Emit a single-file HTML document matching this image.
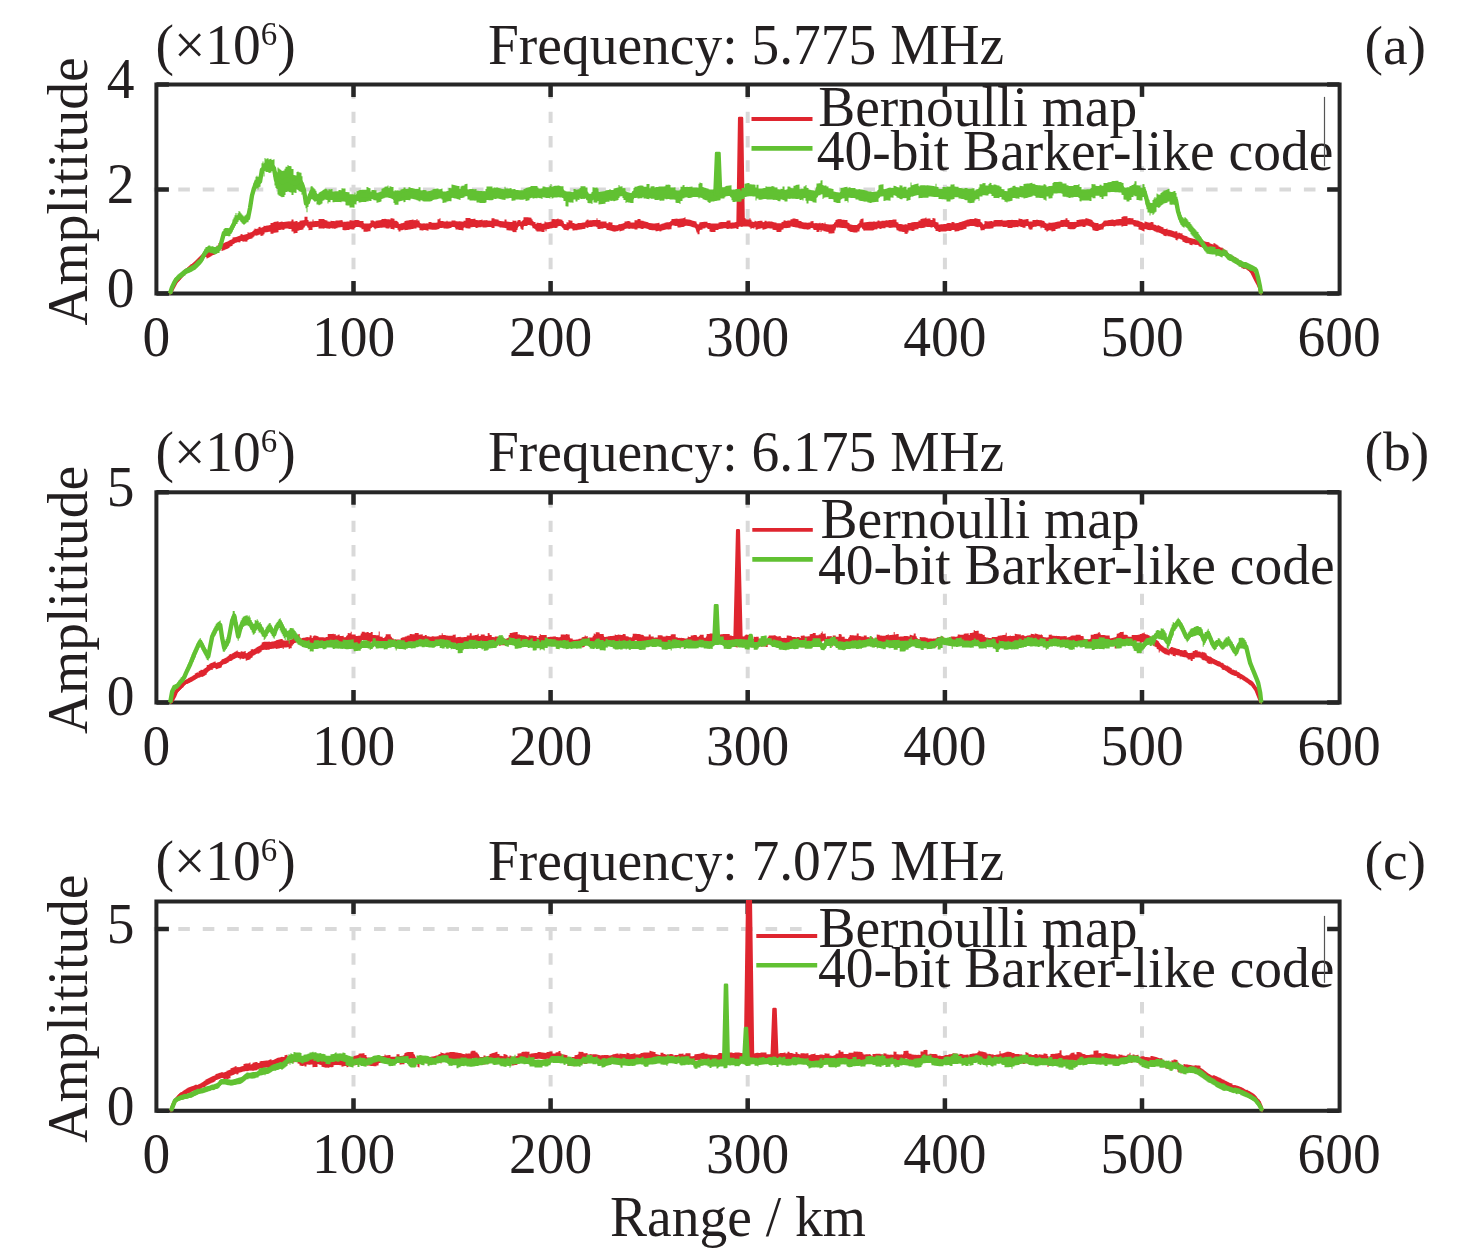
<!DOCTYPE html>
<html><head><meta charset="utf-8"><title>Figure</title>
<style>html,body{margin:0;padding:0;background:#fff;} svg{display:block;}</style>
</head><body>
<svg width="1476" height="1254" viewBox="0 0 1476 1254" font-family="'Liberation Serif', 'Times New Roman', serif" font-size="55.5" fill="#231f20">
<rect width="1476" height="1254" fill="#fff"/>
<defs>
<clipPath id="c0"><rect x="156.4" y="83.0" width="1182.7" height="212.0"/></clipPath>
<clipPath id="c1"><rect x="156.4" y="490.8" width="1182.7" height="213.2"/></clipPath>
<clipPath id="c2"><rect x="156.4" y="900.0" width="1182.7" height="212.3"/></clipPath>
</defs>
<path d="M353.5 293.5 V84.5 M550.6 293.5 V84.5 M747.7 293.5 V84.5 M944.9 293.5 V84.5 M1142.0 293.5 V84.5" stroke="#d9d9d9" stroke-width="4" stroke-dasharray="11.4 12.95" fill="none"/>
<path d="M153.8 189.5 H1339.1" stroke="#d9d9d9" stroke-width="4.2" stroke-dasharray="11.6 12.87" fill="none"/>
<path d="M353.5 702.5 V492.3 M550.6 702.5 V492.3 M747.7 702.5 V492.3 M944.9 702.5 V492.3 M1142.0 702.5 V492.3" stroke="#d9d9d9" stroke-width="4" stroke-dasharray="11.4 12.95" fill="none"/>
<path d="M353.5 1110.8 V901.5 M550.6 1110.8 V901.5 M747.7 1110.8 V901.5 M944.9 1110.8 V901.5 M1142.0 1110.8 V901.5" stroke="#d9d9d9" stroke-width="4" stroke-dasharray="11.4 12.95" fill="none"/>
<path d="M153.8 929.0 H1339.1" stroke="#d9d9d9" stroke-width="4.2" stroke-dasharray="11.6 12.87" fill="none"/>
<path d="M353.5 293.5 V281.0 M353.5 84.5 V97.0 M550.6 293.5 V281.0 M550.6 84.5 V97.0 M747.7 293.5 V281.0 M747.7 84.5 V97.0 M944.9 293.5 V281.0 M944.9 84.5 V97.0 M1142.0 293.5 V281.0 M1142.0 84.5 V97.0 M156.4 293.5 H168.9 M1339.6 293.5 H1327.1 M156.4 189.5 H168.9 M1339.6 189.5 H1327.1 M156.4 84.5 H168.9 M1339.6 84.5 H1327.1" stroke="#262626" stroke-width="4.5" fill="none"/>
<rect x="156.4" y="84.5" width="1183.2" height="209.0" stroke="#262626" stroke-width="4" fill="none"/>
<g clip-path="url(#c0)" fill="#df252f" stroke="#df252f">
<path d="M169.5 291.4h1v-2.2h1v-1.9h1v-2.2h1v-1.6h1v-1.9h1v-1.9h1v-1.5h1v-1.1h1v-1.1h1v-1.2h1v-0.8h1v-1.3h1v-1.1h1v-1.2h1v-1h1v-0.8h1v-0.7h1v-0.8h1v-1.1h1v-0.8h1v-0.9h1v-0.4h1v-0.9h1v-0.8h1v-0.9h1v-0.9h1v-1h1v-1h1v-1h1v-1h1v-0.9h1v-1.2h1v-1.5h1v-0.8h1v-0.8h1v-0.6h1v1.3h1v-0.6h1v-0.6h1v-0.6h1v-0.6h1v-0.6h1v-0.7h1h1v-0.8h1v-0.4h1v-1.3h1v-0.3h1v-2.3h1v-0.4h1v-0.4h1v1.6h1v-0.4h1v-0.4h1v-0.5h1v-0.5h1v-0.4h1v-0.5h1v-0.4h1v-0.7h1v-0.4h1v-0.4h1v-1.7h1v-0.4h1v0.1h1v-0.3h1v-0.3h1v-0.4h1v-0.4h1v-0.3h1v-1.3h1v-0.2h1v0.8h1v-0.2h1v-0.2h1v-0.3h1v-0.2h1v-1.8h1v0.6h1v-0.3h1v-0.3h1v-0.2h1v-1h1v-1.3h1v-1.1h1v0.5h1v-0.3h1v-0.3h1v-1.5h1v-0.3h1v1h1v-0.3h1v-0.3h1v-1.3h1v0.1h1v-0.2h1v-0.1h1v-0.2h1v-0.2h1v-0.1h1v-2.1h1v-0.1h1v-0.1h1v-0.9h1v-0.1h1v-0.1h1v-0.2h1v-0.3h1v1h1v-0.2h1v-0.3h1v-0.2h1v0.5h1v-0.1h1v-0.1h1v-0.1h1v-0.1h1v-0.1h1v-0.2h1v0.1h1v-0.1h1v-1.7h1v-0.1h1v2h1v-0.1h1v-0.3h1v-0.2h1v1.3h1v-0.3h1v-1.1h1v-0.2h1v-0.2h1v-0.1h1v-0.1h1v-3.4h1v-0.1h1h1v3.4h1v1.6h1v-0.1h1v-0.1h1v-0.1h1v-1.9h1v1.8h1v-0.2h1v-0.1h1v-0.1h1h1v-2h1h1h1v0.1h1v0.1h1h1v1h1v0.1h1v0.2h1v1.1h1v0.1h1v0.1h1v-0.9h1v0.1h1v0.1h1v0.1h1v0.2h1v-0.7h1h1v-0.2h1h1v-0.1h1h1v-0.2h1v2.8h1v-1.2h1h1h1v-0.1h1h1h1v-1.3h1h1v0.1h1h1v0.2h1v-0.6h1h1h1v0.1h1v0.1h1v0.8h1v0.1h1h1h1v2.5h1h1h1h1h1v-0.1h1v-0.2h1v-2.8h1v-0.1h1v-0.2h1v0.8h1v0.5h1v-0.8h1v-0.1h1v-0.1h1v-0.2h1v-0.1h1v-0.2h1v-1h1v-0.1h1h1v-0.1h1v0.3h1v0.1h1v0.1h1h1v0.1h1v-1.2h1v0.1h1v0.2h1v0.2h1v2h1v0.1h1v0.1h1v1.2h1v1.8h1h1v-0.7h1h1v-0.1h1v-0.7h1v-1.5h1v-0.1h1v-0.2h1v-0.1h1v-0.2h1v-0.3h1v-0.1h1v-0.2h1v-0.1h1v0.6h1v-0.1h1v0.1h1v-1.1h1v1.5h1v-0.1h1v2.8h1v0.1h1v0.1h1h1v-0.2h1v0.2h1v0.1h1v-0.4h1v0.2h1v-1.5h1v0.1h1v0.1h1v0.7h1h1h1v-0.1h1h1v-0.2h1v-3.2h1v-0.1h1v-1h1v2.9h1v-0.1h1v-0.1h1v0.6h1v0.1h1h1v-0.8h1v0.7h1h1h1v0.1h1v-1.1h1h1h1v0.1h1v0.6h1h1v0.2h1v-0.2h1v0.1h1v0.1h1v0.2h1v0.1h1v-1h1v0.1h1v-2.9h1v0.1h1h1h1h1v1.1h1v-0.1h1v-0.1h1v-0.1h1h1v1.3h1v-0.1h1v0.3h1v-0.1h1v-0.1h1v-0.1h1v-0.4h1v0.8h1v-0.1h1v-0.1h1h1v-0.1h1v0.6h1v-0.1h1v0.1h1h1v-2.5h1v0.1h1h1v0.9h1v0.1h1v0.1h1v0.1h1v0.9h1v0.6h1v0.1h1v0.1h1v0.1h1v0.1h1v-1.9h1v0.1h1v2h1v0.1h1v0.1h1v0.1h1v0.1h1v0.1h1v-1.5h1v0.1h1h1h1v3h1v-3.5h1v-0.2h1v-0.1h1v2.6h1v-1.4h1v-0.1h1v-3.8h1h1h1h1h1v0.2h1v0.1h1v0.2h1v1.5h1v2.8h1v0.1h1h1v2h1v-1.3h1h1v0.1h1h1v-0.1h1v0.9h1h1v-0.1h1v-2.2h1v0.9h1h1v-0.1h1v-0.2h1v-0.3h1v-0.3h1v-2.1h1v-0.2h1v-0.2h1v0.4h1h1v-0.2h1v-0.6h1v0.8h1h1v0.2h1v0.2h1v1.3h1v2.9h1v0.2h1v0.2h1v-2h1v0.3h1v-2.5h1v0.3h1v0.2h1v0.1h1v2.3h1h1v0.8h1h1h1v-0.7h1h1h1v-0.2h1v-0.1h1v-0.2h1v-0.1h1v-0.3h1v-1.5h1v-0.9h1v-0.2h1v0.8h1v-0.1h1v-0.1h1h1v-0.2h1v-0.1h1v0.1h1h1v-1.7h1v1.6h1h1h1v1.7h1h1h1v-0.2h1h1v0.1h1v1.7h1v0.1h1v-1.3h1v0.2h1v0.2h1v0.2h1v2.3h1v0.2h1v0.2h1v-0.1h1h1v-0.1h1v-1h1v0.1h1v-0.3h1v-0.2h1v-0.3h1v-0.3h1v-1.6h1v-0.1h1v-0.2h1v-0.1h1h1v0.3h1v1h1v0.1h1v0.1h1h1v-2.4h1h1v0.1h1v-1.4h1h1v0.1h1v1.6h1v0.1h1v0.1h1v0.5h1v0.1h1v0.3h1v0.2h1v0.3h1v0.7h1v0.2h1v0.2h1h1v0.3h1h1h1v-0.3h1v-0.1h1v-0.2h1v-0.2h1v1.8h1v-0.3h1v-0.6h1v-0.2h1v-0.3h1v-0.5h1v-0.2h1v-0.2h1h1v-0.1h1v-0.1h1h1v-3.2h1v0.1h1v0.1h1v-0.4h1h1v-0.1h1v0.3h1v-0.1h1v-0.1h1v-0.2h1v-0.1h1v-0.1h1v-0.2h1v-0.8h1v1.9h1v0.1h1v0.1h1v0.2h1v0.2h1v0.3h1v0.3h1v0.4h1v0.1h1v0.3h1v0.2h1v4.6h1v0.6h1h1v-4.3h1v-0.1h1v-0.1h1v-0.2h1v-0.1h1v-0.1h1h1h1v1.3h1h1h1v0.5h1h1h1v0.1h1h1v-0.2h1h1h1v-1h1v-0.1h1v-0.2h1h1v-0.1h1v0.1h1v-0.1h1h1v-1.3h1v-0.1h1v-0.1h1v-0.1h1v2.3h1v-0.1h1v-0.1h1v-0.1h1v-0.2h1v-0.1h1v-0.4h1h1v-2.5h1h1v0.5h1v0.1h1v-1.8h1h1h1v1.3h1v0.1h1v0.1h1v0.1h1v-1.3h1v1.5h1v1.7h1v0.2h1v0.2h1v-1.2h1v0.5h1v0.2h1v-0.4h1v-0.1h1v-0.1h1h1v-0.1h1v1.6h1v-0.2h1v-1.3h1v-0.1h1v0.7h1h1v-0.1h1v0.1h1h1v0.1h1v0.6h1v0.2h1v0.1h1v0.1h1v0.8h1h1h1h1v-0.1h1v-1.2h1v-0.2h1v-1.3h1v-0.3h1v0.8h1v-0.2h1v-0.2h1v-0.1h1v-0.1h1v-1.2h1v0.1h1v-0.9h1v0.1h1v0.1h1v0.3h1v0.1h1v0.3h1v1.5h1v0.2h1v0.1h1v0.9h1v0.2h1v0.2h1v0.1h1v-0.1h1v0.3h1v0.1h1v-0.3h1h1v-1.3h1h1v-0.1h1v2.1h1h1v-0.1h1v0.2h1h1v-0.1h1v-0.4h1v0.7h1v-0.6h1v0.2h1v0.7h1v-1.2h1v1.4h1v0.2h1h1v0.3h1h1h1v-0.1h1v-0.1h1v-0.2h1v-0.3h1v-3.8h1v-0.6h1v-0.1h1v-0.2h1v0.2h1v-0.2h1v0.7h1h1h1v0.1h1v0.1h1v0.1h1v2.5h1v0.3h1v1.3h1v0.3h1v0.2h1v0.2h1v0.1h1v0.1h1h1h1v-1h1v-0.1h1v-3.4h1v-1.7h1v-0.1h1v-0.2h1v3.8h1v-0.2h1h1v-0.2h1v-0.1h1v-0.1h1v-0.1h1h1h1h1v-0.4h1v0.4h1h1v-0.1h1v-1.1h1h1v0.7h1h1v-0.4h1h1h1h1v-0.5h1h1v0.1h1v-0.4h1h1h1h1v-0.5h1v-0.1h1h1h1v2.9h1v0.2h1v1.4h1v0.1h1v0.1h1v0.2h1v0.2h1v0.2h1v-0.5h1v0.1h1v0.1h1v-1.5h1h1h1v-0.1h1v-0.6h1h1v-0.2h1v0.1h1v-0.1h1v-0.1h1v-0.1h1v-1.2h1v-0.1h1v-1.5h1v-0.2h1v-0.2h1v-0.2h1v-0.1h1v-0.8h1v1.2h1v-0.1h1h1h1v1.3h1v0.2h1v-2h1v0.1h1v0.2h1v3.7h1v0.2h1v0.1h1v2.1h1h1v-0.3h1h1h1v-0.1h1h1h1v-0.8h1v-0.3h1h1v0.1h1v0.1h1v-1.2h1v0.1h1v0.1h1v1h1h1v-0.2h1v-0.1h1v-0.3h1v-0.7h1h1v-0.3h1v-0.3h1v-0.4h1v-0.3h1v-0.3h1v-0.6h1v-0.1h1v-0.2h1v-0.4h1h1v-0.1h1h1v0.1h1v-0.9h1v0.3h1v0.2h1v0.3h1v0.1h1v0.3h1v3.1h1v0.3h1v1.5h1v0.3h1v-3.4h1v0.1h1v0.1h1v0.1h1v-0.1h1h1v-0.2h1h1v0.6h1v-1.5h1v-0.1h1v-0.1h1v0.1h1h1h1h1h1v-0.3h1v0.8h1v-0.1h1v-0.1h1h1v-0.1h1v-0.2h1h1v-0.1h1v-0.1h1v-0.1h1v0.2h1h1h1v-0.1h1v0.1h1v0.2h1v-1.7h1v0.2h1v0.4h1h1v0.6h1v-0.1h1v-0.1h1v-0.2h1v-0.2h1v-0.1h1v2.8h1v-0.2h1v-0.1h1v-0.1h1v-1.4h1h1h1h1v-0.5h1v0.4h1v0.1h1v0.2h1v-0.3h1v0.7h1v0.2h1v0.2h1v2.2h1v0.2h1h1v0.2h1v-1h1v0.2h1h1h1v-0.2h1v-0.1h1v-0.3h1v-0.1h1v-0.3h1v-0.2h1v-0.2h1v-0.2h1v-1.2h1h1h1v-0.2h1h1v-1.6h1v0.1h1v1.8h1v0.1h1v1.9h1v-0.1h1h1h1v-0.1h1v-0.2h1v0.2h1v-1.8h1v-0.2h1v-0.2h1v-0.1h1v-0.2h1v-0.2h1v0.1h1h1h1v-1.3h1v0.4h1v0.2h1v0.3h1v0.4h1v0.3h1v0.3h1v2.4h1v0.2h1v0.2h1v0.2h1h1h1v1.3h1v-0.3h1v-0.2h1v-0.1h1v-0.2h1v-2.6h1v-0.2h1v-0.1h1v-0.1h1v-0.2h1v-0.1h1v-0.1h1v-0.3h1v-0.1h1v-0.1h1v0.6h1v-0.2h1v-0.4h1v-0.2h1v-0.1h1v-0.2h1v-0.1h1h1v-1.8h1v-0.7h1v-0.1h1h1h1h1v1.9h1v-0.1h1h1v0.2h1h1h1v1.6h1v0.1h1v0.2h1v0.2h1v0.2h1v0.5h1v0.3h1v0.3h1v0.4h1v0.6h1v0.6h1v-1.9h1v0.4h1v0.3h1v0.3h1v0.2h1v0.2h1v-0.9h1v0.1h1v0.2h1v2.2h1v0.3h1v0.4h1v0.8h1v-0.8h1v0.5h1v0.4h1v0.5h1v0.4h1v0.3h1v1.5h1v0.2h1v0.2h1v-0.7h1v1.3h1v0.1h1v0.2h1v0.2h1v0.3h1v0.4h1v0.4h1v0.4h1v-0.7h1v0.5h1v1.8h1v-0.7h1v0.5h1v0.5h1v-0.4h1v2.1h1v0.2h1v0.2h1v0.3h1v0.2h1v1.1h1v0.3h1v0.3h1v0.2h1v0.3h1v0.2h1v0.3h1v0.2h1v0.3h1v-0.2h1v0.2h1v-0.3h1v0.5h1v0.2h1v0.3h1v0.5h1v0.4h1v0.4h1v0.3h1v0.4h1v-0.2h1v0.4h1v1h1v0.4h1v0.4h1v0.5h1v-1.6h1v0.6h1v0.6h1v0.6h1v0.7h1v0.9h1v0.6h1v0.7h1v-0.1h1v0.6h1v1h1v0.6h1v0.5h1v2.2h1v0.5h1v1.1h1v0.5h1v0.4h1v0.5h1v0.5h1v0.7h1v0.3h1v0.7h1v0.7h1v1.1h1v0.7h1v0.7h1v0.7h1v0.4h1v1.5h1v0.7h1v-0.8h1v0.8h1v0.8h1v0.8h1v-0.3h1v0.8h1v0.8h1v1.6h1v2.8h1v2h1v2h1v2.1h1v1.8h1v1.9h1v1.8h1v2.6h1v5.4h1V295.8h-1v-5.4h-1v-2.6h-1v-2.1h-1v-2h-1v-1.8h-1v-2h-1v-1.9h-1v-1.9h-1v-2h-1v-1.5h-1v-0.7h-1v-0.8h-1v-0.7h-1v-0.7h-1v-0.8h-1v-0.8h-1v1h-1v-0.8h-1h-1v-1.7h-1v-0.7h-1v-0.6h-1v-0.7h-1v-0.5h-1v-0.6h-1v-0.7h-1v-0.9h-1v-0.6h-1v-0.4h-1v-0.5h-1v-0.4h-1v-0.5h-1v-0.8h-1v-0.5h-1v-2.5h-1v-0.5h-1v-0.6h-1v0.1h-1v-0.6h-1v0.1h-1v-0.6h-1v-0.6h-1v-1.3h-1v-0.6h-1v-0.6h-1v-0.5h-1v-0.6h-1v1.1h-1v-0.4h-1v-0.4h-1v-0.4h-1v-0.1h-1v-0.3h-1v0.3h-1v-0.3h-1v-0.3h-1v-0.4h-1v-0.6h-1v-0.4h-1v-0.2h-1v-0.2h-1v-0.5h-1v-1.3h-1v-0.2h-1v0.2h-1v-0.3h-1v-0.2h-1v-0.3h-1v1.1h-1v-0.2h-1v-0.3h-1v-1.4h-1v-0.3h-1v0.1h-1v-0.2h-1v-0.3h-1v-0.8h-1v-0.2h-1v-2.1h-1v-0.2h-1v-0.4h-1v-0.5h-1v0.7h-1v1.2h-1v-0.5h-1v-1.7h-1v-0.4h-1v-0.4h-1v-0.3h-1v-0.4h-1v-0.2h-1v-0.2h-1v-0.1h-1v-0.8h-1v0.8h-1v-0.2h-1v-0.2h-1v-1.5h-1v-0.4h-1v-0.3h-1v-0.5h-1v-0.4h-1v-0.4h-1v0.2h-1v-0.8h-1v-0.3h-1v-0.3h-1v-0.9h-1v-0.1h-1v-0.1h-1v0.3h-1v-0.2h-1v-0.2h-1v-0.3h-1v-0.3h-1v-0.4h-1v2.6h-1v-0.5h-1v-0.6h-1v-0.4h-1v-0.3h-1v-0.3h-1v-2.4h-1v-0.2h-1v-0.2h-1v-0.2h-1v-0.1h-1v-1.8h-1v-0.1h-1h-1h-1h-1v0.1h-1v1.5h-1v0.1h-1h-1h-1v0.1h-1v0.6h-1v-1.4h-1h-1v0.1h-1v0.2h-1v-0.1h-1v0.2h-1v0.5h-1v0.2h-1v-0.6h-1v0.1h-1v0.1h-1v-0.1h-1v0.1h-1v0.1h-1v-0.1h-1v0.2h-1v0.1h-1v0.1h-1v2.9h-1v0.2h-1v0.1h-1v0.2h-1v0.3h-1v0.7h-1h-1h-1v-0.2h-1v-0.2h-1v-0.2h-1v-3.1h-1v-0.4h-1v-0.3h-1v-0.4h-1v-0.3h-1v-0.2h-1v0.2h-1v1.3h-1h-1h-1v-0.9h-1v0.2h-1v0.2h-1v0.1h-1v0.2h-1v0.2h-1v0.8h-1v1.1h-1v0.2h-1h-1h-1v0.1h-1h-1v-0.4h-1v-0.1h-1v-1.8h-1v-0.1h-1v-0.2h-1h-1v0.3h-1h-1h-1v1.2h-1v0.2h-1v0.2h-1v0.3h-1v0.2h-1v1.8h-1v0.2h-1v0.2h-1v0.1h-1v-1h-1v-0.1h-1v-0.1h-1v0.9h-1v0.7h-1v-1.4h-1v-0.3h-1v-2.1h-1v-0.2h-1v-0.3h-1v0.7h-1v-1.8h-1v-0.2h-1v-0.1h-1v0.2h-1v0.5h-1v-0.1h-1h-1h-1v2.8h-1v0.1h-1v0.1h-1v-0.9h-1v-2.8h-1v0.1h-1v0.2h-1v1.4h-1v0.1h-1h-1v-0.8h-1h-1v-0.5h-1v-0.2h-1v0.9h-1v-0.2h-1v-0.1h-1v0.3h-1h-1h-1v0.7h-1h-1v0.1h-1v0.1h-1h-1v-1.3h-1v0.2h-1h-1v0.1h-1h-1v-0.8h-1v0.1h-1h-1h-1h-1h-1v0.2h-1v0.1h-1v0.1h-1v1.5h-1v0.2h-1v0.1h-1v0.1h-1h-1v0.1h-1h-1v-0.1h-1v-0.2h-1v1.8h-1v-0.3h-1v0.5h-1v-0.3h-1v-3.1h-1v-0.3h-1v0.4h-1v-0.2h-1v-0.2h-1v-0.3h-1v-0.5h-1h-1v-0.1h-1v0.1h-1v0.1h-1v0.3h-1v0.2h-1v0.1h-1v2h-1v0.4h-1v0.2h-1v0.4h-1v0.3h-1v0.3h-1v-0.1h-1v0.7h-1v0.3h-1v0.1h-1v0.2h-1h-1v-1.4h-1v-0.1h-1v-0.1h-1v1.2h-1v-0.1h-1v-0.1h-1v-0.1h-1v0.3h-1v0.3h-1v0.1h-1h-1h-1v0.1h-1h-1v0.5h-1v-0.1h-1v-0.7h-1v-0.2h-1v-0.1h-1v-3.7h-1v-0.2h-1v-0.2h-1v0.7h-1v-0.1h-1v-0.6h-1h-1h-1v0.1h-1v-0.2h-1v0.8h-1v0.1h-1v0.2h-1v0.2h-1v0.1h-1v-0.3h-1v0.1h-1v1.2h-1v0.1h-1v0.1h-1v0.2h-1v1.2h-1v0.2h-1v0.1h-1v-0.6h-1v0.1h-1h-1v1.8h-1v1.5h-1v-0.1h-1v-0.1h-1v-1.6h-1v-0.2h-1v-0.2h-1v-0.2h-1v-0.1h-1v-0.1h-1v-0.9h-1v-0.1h-1v-2.9h-1h-1h-1h-1v0.4h-1h-1v0.1h-1v-0.1h-1v-0.5h-1v-0.1h-1h-1v1h-1h-1h-1h-1v0.7h-1h-1v-0.6h-1h-1v1h-1v0.1h-1v-0.1h-1v0.7h-1v0.4h-1h-1h-1v0.1h-1h-1v-0.1h-1v0.1h-1v0.1h-1h-1v0.2h-1v-3.7h-1v0.1h-1v0.1h-1v0.9h-1v3.4h-1h-1v1h-1v-0.1h-1h-1h-1v-0.2h-1v-0.2h-1v-0.2h-1v-0.2h-1v-0.8h-1v-0.3h-1v-2.1h-1v-0.2h-1v-0.1h-1v-0.1h-1h-1h-1v-0.4h-1v0.1h-1v-0.4h-1v0.2h-1v0.1h-1v-0.9h-1v3.8h-1v2.6h-1v0.1h-1v0.2h-1v0.1h-1h-1v-0.1h-1v-1.6h-1v-0.1h-1v-0.1h-1v-0.5h-1v0.1h-1v-0.7h-1v-0.2h-1v1.7h-1v-2h-1v1.7h-1v0.1h-1h-1v-2h-1v0.1h-1h-1v-2.1h-1v0.1h-1h-1v1.3h-1h-1v0.4h-1v-0.2h-1v-0.2h-1h-1v-0.1h-1v-0.2h-1v-0.2h-1v-0.2h-1v-0.1h-1v-0.3h-1v-0.4h-1v-0.2h-1v-0.2h-1v-0.2h-1v-0.1h-1v-0.1h-1v-0.4h-1v-0.1h-1v1.2h-1v0.1h-1v0.1h-1v0.1h-1v0.3h-1v-0.4h-1v0.3h-1v1.3h-1v0.2h-1v2.1h-1v0.1h-1h-1h-1h-1v-1.7h-1v-0.1h-1v-0.1h-1v-0.2h-1v-1.4h-1h-1h-1v-0.1h-1h-1v0.1h-1v0.7h-1v0.2h-1v0.3h-1v0.2h-1v-1.6h-1v0.1h-1v0.4h-1v0.1h-1v0.1h-1v0.8h-1v-0.2h-1v-2.3h-1v1.2h-1v-0.2h-1v-0.2h-1v1h-1v-1.5h-1v-0.8h-1v-0.1h-1v-0.1h-1v-0.1h-1v0.1h-1h-1h-1v0.4h-1v-0.1h-1v-0.3h-1h-1v2.4h-1v0.1h-1v-0.7h-1h-1v0.2h-1v0.1h-1v0.1h-1v0.1h-1v-0.2h-1v0.1h-1v0.2h-1h-1v-0.7h-1h-1v0.1h-1v0.3h-1v0.1h-1h-1v0.2h-1v0.1h-1v1h-1h-1h-1v2.1h-1h-1v-0.1h-1h-1v-0.1h-1v-0.4h-1v-2.6h-1h-1v-1.4h-1v0.1h-1v0.7h-1v0.2h-1v0.1h-1v1.1h-1v0.1h-1v0.1h-1v4.3h-1h-1v-1.6h-1v-4.6h-1v-0.2h-1v-0.3h-1v-0.3h-1v-0.3h-1v-0.3h-1v-0.3h-1v-0.2h-1v-0.2h-1v-0.1h-1v-0.1h-1v0.3h-1v0.8h-1v0.2h-1v0.1h-1v0.1h-1v0.2h-1v0.1h-1v0.1h-1v-1.8h-1v0.1h-1h-1v-0.4h-1h-1v-0.2h-1v4h-1h-1v0.1h-1v0.1h-1v-0.2h-1v0.2h-1v0.2h-1v0.3h-1v0.3h-1v0.2h-1v0.7h-1v0.2h-1v-0.6h-1v0.2h-1v0.2h-1v0.1h-1v-1h-1v-0.1h-1h-1h-1v-0.1h-1v-0.2h-1v-0.2h-1v-0.7h-1v-0.3h-1v-0.2h-1v-0.2h-1h-1v0.7h-1v-0.1h-1v-0.1h-1v-0.5h-1v-0.1h-1v0.1h-1v1.3h-1v-0.1h-1h-1v-0.7h-1h-1v-0.1h-1v-0.1h-1v0.2h-1v0.3h-1v-0.6h-1v0.1h-1v0.1h-1v0.2h-1v1.4h-1v0.2h-1v0.3h-1v0.3h-1v0.3h-1v-1.2h-1v0.9h-1v0.2h-1h-1v0.5h-1v-0.2h-1v-0.2h-1v-0.5h-1v-0.2h-1v-0.2h-1v-0.2h-1v-0.3h-1v-0.1h-1v-1.7h-1v-0.1h-1h-1v0.5h-1v0.1h-1v-0.1h-1v0.4h-1h-1h-1v-1.7h-1v-0.9h-1h-1h-1h-1v0.5h-1h-1h-1v0.2h-1v0.7h-1v0.2h-1v-0.9h-1v1.6h-1v0.2h-1v0.2h-1v0.2h-1v0.2h-1v0.1h-1v0.1h-1h-1v0.6h-1h-1h-1v0.3h-1v-0.1h-1v-1.8h-1v-0.1h-1v-0.2h-1v-0.3h-1v2.5h-1v-0.3h-1v-0.2h-1v-0.2h-1v-0.2h-1v-2.9h-1v-0.3h-1v-0.3h-1v-0.1h-1h-1v0.3h-1v1.4h-1v0.2h-1h-1v-0.2h-1v0.2h-1v0.2h-1v0.2h-1v0.2h-1v0.3h-1v0.2h-1v0.1h-1v2h-1v-1.6h-1v2.3h-1h-1h-1v-0.4h-1h-1h-1h-1v-0.1h-1v-1h-1v-2h-1v-0.1h-1h-1v-2.8h-1v-0.1h-1v-0.2h-1v-0.2h-1v-0.1h-1v1.1h-1v-0.1h-1h-1v0.1h-1v3.8h-1h-1v-1.1h-1v-2.6h-1v0.1h-1v0.2h-1v3.5h-1v2.3h-1v-0.1h-1v0.1h-1v-0.1h-1v-1.4h-1v-0.1h-1v-0.1h-1v-0.1h-1v-0.1h-1v-0.1h-1v-2h-1v-0.1h-1v-0.3h-1v-0.1h-1v-0.1h-1v-0.1h-1v-0.1h-1v-0.6h-1v-0.4h-1v-0.1h-1h-1v-0.1h-1v1.9h-1h-1v-0.1h-1v-1h-1h-1h-1h-1v0.3h-1v0.1h-1h-1v0.1h-1v0.1h-1v-0.8h-1v0.4h-1v0.1h-1h-1v0.2h-1v0.6h-1h-1v-1.2h-1v0.1h-1v0.1h-1v0.1h-1v0.1h-1v1.1h-1h-1h-1v-0.1h-1h-1v-0.7h-1v-0.1h-1v2.9h-1v-0.1h-1v-0.2h-1h-1v-0.1h-1v-0.4h-1v-0.2h-1h-1v-2.5h-1h-1h-1h-1v1h-1h-1v0.6h-1h-1v0.2h-1v-0.3h-1h-1h-1v-0.6h-1v0.1h-1h-1v0.2h-1v1h-1v0.1h-1v0.3h-1v0.2h-1h-1h-1v0.1h-1h-1v-0.3h-1v-0.1h-1v-0.1h-1v1.4h-1v-0.2h-1v-0.2h-1v-0.2h-1v-0.1h-1v0.5h-1v-0.1h-1v-0.1h-1h-1v-2.8h-1h-1v-0.1h-1v1.1h-1h-1v0.1h-1v0.4h-1v0.1h-1v0.2h-1v0.1h-1v0.2h-1v0.2h-1v0.1h-1v0.2h-1v0.1h-1v-0.7h-1v0.6h-1v0.1h-1h-1v1.3h-1h-1v-1.8h-1v-1.7h-1v-0.1h-1v-0.1h-1v1.6h-1v-0.2h-1v-0.1h-1v-0.2h-1v-1.3h-1v1h-1v-0.1h-1v-0.1h-1v-0.1h-1v-0.8h-1v0.1h-1h-1v0.1h-1h-1v0.1h-1v0.2h-1v0.1h-1v0.1h-1v0.2h-1v0.9h-1v-1.4h-1v-0.8h-1v0.2h-1v0.1h-1v3.8h-1v0.1h-1v0.1h-1v0.4h-1h-1h-1v-0.1h-1v-2.4h-1h-1v-1.5h-1v-0.2h-1v-0.5h-1v-0.1h-1v-0.1h-1h-1v0.4h-1v2.3h-1v-0.1h-1v-0.1h-1v-0.1h-1h-1v0.8h-1h-1h-1v0.1h-1h-1h-1v-0.3h-1v-2.8h-1v0.1h-1v0.1h-1v0.1h-1h-1v0.9h-1h-1v0.7h-1v-0.4h-1v-0.1h-1h-1v-0.5h-1v0.8h-1v-0.1h-1v-0.1h-1v-0.2h-1v-0.2h-1v-0.1h-1v0.6h-1v-0.1h-1h-1v-0.1h-1v-0.1h-1v0.1h-1v-1.7h-1v0.1h-1h-1v0.2h-1v0.1h-1v0.1h-1v2.7h-1h-1v0.1h-1v0.1h-1v-2.5h-1v-3.5h-1h-1v0.1h-1v3.4h-1v1.9h-1v0.1h-1v0.2h-1v0.2h-1v0.5h-1v0.2h-1v2.1h-1v0.2h-1v0.2h-1v0.2h-1v-2.1h-1v0.1h-1v-2.5h-1v0.1h-1v-0.1h-1v-0.6h-1v0.1h-1v0.1h-1v0.1h-1v1.1h-1v0.2h-1v-0.6h-1v0.3h-1v0.2h-1v0.2h-1v2.1h-1v0.2h-1v0.2h-1v0.2h-1h-1v0.9h-1v0.1h-1h-1v-2.1h-1v0.1h-1v0.2h-1v0.2h-1v0.1h-1v0.2h-1v1.8h-1v1.2h-1v0.3h-1v0.3h-1v-1.7h-1v0.3h-1v0.5h-1v0.3h-1v0.2h-1v-0.4h-1v1.1h-1v1h-1v1h-1v0.3h-1v0.2h-1v0.3h-1v0.7h-1v1.7h-1v0.2h-1v-0.4h-1v0.2h-1v0.2h-1v-0.9h-1v0.2h-1v1.2h-1v0.3h-1v-0.5h-1v0.3h-1v0.3h-1v0.3h-1v0.9h-1v0.3h-1v1.7h-1v0.4h-1v0.4h-1v1.4h-1v0.3h-1v0.5h-1v0.4h-1v0.5h-1v0.4h-1v0.4h-1v0.4h-1v-2.1h-1v0.4h-1v0.3h-1v2.2h-1v0.4h-1v1.7h-1v0.4h-1v0.6h-1v0.2h-1v0.6h-1v0.6h-1v0.6h-1v0.5h-1v0.5h-1v0.6h-1v-1.4h-1v-0.2h-1v0.8h-1v0.7h-1v1.3h-1v1.2h-1v0.9h-1v1h-1v0.9h-1v0.9h-1v1h-1v0.9h-1v0.8h-1v0.8h-1v0.9h-1v0.5h-1v0.8h-1v0.8h-1v1.1h-1v0.7h-1v0.7h-1v0.8h-1v1.1h-1v1h-1v1.1h-1v1.2h-1v1h-1v1h-1v1.1h-1v1.1h-1v0.9h-1v1.9h-1v1.9h-1v2.2h-1v1.6h-1v2h-1v2.1h-1Z" stroke="none"/>
<path d="M170 293.5l2-4.1 2-3.8 2-3.8 2-2.2 2-2.2 2-2.4 2-2.1 2-1.9 2-1.4 2-1.6 2-1.7 2-1.7 2-1.8 2-1.9 2-1.9 2-2.1 2-1.7 2-1.3 2 0.7 2-1.1 2-1.2 2-1.3 2-1.1 2-0.7 2-2.6 2 0.2 2-0.9 2-0.9 2-0.9 2-0.8 2-0.8 2-2 2-0.7 2-0.6 2-0.6 2-0.6 2 0.7 2-0.5 2-2 2-0.5 2-0.5 2-2.1 2-0.7 2-0.5 2-0.6 2-0.5 2-1.6 2-0.4 2-0.4 2-0.2 2-0.1 2-1 2-0.2 2-0.4 2-0.5 2-0.5 2 0.4 2-0.3 2-0.2 2 0.1 2-0.1 2 1.9 2-0.4 2-1 2-0.5 2-0.4 2-0.2 2-3.4 2 3.4 2-0.2 2-0.1 2-0.2 2-0.3 2-0.1 2 0.2 2 0.1 2 0.1 2 0.2 2 0.2 2 0.2 2-0.8 2 0.1 2-0.6 2-0.1 2-0.1 2-0.2 2 2.7 2 0 2-0.1 2 0.1 2 0.1 2 0.2 2-2.4 2 0.1 2 0.2 2 0.3 2 2.4 2 0.1 2 0 2-0.2 2-2.3 2 0.6 2-0.3 2-0.3 2-0.3 2-0.3 2-0.1 2 0 2 0.1 2 0.3 2 0.3 2 0.3 2 0.2 2 0.2 2 1.8 2-0.1 2-0.2 2-0.2 2-0.3 2-1 2-0.3 2-0.2 2 0 2-1.1 2 2.7 2 0.2 2 0.1 2 0.4 2 0.2 2-1.6 2 0.2 2 0 2-0.1 2-0.2 2-1.2 2-0.2 2 0.6 2 0 2 0.2 2 0 2-1 2 0 2 2.2 2 0.2 2 0.1 2 0.2 2-2.7 2 0.2 2 0.1 2 0 2-0.2 2-0.2 2 0.1 2-0.2 2-0.2 2-0.2 2 0.7 2-0.1 2-0.1 2 0 2-1 2 0.2 2 0.1 2 0.2 2 0.7 2 0.2 2 0.2 2 0.2 2 2.1 2 0.2 2 0.2 2 0.1 2 0 2-3.6 2-0.3 2 2.4 2-3.9 2 0 2 0.1 2 0.3 2 0.4 2 2.9 2 2.1 2 0 2 0.1 2 0 2-0.1 2-2.3 2-0.2 2-0.5 2-0.5 2-0.4 2-0.2 2-0.2 2 0.1 2 0.4 2 3 2 0.5 2 0.6 2-2.2 2 0.3 2 1.3 2 0.2 2-0.7 2-0.1 2-0.2 2-0.3 2-1.8 2-0.3 2-0.3 2-0.1 2-0.1 2 0.1 2 1.7 2 0 2 0.1 2-0.2 2 0.1 2 1.8 2 0.4 2 0.4 2 0.4 2 0.1 2-0.1 2-1.1 2-0.6 2-0.5 2-0.4 2-0.2 2 0 2 0.1 2 0.1 2 0 2-1.3 2 0.1 2 0.2 2 0.4 2 0.5 2 0.5 2 0.9 2 0.2 2 0.1 2 0.8 2-0.3 2-0.3 2-0.9 2-0.5 2-0.5 2-0.2 2-0.2 2-2.9 2 0.2 2 0 2 1.8 2-0.2 2-0.3 2-0.3 2-0.8 2 0.2 2 0.4 2 0.6 2 0.6 2 0.5 2 4.7 2-4.3 2-0.3 2-0.2 2-0.2 2 1.3 2 0.1 2 0.5 2 0.1 2 0 2-0.1 2-1 2-0.2 2-0.2 2-0.1 2-0.2 2-0.2 2 1 2-0.2 2-0.2 2-0.2 2-2.4 2 0 2 0 2 0 2 0.2 2 0.2 2 1.7 2 0.4 2-1.1 2 0.2 2-0.1 2-0.2 2 1.4 2-0.3 2-0.2 2 0 2 0.1 2 1.3 2 0.2 2 0.1 2 0 2-0.3 2-1.5 2-0.6 2-0.4 2-0.2 2-1.1 2 0.3 2 0.3 2 0.4 2 0.4 2 1 2 0.4 2 0.3 2 0.4 2 0.1 2-1.3 2 2 2-0.1 2-0.3 2 0 2 0.1 2 0.9 2 0.4 2 0.2 2 0.1 2-0.1 2-0.3 2-4.1 2-0.3 2-0.4 2 1.1 2 0 2 0.2 2 2.6 2 0.4 2 0.5 2 0.3 2 0.1 2-0.1 2-3.4 2-0.3 2 3.6 2-0.2 2-0.2 2-2 2-0.1 2-0.3 2 0 2-0.2 2 0 2 0.1 2-0.1 2-0.9 2 0.1 2 0.1 2 0 2-0.1 2 0 2 3.1 2 0.1 2 0.4 2 0.4 2 0.3 2-1.4 2-0.1 2-0.2 2-0.3 2-0.2 2-0.2 2-1.3 2-0.3 2-0.5 2-0.8 2-0.3 2 0 2 0.2 2 0.2 2 4 2 0.2 2 0.2 2-0.1 2 0 2-0.1 2-0.3 2 0.1 2-1 2 0.2 2 0 2-0.3 2-1 2-0.6 2-0.7 2-0.6 2-0.4 2-0.5 2-0.1 2 0 2 0.4 2 0.5 2 0.5 2 3.4 2 0.5 2-2.3 2 0.1 2-0.1 2-0.2 2-1.5 2-0.2 2-0.1 2 0 2 0.1 2 0.7 2-0.1 2-0.2 2-0.1 2-0.2 2-0.2 2-0.4 2 0.3 2 0.3 2 0.4 2-0.1 2-0.2 2-0.3 2 2.7 2-0.2 2-2.3 2 0.1 2-0.5 2 0.3 2 0.2 2 0.5 2 2.4 2 0.4 2-0.8 2 0 2-0.4 2-0.4 2-0.5 2-0.4 2-1.2 2-0.1 2 0.2 2 2 2 0 2 0 2-0.1 2-0.3 2-1.4 2-0.3 2-0.4 2-0.1 2-1.2 2 0.4 2 0.6 2 0.7 2 4 2 0.3 2 0 2-0.4 2-0.3 2-3 2-0.3 2-0.2 2-0.2 2-0.2 2 0.4 2-0.3 2-0.2 2-0.2 2-0.1 2-0.8 2 0 2 0 2-0.1 2 0 2 1.6 2 0.3 2 0.4 2 0.5 2 0.6 2 1.2 2-0.4 2 0.6 2 0.4 2 0.2 2 0.4 2 0.6 2 1.2 2 0.9 2 0.8 2 2.1 2 0.4 2-0.5 2 0.3 2 0.5 2 0.8 2 0.8 2 0.9 2-0.2 2 0.9 2 2.3 2 0.5 2 0.5 2 0.6 2 0.5 2 0.5 2 0.6 2 0 2 0.8 2 0.5 2 0.7 2 0.7 2 0.7 2 0.7 2 0.8 2-0.4 2 1.2 2 1.2 2 1.2 2 0.6 2 1.1 2 1.1 2 2.8 2 1 2 0.9 2 1.2 2 1.3 2 1.5 2 1.3 2 2.1 2 1.5 2-0.2 2 1.5 2 1.5 2 2.3 2 3.9 2 4 2 3.8 2 4.5 1 5.4" stroke-width="3.8" fill="none" stroke-linejoin="round"/>
<path d="M737.6 222.6L739.2 118.0L742.0 118.0L743.6 222.6Z" stroke-width="2.5" stroke-linejoin="round"/>
</g>
<g clip-path="url(#c0)" fill="#61c132" stroke="#61c132">
<path d="M169.5 290.6h1v-3.1h1v-2.9h1v-2.4h1v-1.8h1v-1.8h1v-1.7h1v-1.2h1v-1.2h1v-0.8h1v-0.6h1v-0.8h1v-0.9h1v-0.8h1v-0.9h1v-0.8h1v-0.5h1v-0.5h1v-0.5h1v-0.5h1v-0.5h1v-0.6h1v-0.6h1v-0.5h1v-0.6h1v-1.2h1v-1.1h1v-1.1h1v-1.1h1v0.2h1v-1h1v-1.8h1v-1.2h1v-2.8h1v-2.1h1v-2.2h1v-1.6h1v-0.1h1v-0.9h1v-0.9h1v0.6h1v0.6h1v-0.1h1h1v0.6h1v0.2h1v-0.4h1v-0.6h1v-0.4h1v-0.1h1v-2.4h1v-3.2h1v-3.6h1v-3.8h1v-3.7h1v-0.8h1h1h1h1v0.1h1v-0.4h1v-2h1v-2h1v-4.3h1v-2.1h1v-2.1h1v-2.2h1v2.1h1v-2h1v-2.1h1v0.6h1v1.5h1v1.4h1v0.9h1v1h1v-0.9h1v-0.9h1v-1h1v0.2h1v-3.7h1v-6.6h1v-6.5h1v-6.5h1v-3.7h1v-3.6h1v-3.6h1v-3h1v-1h1v1.3h1v-0.5h1v-0.9h1v-5.6h1v-6.8h1v-1.7h1v2.1h1v-5.5h1v1.2h1v-0.7h1v-0.3h1v1.1h1v-0.3h1v-0.4h1v1.2h1v-0.1h1v-0.5h1v9h1v2.8h1v1.2h1v-4.9h1v1h1v0.8h1v0.9h1v0.8h1v-0.1h1v-0.2h1v-1.8h1v-2.1h1h1v-1.7h1v0.9h1v0.1h1v0.2h1v2.7h1v0.2h1v5.9h1v0.3h1v0.3h1v-3.6h1v-0.6h1v0.8h1v0.3h1v0.3h1v3.4h1v6.2h1v3.2h1v9.2h1v4h1v4.2h1v-5.2h1v-3.5h1v-3.6h1v-4.2h1v-0.4h1v1.1h1v1.1h1v1h1v1.4h1v3.7h1v-0.3h1v-1.4h1v-0.6h1v-0.5h1v-0.7h1v-0.9h1v-0.6h1v-0.6h1h1v0.4h1v1.2h1v-1.4h1v0.4h1v-0.1h1v-0.2h1v2.4h1v-0.1h1v-0.1h1h1v-0.1h1v0.1h1v-1.2h1h1v0.1h1v-1.9h1v0.1h1h1h1v3.6h1v0.1h1v0.1h1h1v2.1h1h1h1h1v0.1h1v-1.9h1v2.3h1v-3.6h1v-0.1h1v-0.8h1v-0.2h1v-0.1h1v-0.2h1h1v-0.1h1v0.1h1h1v-2.8h1v0.2h1v0.9h1v0.2h1v3.3h1v-1.7h1v0.2h1h1v0.2h1h1v2.4h1v-0.2h1v-0.3h1v-0.4h1v-0.4h1v-2.7h1v-0.5h1v-0.5h1v-0.9h1v-0.2h1v-0.1h1v-0.9h1v2.1h1v-1.4h1v0.3h1v0.3h1v0.2h1v4.2h1v-1h1v0.1h1h1v-0.2h1v0.5h1v-0.3h1v-0.8h1v-0.3h1v-0.4h1v-1.3h1v-0.2h1v1.6h1v-0.1h1v-0.1h1v-1.6h1h1v0.8h1v0.1h1v0.2h1v0.2h1v0.2h1v0.3h1v-0.3h1v0.3h1v-1.8h1v0.1h1v3h1v0.1h1v-0.5h1v0.2h1h1v0.1h1v1h1h1v-0.1h1v-0.1h1v-0.5h1v-0.2h1v-1.1h1v-0.2h1v-0.2h1v-0.1h1v-0.1h1v-0.2h1v0.9h1v-0.1h1v-0.1h1v-0.7h1v3.3h1v-0.1h1v-0.2h1h1v-0.3h1h1v-3.1h1h1v0.2h1v-3.7h1v0.2h1v0.3h1v0.2h1v0.2h1v0.4h1v0.1h1v0.2h1v2.6h1v-2.1h1v-0.8h1v-0.1h1v-0.3h1v-1.2h1v-0.1h1v-0.3h1v5.7h1v-0.2h1v-0.2h1v-0.1h1h1v0.1h1v0.1h1v0.1h1v-0.3h1v1.8h1h1v0.1h1v0.2h1v-0.1h1v0.1h1v0.1h1v-0.1h1v0.1h1v-2.2h1v-2.6h1v0.1h1h1h1v0.1h1h1v1.7h1v-0.8h1v0.1h1v0.1h1v-0.5h1v0.6h1v0.1h1v0.3h1v0.2h1v0.5h1v0.2h1v0.1h1v-2.4h1v1.7h1v0.1h1v-0.1h1v-0.1h1v-0.1h1v-0.2h1v1.2h1v-0.1h1v-0.2h1h1v1h1v0.1h1h1v0.1h1h1h1h1h1v-1.2h1v-0.2h1v-0.8h1v-0.2h1v-0.2h1v-0.3h1v-0.4h1v-0.8h1v-0.2h1v0.1h1h1h1h1v0.1h1v1.3h1v1h1v0.1h1v0.1h1v-0.3h1v-1.7h1h1v0.2h1v0.5h1h1h1h1v-1.4h1v-2h1v2.9h1v-0.2h1v-0.7h1v-0.2h1h1h1v-0.1h1v-0.1h1v0.6h1v0.1h1v0.1h1h1v4.3h1v0.1h1v0.5h1v0.2h1v0.1h1v-0.1h1v0.1h1v0.2h1v0.4h1v0.2h1v-3.3h1h1v0.6h1v0.1h1v-0.5h1v0.1h1v-1.4h1v-1.7h1h1h1h1h1v1.3h1h1v5.1h1v1.1h1h1v0.1h1v-1.8h1v-4.8h1v0.4h1v0.1h1h1v-0.1h1v0.8h1v3.5h1v-0.1h1v-0.2h1v-0.1h1v-0.2h1v-0.1h1v-0.1h1v-0.9h1h1v-0.1h1h1v-1.2h1v1.2h1v-0.1h1h1v-1.4h1v-0.3h1v-0.3h1v-0.3h1v-0.2h1v-2.6h1v1.7h1v-0.2h1v-0.1h1v1.9h1v-0.1h1v0.1h1v3h1v0.8h1v0.3h1v0.3h1v0.2h1v0.2h1v0.1h1h1v-5.1h1v-1.2h1v-0.1h1v-0.1h1v-0.7h1v-0.1h1v-0.2h1v-0.1h1h1v0.2h1v1.1h1h1h1v-2.9h1v0.1h1h1v4.2h1v-1.8h1v-0.1h1v-0.1h1h1v1.2h1v-0.5h1h1h1v-0.3h1h1h1v-0.1h1h1v-0.1h1v-0.1h1v-1.5h1h1v-0.1h1v-0.2h1v0.5h1v2.4h1h1h1v0.1h1v-0.2h1v3h1v0.1h1h1v0.1h1v-0.9h1v-2.9h1h1v-1.5h1v-0.1h1v1.9h1v-0.1h1v-0.1h1v0.3h1v-0.1h1v-0.2h1v-0.1h1v-0.2h1v1.1h1v-0.1h1h1h1v0.1h1v0.1h1v-3.9h1v-1.2h1v0.3h1v0.3h1v3.8h1v0.4h1v0.4h1v0.3h1v0.3h1v0.2h1v0.7h1v0.2h1h1h1v-0.1h1v-0.1h1v0.8h1v-0.1h1v-0.1h1v-0.2h1v-0.5h1v-0.2h1v-1.7h1h1h1v-0.1h1v-0.4h1v-0.9h1v-0.1h1v-0.1h1v-0.1h1v-0.1h1v-0.2h1v4.5h1v-0.3h1h1v-0.1h1v-0.5h1v0.2h1h1h1v-0.1h1v1.5h1v-2.4h1v-0.1h1v-0.2h1v-4h1v-0.3h1v-0.2h1v-0.2h1v-0.2h1v1.4h1h1v0.1h1v0.1h1v0.1h1v0.1h1v2.8h1v-2.8h1v0.1h1v3.7h1h1v0.1h1v-0.2h1v-0.1h1v-0.2h1v-0.2h1v-1.7h1v0.5h1h1h1h1h1v-0.6h1v0.2h1v0.2h1v0.9h1v0.1h1v0.1h1v1.6h1v0.1h1v0.1h1v-0.6h1v0.1h1v-2.4h1h1v3.2h1v0.1h1v-0.6h1v-2.8h1v0.1h1v0.2h1v1.4h1v0.2h1h1v-2.6h1h1v-0.8h1v-0.1h1v-0.1h1v-0.2h1v4.7h1v-0.3h1v-0.3h1v0.1h1v-2.3h1v-0.2h1v-1.2h1v2.8h1v0.1h1v1.7h1v0.1h1v0.2h1v0.3h1v0.1h1v0.3h1v0.1h1h1v-7.2h1h1v-0.2h1v-0.1h1v-2.8h1v-0.2h1v4.9h1v0.7h1v-0.2h1v-0.2h1v1h1h1v1.8h1v0.1h1v0.3h1v0.1h1v0.2h1v2.7h1v0.2h1v0.2h1v0.3h1h1v0.1h1h1v-4.5h1h1v-0.2h1v-0.2h1v-0.4h1v-0.2h1v-0.1h1v1.5h1v-0.9h1v-0.1h1v0.6h1h1h1h1v0.1h1v1.2h1v0.1h1v0.1h1v-0.4h1v0.3h1v0.2h1v0.1h1v0.2h1v0.2h1v0.2h1v0.3h1v0.2h1v0.6h1v0.2h1v-0.1h1v0.1h1v0.4h1h1v-0.1h1v-0.1h1v-0.2h1v-0.1h1v-1.5h1v-4.7h1v-0.4h1v-0.2h1v-0.2h1v-0.2h1v5h1v-0.2h1v-0.3h1v-0.1h1v-0.5h1v-0.1h1v-0.6h1v0.5h1v0.1h1v0.1h1v-2.4h1v0.3h1v0.3h1v0.7h1v0.3h1v0.3h1v-2.4h1v0.2h1v0.1h1v1.9h1v-0.6h1h1v-0.1h1v2.9h1v-1.8h1v-0.2h1v-0.3h1v-4.8h1v2.7h1v-0.3h1v-0.3h1v-0.3h1v-0.3h1v-0.3h1v-0.2h1v3.3h1v-1.4h1v-0.1h1h1h1h1h1v0.1h1v-0.1h1h1v0.2h1v0.1h1v0.2h1h1v0.1h1v0.1h1v0.5h1v-2.7h1v3h1v0.2h1v1.8h1v0.1h1v0.1h1v0.1h1v-2.1h1v0.1h1h1v0.1h1v-0.7h1v0.1h1v0.1h1v-0.1h1v-2h1h1v-0.2h1v-0.2h1v2.4h1v0.1h1h1v0.1h1v1h1v0.1h1v0.2h1v0.2h1v0.2h1v0.2h1v-0.8h1v0.2h1h1v0.6h1h1v0.1h1v-0.1h1v-0.2h1v-0.2h1v-0.1h1v2.3h1v-1.1h1v-0.2h1v-0.1h1v-1.7h1v-3.2h1v0.1h1h1v-1.3h1v0.2h1v-0.1h1v2.4h1v0.1h1h1v-1.7h1v-1.2h1v0.2h1v2.2h1v0.1h1v-0.7h1v0.1h1v0.1h1v0.5h1v0.2h1v0.2h1v0.9h1v0.3h1v2.3h1v0.2h1h1v1.7h1v0.1h1v0.1h1v-2.8h1v-0.2h1v-0.2h1v-0.3h1v-0.3h1v-1.5h1v-0.1h1h1v1.3h1v0.1h1v0.1h1v0.1h1v-1.6h1v0.2h1v0.1h1v0.1h1v-2.2h1v-0.2h1v-0.1h1v-0.2h1v0.1h1v-0.2h1v-0.2h1v-0.3h1v-0.2h1v1.3h1v-0.2h1v0.4h1v0.9h1h1v0.1h1h1v0.1h1v0.1h1v0.1h1h1v-1.2h1h1v1h1v1.4h1v-0.1h1v-0.5h1h1v-0.2h1v-0.1h1v-2.7h1v-1h1h1v-0.1h1v-0.1h1h1v-0.1h1h1h1v0.5h1v1.1h1h1v0.1h1v0.1h1v1.6h1h1v0.8h1h1v-0.1h1h1h1v-0.8h1v-0.1h1v-0.1h1h1h1v-1h1v3.2h1h1v2.3h1v-0.1h1v0.1h1h1h1v-0.1h1h1h1h1h1v-5.2h1v0.1h1h1v0.1h1v1.5h1v0.1h1h1h1v-1.1h1v-0.1h1v1h1h1v-2.6h1h1v-0.1h1v-0.1h1v-0.6h1v-0.1h1v-0.1h1v-0.1h1v-0.8h1v-0.1h1h1v-0.2h1v-0.1h1h1h1v1.1h1v0.1h1v0.1h1v0.6h1v0.2h1v4.6h1v0.1h1v0.1h1v-0.4h1h1h1v-1.3h1h1v-0.9h1v-0.1h1v-1.3h1v-2.4h1h1v3.9h1h1v0.2h1v0.1h1v2h1v0.2h1v-3.7h1v0.2h1v2.8h1v4.1h1v5h1v3.6h1v0.1h1v2.8h1v0.5h1h1v-3.1h1v-1.5h1v-1.5h1v1.5h1v-4.9h1v0.6h1v0.6h1v-0.4h1v-1.3h1v-0.9h1v-0.8h1v-0.8h1v-0.2h1v-0.3h1v-0.3h1v-0.9h1v-0.2h1v2.9h1v0.5h1h1v-0.4h1v-0.8h1h1v2h1v3.9h1v8.4h1v3.9h1v2.9h1v2.9h1v1.9h1v0.8h1v0.8h1v-1.3h1v0.9h1v0.9h1v1.5h1v1.5h1v0.3h1v1.8h1v1.4h1v1.3h1v1.2h1v1.2h1v1.2h1v1.1h1v0.7h1v2.4h1v1.5h1v1.5h1v1.6h1v1.5h1v1.7h1v1.6h1v1.6h1v1.1h1v0.1h1v0.1h1v-0.6h1v0.2h1h1v0.1h1v0.5h1v0.1h1v1.8h1h1v0.1h1v0.1h1v0.5h1v0.4h1v0.6h1v-2.1h1v0.7h1v0.6h1v0.7h1v0.1h1v2.2h1v0.6h1v0.7h1v0.1h1v0.6h1v0.9h1v0.7h1v0.6h1v0.4h1v0.8h1v0.4h1v1.2h1v0.4h1v-0.2h1v1h1v0.4h1v0.5h1v0.1h1h1v0.4h1v0.5h1v0.6h1v0.4h1v0.5h1v0.7h1v0.4h1v0.5h1v0.7h1v0.4h1v2.8h1v4.7h1v4.5h1v4.7h1v6.8h1V296.3h-1v-6.9h-1v-4.6h-1v-4.8h-1v-4.6h-1v-2.5h-1v-0.4h-1v-0.6h-1v-0.5h-1v-0.4h-1v-0.1h-1v-0.4h-1v-0.4h-1v-0.7h-1v-0.4h-1v-0.5h-1v-0.2h-1h-1v-0.5h-1v-0.4h-1v-0.7h-1v0.3h-1v-0.4h-1v-1.2h-1v-0.3h-1v-1.1h-1v-0.3h-1v-0.6h-1v-0.6h-1v-0.8h-1v-0.6h-1h-1v-0.6h-1v-0.6h-1v-2.1h-1v-0.5h-1v-0.7h-1v-0.6h-1v-0.6h-1v2.2h-1v-0.6h-1v-0.6h-1v-0.5h-1v-0.1h-1v-0.1h-1v0.9h-1v-2h-1v-0.1h-1h-1v-0.1h-1v-0.1h-1v-0.1h-1v-0.3h-1v-0.1h-1v-0.1h-1v-1.1h-1v-1.4h-1v-1.6h-1v-1.5h-1v-1.5h-1v-1.5h-1v-1.4h-1v-1.4h-1v-1.1h-1v-0.6h-1v-0.7h-1v-1.1h-1v-1.1h-1v-1.1h-1v-1.1h-1v-1.3h-1v-2.3h-1v-0.9h-1v-1.4h-1v-1.5h-1v-0.8h-1v-0.8h-1v1.3h-1v-0.8h-1v-0.7h-1v-1.2h-1v-2.7h-1v-2.7h-1v-3.6h-1v-6h-1v-3.6h-1v-1.8h-1h-1v-0.3h-1v0.4h-1h-1v-0.3h-1v-2.9h-1v0.2h-1v0.9h-1v0.3h-1v0.3h-1v0.2h-1v0.7h-1v0.8h-1v0.8h-1v1.3h-1v0.8h-1v-0.5h-1v-0.5h-1v4.8h-1v0.7h-1v1.4h-1v1.3h-1v-1.8h-1v-0.1h-1v2.2h-1v-2.8h-1v-0.2h-1v-3.2h-1v-4.6h-1v-5.7h-1v-1.9h-1v-0.1h-1v3.7h-1v-0.2h-1h-1v-0.1h-1v-0.2h-1h-1v-3.9h-1h-1v-0.6h-1v1.3h-1v0.2h-1v3h-1h-1v1.3h-1h-1h-1v-1.7h-1h-1v-0.1h-1v-4.6h-1v-0.3h-1v-2.1h-1v-0.1h-1v-0.1h-1v-0.2h-1h-1h-1v0.1h-1v-0.4h-1v0.1h-1h-1v0.1h-1v0.1h-1h-1v0.1h-1v3.9h-1h-1v0.1h-1v0.1h-1v2.5h-1v0.1h-1v-1.9h-1v0.1h-1v-1.4h-1h-1v-0.1h-1h-1v2.6h-1v-0.1h-1h-1v-0.9h-1v3.7h-1h-1v-0.5h-1h-1h-1h-1h-1h-1h-1h-1v0.9h-1v-0.1h-1v-3.2h-1v-1.2h-1h-1h-1v0.1h-1v0.1h-1v0.5h-1h-1h-1v0.4h-1v0.1h-1v-0.9h-1h-1v-0.4h-1h-1v-0.1h-1v-0.1h-1v-2.9h-1v-0.4h-1h-1h-1h-1v0.1h-1v0.1h-1h-1v0.1h-1v1.9h-1v2.7h-1v0.1h-1v0.1h-1v0.1h-1v-1.9h-1h-1v4.2h-1v-1h-1h-1v-1.6h-1v-0.1h-1h-1v-0.1h-1v-0.2h-1h-1v-0.1h-1h-1v-1.7h-1v-0.4h-1v0.2h-1v0.7h-1v0.3h-1v0.2h-1v0.2h-1v0.2h-1v0.5h-1v0.2h-1v0.1h-1v0.2h-1v-0.9h-1v-0.1h-1v-0.1h-1v-0.2h-1v1.6h-1v-0.1h-1v-0.1h-1v-0.1h-1v-0.5h-1h-1v0.2h-1v2.6h-1v0.2h-1v0.3h-1v0.2h-1v0.2h-1v0.8h-1v-0.7h-1h-1v-1.7h-1v-0.4h-1v-0.2h-1v-2.3h-1v-0.2h-1v1.4h-1v-0.2h-1v-0.2h-1v0.2h-1v-0.2h-1h-1v-1.8h-1h-1v-2.2h-1v-0.5h-1v0.5h-1v1.7h-1h-1v-0.1h-1v-0.2h-1h-1v-0.1h-1v1.3h-1h-1v-0.1h-1v4.4h-1v-1.7h-1v0.1h-1v0.1h-1v1.1h-1v2.3h-1v0.1h-1v0.1h-1v0.2h-1v0.1h-1v-0.5h-1h-1v-2.4h-1h-1v-0.2h-1v-0.8h-1v-0.2h-1v-0.2h-1v-0.2h-1v-0.2h-1v-0.1h-1v-1.1h-1v-0.1h-1v0.1h-1v-0.1h-1v1.9h-1v0.2h-1v0.1h-1v0.1h-1v2h-1h-1h-1v-0.1h-1v-1.9h-1v-0.1h-1v-0.1h-1v-0.1h-1h-1v-0.1h-1v-0.1h-1v-0.1h-1v-1.9h-1v-0.1h-1v0.1h-1v-0.1h-1h-1v-0.1h-1v-0.1h-1v-0.1h-1v-0.1h-1v-0.1h-1v1.3h-1h-1v0.1h-1v-0.1h-1h-1h-1v0.3h-1h-1v0.1h-1v0.2h-1v-3.3h-1v0.2h-1v0.3h-1v0.3h-1v0.3h-1v0.3h-1v0.3h-1v-1.5h-1v4.7h-1v0.3h-1v0.3h-1v0.4h-1v-2.8h-1v0.1h-1v-0.1h-1v0.2h-1v1h-1v-0.1h-1v-0.2h-1v-1h-1v-0.3h-1v-0.2h-1v-1.6h-1v-0.3h-1v-0.3h-1v2.4h-1v-0.1h-1v-0.1h-1v3.2h-1v-0.3h-1h-1v-0.1h-1v0.1h-1v0.3h-1v0.2h-1v-4.7h-1v0.2h-1v0.2h-1v0.2h-1v0.3h-1v4.8h-1v-0.1h-1v0.1h-1v0.2h-1v0.1h-1v0.1h-1v0.1h-1v0.5h-1h-1v-0.4h-1v-0.1h-1v-0.6h-1v-0.2h-1v0.1h-1v-0.2h-1v-0.2h-1v-0.2h-1v-0.1h-1v-0.2h-1v-0.3h-1v-0.9h-1v-0.2h-1h-1v-1.2h-1v-0.1h-1h-1v-0.1h-1h-1v-0.3h-1v0.1h-1v4.7h-1v-1.5h-1v0.1h-1v0.2h-1v-3.1h-1v0.2h-1v0.2h-1h-1v4.5h-1h-1v-0.1h-1h-1v-0.6h-1v-0.2h-1v-0.2h-1v-2.7h-1v-0.2h-1v-0.2h-1v0.2h-1h-1v-1.9h-1h-1v0.1h-1v0.3h-1v0.1h-1v1.4h-1v-4.9h-1v0.2h-1v0.8h-1h-1v0.2h-1v0.1h-1v7.2h-1v-0.1h-1v-0.1h-1v-0.2h-1v-1h-1v-0.2h-1v-0.3h-1v-0.1h-1v2.9h-1v-0.1h-1v-2.8h-1v-2.7h-1v0.2h-1v2.3h-1v-0.9h-1v0.3h-1v0.2h-1v-1.3h-1v0.1h-1v0.1h-1v0.1h-1v-0.3h-1h-1v-0.1h-1h-1v-0.2h-1v0.4h-1v-0.1h-1v-0.1h-1v2.8h-1v0.1h-1v-0.1h-1v-1.3h-1v-0.1h-1v-0.5h-1v-0.1h-1v1.8h-1v-0.1h-1v-0.1h-1v-1.1h-1v-0.1h-1v-0.2h-1v0.3h-1v-0.2h-1v-0.2h-1v-0.2h-1h-1h-1h-1h-1v-0.5h-1v0.1h-1v0.1h-1v0.2h-1v0.2h-1v0.2h-1h-1h-1v-1.3h-1h-1v2h-1v-3.8h-1v-0.1h-1v-0.1h-1v-0.1h-1v-0.1h-1h-1h-1v0.2h-1v0.2h-1v0.3h-1v0.2h-1v1.8h-1v0.2h-1v0.1h-1v2.4h-1v0.1h-1v0.1h-1h-1h-1v-0.2h-1v0.3h-1h-1v0.1h-1v-1.7h-1v-4.6h-1v0.2h-1v0.1h-1v0.1h-1v0.1h-1v0.1h-1v0.9h-1v1.3h-1v0.1h-1h-1h-1v1.7h-1v0.1h-1v0.2h-1v0.1h-1v0.2h-1v0.1h-1v0.5h-1v0.1h-1h-1v0.1h-1v1.2h-1v-0.2h-1v-0.8h-1v-1.3h-1v-0.3h-1v-0.3h-1v-0.4h-1v-0.4h-1v-1.2h-1v-0.3h-1v-0.3h-1v1.2h-1v-1.4h-1v-0.1h-1v-0.1h-1h-1h-1v0.1h-1v0.5h-1v0.1h-1v0.2h-1v0.1h-1v0.1h-1v-0.8h-1v0.1h-1v0.1h-1v0.8h-1v0.2h-1v2.4h-1v0.1h-1v2.9h-1v-0.9h-1v-0.1h-1h-1v-0.1h-1v-3h-1v-0.2h-1h-1v-0.1h-1v0.1h-1v-0.1h-1v-0.5h-1v0.1h-1v0.2h-1h-1v-0.6h-1v1.9h-1v0.1h-1v-0.1h-1v0.2h-1h-1v-1.1h-1v0.4h-1h-1h-1h-1v-1.4h-1h-1h-1v0.1h-1v-0.8h-1v1.2h-1v-0.1h-1v-0.1h-1v-0.6h-1h-1h-1v-1.2h-1v1h-1h-1v0.1h-1v0.1h-1v0.2h-1v-0.9h-1v0.2h-1v0.1h-1h-1v5.1h-1h-1v-0.1h-1v-0.2h-1v-0.2h-1v-0.2h-1v-0.4h-1v1.1h-1v-3.1h-1v-0.1h-1v-1.8h-1v-1.9h-1v0.1h-1v0.2h-1v1.6h-1v2h-1v0.3h-1v0.2h-1v0.3h-1v0.3h-1v-0.4h-1h-1v0.1h-1v-0.4h-1v1.3h-1h-1h-1v0.1h-1v1.8h-1v0.1h-1v0.1h-1v0.1h-1v0.2h-1v0.1h-1v0.1h-1v-3.4h-1v1.5h-1v0.2h-1v-0.1h-1h-1v-3.3h-1v4.8h-1v-0.8h-1v-0.1h-1h-1v-0.1h-1v-5.1h-1v-0.1h-1v0.9h-1v0.1h-1v-0.1h-1v0.1h-1h-1v-0.4h-1v1.4h-1v-0.1h-1v1.7h-1v-0.1h-1v-1.9h-1h-1v3.3h-1v-0.2h-1h-1v-0.2h-1v-0.1h-1v4.3h-1v-0.1h-1v-0.2h-1v-5.2h-1v-0.1h-1v-3.3h-1v-0.1h-1h-1v-0.1h-1v-0.3h-1h-1v0.2h-1h-1h-1v0.1h-1v0.8h-1v0.1h-1v-1.4h-1v1.4h-1v-0.4h-1v0.1h-1v-0.1h-1v0.1h-1v-0.6h-1v-0.1h-1v-0.1h-1v1.8h-1v-0.8h-1v-0.1h-1v-0.1h-1v-0.3h-1v0.4h-1h-1v-0.1h-1v0.4h-1h-1v-0.7h-1v0.1h-1v0.5h-1v1.9h-1v0.2h-1v0.3h-1v0.2h-1v-1.7h-1v0.2h-1v0.2h-1h-1h-1h-1v-0.1h-1h-1h-1v-0.1h-1v1h-1h-1v0.2h-1v0.1h-1v-2.8h-1v0.1h-1v0.2h-1v0.1h-1h-1h-1v1.6h-1v-0.2h-1v-0.1h-1v-0.2h-1v-0.3h-1v-0.2h-1v-0.2h-1v-0.2h-1v-0.2h-1v0.5h-1h-1v-0.1h-1v1.3h-1v0.2h-1v-0.1h-1h-1h-1v-0.2h-1v-0.1h-1v2.6h-1v0.5h-1h-1h-1v-0.1h-1h-1h-1v-0.4h-1v-0.1h-1h-1v-1.9h-1v0.2h-1v-0.1h-1v-0.2h-1h-1h-1h-1v-1h-1v0.2h-1v-3.5h-1v0.2h-1v0.2h-1v1h-1v0.3h-1v0.1h-1v0.1h-1v2.1h-1v-0.7h-1v-0.2h-1v-0.2h-1v-0.4h-1v-0.2h-1v-0.2h-1v-0.3h-1v-0.2h-1v3.6h-1v-0.1h-1v-0.1h-1v0.4h-1h-1v1.1h-1h-1v0.2h-1v0.1h-1v-3.3h-1v-1.2h-1h-1v0.1h-1v0.6h-1v0.2h-1v0.1h-1v0.1h-1v0.2h-1v0.2h-1v1.1h-1v0.2h-1v0.2h-1v0.1h-1v0.1h-1h-1v-0.1h-1v-0.1h-1h-1v-0.2h-1v-0.8h-1v-0.1h-1v1.2h-1v-0.2h-1v-0.8h-1v-0.3h-1v-0.5h-1v-0.3h-1v-0.2h-1v-0.2h-1v-0.2h-1v-0.1h-1v1.6h-1h-1v-0.4h-1h-1v0.1h-1v2.1h-1v0.2h-1v-1.9h-1v0.4h-1v0.3h-1v0.1h-1v0.3h-1v3.2h-1v0.1h-1h-1v-0.1h-1v-1.6h-1v-4.1h-1v-0.3h-1v-0.3h-1v-0.3h-1v-0.2h-1v-0.3h-1v-0.2h-1v0.2h-1v0.2h-1v0.4h-1v0.4h-1v0.5h-1v2.4h-1v0.4h-1v0.4h-1v0.3h-1v0.2h-1v-2.4h-1v-0.1h-1v-0.1h-1v-0.8h-1v-0.3h-1v1.8h-1v0.1h-1v-0.3h-1v0.7h-1v-0.2h-1v0.9h-1v-0.1h-1h-1v0.1h-1h-1v0.2h-1v0.1h-1v0.2h-1v-1.7h-1v0.1h-1v3.5h-1v-0.2h-1v3.4h-1v-0.1h-1h-1h-1h-1v-2.1h-1v-0.1h-1h-1v-0.1h-1v-3.6h-1v-0.1h-1h-1h-1v0.6h-1v-0.1h-1v-0.1h-1v0.1h-1h-1h-1h-1v0.1h-1v0.1h-1v-2.4h-1v0.2h-1v2.2h-1v-0.3h-1v1.4h-1v-3.4h-1v-0.3h-1v-0.1h-1v0.6h-1v0.6h-1v2.8h-1v0.6h-1v0.5h-1v0.6h-1v-0.9h-1v0.2h-1v-3.6h-1v1.1h-1v-1h-1v-1h-1v-1h-1v0.4h-1v0.9h-1v3.3h-1v3.4h-1v5.1h-1v-3.9h-1v-3.9h-1v-7.7h-1v-3h-1v1.1h-1v-2.9h-1v-0.4h-1v-0.2h-1v-1.3h-1v-0.6h-1v3.6h-1v-0.2h-1v-0.3h-1v2.6h-1v-0.2h-1v-2.5h-1v-0.1h-1v-0.2h-1v-0.8h-1v0.7h-1h-1v3.1h-1v1.8h-1v0.2h-1v0.2h-1v-0.6h-1v-0.6h-1v-0.7h-1v-0.8h-1v-5.6h-1v-1h-1v-2.6h-1v-8.6h-1v-5.9h-1h-1v1.5h-1v0.3h-1v0.3h-1v-1.1h-1v0.2h-1v-0.2h-1v-1.1h-1v5.6h-1v-3h-1v1.7h-1v6.4h-1v5.3h-1v0.7h-1v1.9h-1v-1.3h-1v0.8h-1v1h-1v3.4h-1v3.4h-1v3.5h-1v6.1h-1v6.2h-1v6.3h-1v3.5h-1h-1v0.9h-1v0.8h-1v0.9h-1v-0.9h-1v-0.7h-1v-1.3h-1v-1.4h-1v-0.6h-1v2h-1v1.9h-1v0.2h-1v1.9h-1v2h-1v1.9h-1v2.3h-1v1.9h-1v1.9h-1v0.4h-1v-0.4h-1h-1h-1h-1v1.6h-1v3.5h-1v3.4h-1v3.5h-1v2.9h-1v2.2h-1h-1v0.5h-1v0.5h-1v0.4h-1v-0.3h-1v-0.5h-1v-0.6h-1v0.1h-1v-0.5h-1v-0.5h-1v0.8h-1v0.9h-1v0.8h-1v1.5h-1v1.9h-1v2.1h-1v2.1h-1v1.1h-1v1.7h-1v0.9h-1v1.1h-1v1h-1v1h-1v1h-1v0.2h-1v0.5h-1v0.6h-1v0.5h-1v0.5h-1v0.5h-1v0.4h-1v0.4h-1v0.5h-1v1.2h-1v0.7h-1v0.8h-1v0.8h-1v0.3h-1v0.8h-1v0.9h-1v0.8h-1v1.4h-1v1.1h-1v1.7h-1v1.8h-1v1.8h-1v2.4h-1v2.8h-1v3h-1Z" stroke="none"/>
<path d="M170 293.5l2-6.1 2-4.2 2-3.5 2-1.9 2-1.7 2-1.8 2-1.6 2-1.6 2-0.9 2-0.6 2-1.1 2-1.1 2-1.6 2-2 2-2 2-2.9 2-4.1 2-3.6 2-1.8 2-0.3 2 0.5 2 1.2 2-0.2 2-1 2-2.3 2-7.2 2-7.2 2-1 2 0 2-0.3 2-4 2-3.9 2-4 2-2 2-1.4 2 2.7 2 1.9 2-1.8 2-0.9 2-10.1 2-12.6 2-7.1 2-5.7 2 0.5 2-1.6 2-12 2-0.7 2-4.4 2 0.9 2 0.8 2-0.6 2 2.7 2 11.5 2-0.9 2 1.6 2 1.5 2-0.3 2-1.8 2 0.1 2 1 2 1.5 2 0.4 2 0.6 2-3.4 2 0.5 2 3.6 2 6.3 2 12.8 2-1.1 2-7 2-3.9 2 2.1 2 2.1 2 3.4 2-1.1 2-1.2 2-1.1 2-0.6 2 0.7 2-1 2-0.4 2 2.3 2-0.1 2 0 2 0.1 2-1 2 0.1 2 3.6 2 0.1 2 0.1 2 0 2 0.1 2-0.1 2-3.7 2-0.3 2-0.3 2-0.1 2 0.1 2 0.2 2 0.5 2-1.4 2 0.5 2 0.1 2 2.2 2-0.6 2-2.6 2-1 2-0.4 2-0.2 2 0.3 2 0.6 2 4.4 2 0.3 2-0.2 2-1.9 2-0.6 2-0.6 2-0.5 2-0.2 2 0 2-0.4 2 0.4 2 0.4 2 0.6 2 0.4 2 0.3 2 0.5 2 0.1 2 0 2-0.2 2-0.2 2-1.3 2-0.3 2-0.3 2-0.2 2-0.3 2 3.2 2-0.2 2-0.2 2 0.1 2-3.5 2 0.5 2 0.4 2 0.4 2 0.1 2-2.2 2-0.4 2-0.5 2 3 2-0.3 2-0.1 2 0.2 2 0.2 2 1.9 2 0.1 2 0.1 2 0 2 0 2-2.5 2 0 2 0.1 2 0.1 2 0.2 2-0.4 2 0.4 2 0.3 2 0.3 2-1.4 2 0 2-0.3 2 2 2-0.3 2-0.1 2 0.1 2 0.1 2 0 2-0.2 2-0.4 2-0.5 2-0.3 2-0.5 2 0 2 0 2 0.2 2 0.2 2 0.3 2-1.7 2 0.2 2 0 2-0.1 2-0.2 2-0.9 2-0.1 2-0.2 2 0 2 0.2 2 5.3 2 0.2 2 0.3 2 0.3 2 0.3 2-3.1 2 0.2 2 0.3 2-1.3 2-0.1 2 0 2 0 2 5.1 2 0 2 0 2-4.7 2 0.1 2-0.2 2 3.3 2-0.2 2-0.3 2-0.1 2-0.2 2-1.2 2-0.1 2-0.1 2-0.6 2-0.5 2-2.1 2-0.3 2 2 2 3.2 2 0.6 2 0.4 2 0.3 2-5.1 2-0.2 2-0.3 2-0.3 2-0.1 2 1.2 2 0.1 2 0.1 2 0.1 2 0 2 0 2-0.2 2 0 2-0.3 2-0.1 2-0.1 2-0.2 2-0.2 2 0.4 2-0.1 2 0.1 2 3 2 0.2 2 0.1 2-3 2-0.2 2-0.3 2 0.8 2-0.3 2-0.3 2-0.1 2 0 2 0.2 2-1.1 2 0.6 2 0.9 2 0.6 2 0.6 2 0.9 2 0 2-0.2 2-0.2 2-0.3 2-0.1 2-1.8 2-0.1 2-0.8 2-0.3 2-0.1 2 4.3 2-0.1 2 0.1 2 0.1 2-0.1 2-2.4 2-0.3 2-1.7 2-0.4 2-0.3 2 0.1 2 0.2 2 2.5 2 0.1 2 0.1 2-0.3 2-0.3 2-0.3 2 0.5 2 0 2 0.1 2 0.4 2 0.4 2 0.6 2 0.2 2 0.2 2 0.1 2 0.1 2-2.7 2 0.2 2 0.3 2 0 2-1.8 2-0.1 2 3.7 2-0.5 2-2.6 2-0.1 2 2.8 2 0.4 2 0.4 2 0.5 2 0.1 2-7.2 2-0.3 2-0.5 2 4.7 2-0.4 2-0.1 2 1.9 2 0.3 2 2.9 2 0.4 2 0.2 2 0 2-4.5 2-0.3 2-1 2 1.4 2-0.2 2 0 2 0.1 2 1.2 2 0.3 2 0.3 2 0.4 2 0.3 2 0.5 2 0.8 2 0.2 2 0 2-0.1 2-0.3 2-0.4 2-5.1 2-0.4 2 3.3 2-0.5 2-0.2 2-0.8 2 0.1 2-2.2 2 0.6 2 0.9 2 0.6 2 0.2 2 0.2 2-0.1 2 2.7 2-0.6 2-5 2-0.6 2-0.6 2-0.5 2 3.1 2-0.1 2 0 2 0.1 2-0.1 2 0.2 2 0.2 2 0.2 2 0.2 2 0.2 2 2 2 0.2 2 0.1 2 0.2 2 0 2 0 2-2 2-0.3 2 0 2 0.1 2 0.2 2 0.4 2 0.4 2 0.4 2 2.4 2-0.2 2-0.2 2-0.3 2-1.4 2-0.2 2-3 2 0.1 2-1.1 2 0 2 0.1 2-1.6 2 2.2 2 0 2 0.2 2 0.3 2 0.4 2 2.6 2 0.2 2 1.7 2-2.4 2-0.4 2-0.5 2-0.4 2 0.1 2 0.2 2-1.5 2 0.3 2 0.2 2-0.3 2-0.4 2-0.5 2-0.4 2-0.3 2 0.3 2 0.1 2 0.2 2 0.1 2 0.2 2 0.9 2-0.1 2-0.1 2-0.2 2-2.8 2-0.1 2-0.2 2 0 2 0 2 2.1 2 0.2 2 0.1 2 0.8 2 0 2-0.1 2-0.2 2 0 2 3.3 2 0 2 0 2 0 2 0 2 0 2-4.1 2 0.1 2 0.2 2 0.1 2-0.1 2-0.2 2-2.5 2-0.2 2-0.1 2-0.1 2-0.2 2-0.1 2 0 2 0 2 0.1 2 0.2 2 4.8 2 0.1 2 0.1 2-1.4 2 0 2-1.5 2-0.1 2 3.9 2 0.3 2 0.3 2-3.5 2 6.3 2 8.3 2 2.9 2 0.1 2-1.4 2-2.9 2-4.4 2 1.2 2-2.2 2-1.5 2-0.5 2-0.5 2 2.7 2 0 2 0 2 1.8 2 10.8 2 6.5 2 4.4 2 1.6 2-0.5 2 2.3 2 2 2 2.7 2 2.4 2 2.3 2 1.8 2 2.9 2 3 2 3.1 2 3.1 2 1.2 2 0.3 2 0.1 2 0.2 2 1.7 2 0.1 2 0.6 2 1.2 2-1.5 2 1.3 2 2.8 2 1.2 2 0.6 2 1.3 2 0.9 2 0.8 2 1.6 2 0.9 2 0.8 2 0.5 2 1 2 0.8 2 0.9 2 0.9 2 1.1 2 7.2 2 9.4 1 6.8" stroke-width="4.4" fill="none" stroke-linejoin="round"/>
<path d="M714.4 194.4L716.1 153.0L719.5 153.0L721.2 194.4Z" stroke-width="2.5" stroke-linejoin="round"/>
</g>
<text transform="translate(134.5 307.2) scale(1 1.035)" text-anchor="end">0</text>
<text transform="translate(134.5 202.7) scale(1 1.035)" text-anchor="end">2</text>
<text transform="translate(134.5 98.2) scale(1 1.035)" text-anchor="end">4</text>
<text transform="translate(156.4 356.0) scale(1 1.035)" text-anchor="middle">0</text>
<text transform="translate(353.5 356.0) scale(1 1.035)" text-anchor="middle">100</text>
<text transform="translate(550.6 356.0) scale(1 1.035)" text-anchor="middle">200</text>
<text transform="translate(747.7 356.0) scale(1 1.035)" text-anchor="middle">300</text>
<text transform="translate(944.9 356.0) scale(1 1.035)" text-anchor="middle">400</text>
<text transform="translate(1142.0 356.0) scale(1 1.035)" text-anchor="middle">500</text>
<text transform="translate(1339.1 356.0) scale(1 1.035)" text-anchor="middle">600</text>
<text transform="translate(488.0 64.0) scale(1 1.015)">Frequency: 5.775 MHz</text>
<text transform="translate(155.4 64.0) scale(1 1.03)">(×10<tspan font-size="33" dy="-18">6</tspan><tspan dy="18">)</tspan></text>
<text transform="translate(1364.4 63.5) scale(1 1.0)">(a)</text>
<text transform="translate(86.6 191.5) rotate(-90) scale(1 1.015)" text-anchor="middle">Amplititude</text>
<rect x="805" y="96.9" width="519.5" height="69.3" fill="#fff"/>
<path d="M751.5 119.0 H812.5" stroke="#df252f" stroke-width="3.8"/>
<path d="M751.5 148.4 H812.5" stroke="#61c132" stroke-width="4.6"/>
<text transform="translate(818.2 126.0) scale(1 1.015)">Bernoulli map</text>
<text transform="translate(816.7 170.0) scale(1 1.015)">40-bit Barker-like code</text>
<path d="M1324.5 96.9 V166.2" stroke="#555" stroke-width="1.2"/>
<path d="M353.5 702.5 V690.0 M353.5 492.3 V504.8 M550.6 702.5 V690.0 M550.6 492.3 V504.8 M747.7 702.5 V690.0 M747.7 492.3 V504.8 M944.9 702.5 V690.0 M944.9 492.3 V504.8 M1142.0 702.5 V690.0 M1142.0 492.3 V504.8 M156.4 702.5 H168.9 M1339.6 702.5 H1327.1 M156.4 492.3 H168.9 M1339.6 492.3 H1327.1" stroke="#262626" stroke-width="4.5" fill="none"/>
<rect x="156.4" y="492.3" width="1183.2" height="210.2" stroke="#262626" stroke-width="4" fill="none"/>
<g clip-path="url(#c1)" fill="#df252f" stroke="#df252f">
<path d="M169.7 700.1h1v-1.4h1v-1.1h1v-1.2h1v-2.5h1v-2.5h1v-2.4h1v-1.3h1v-1h1v-0.9h1v-1h1v-1h1v-1.1h1v-1h1v-0.6h1v-1h1v-0.6h1v-0.2h1v-1h1v-0.6h1v-0.4h1v-0.6h1v-0.5h1v-0.7h1v-0.6h1v-1.4h1v-0.6h1v-0.7h1v0.5h1v-1.7h1v-0.6h1v-0.6h1v0.3h1v-0.6h1v-0.7h1v-0.7h1v-0.7h1v-2.4h1h1v-0.7h1v-0.7h1v-0.6h1v-0.2h1v-0.6h1v-0.4h1v-0.3h1v1.4h1v-0.3h1v-0.3h1v-0.4h1v-0.4h1v0.4h1v-2.7h1v-0.3h1v-0.3h1v-0.7h1v-0.4h1v-0.7h1v-0.7h1v-1.3h1v-0.8h1v0.2h1v-0.7h1v-0.6h1v-0.6h1v-0.5h1v-0.6h1v-0.6h1v1.1h1v0.3h1v0.2h1v-1h1v0.3h1v0.2h1v-0.3h1v-0.4h1v2.3h1v-0.4h1v-1h1v-0.5h1v-0.5h1v-1.3h1v-0.5h1v0.3h1v-0.5h1v-0.4h1v-0.8h1v-0.6h1v-0.5h1v-0.5h1v-0.6h1v-1h1v-2.1h1v-0.5h1v-0.2h1h1v0.1h1h1v-0.1h1v-0.1h1v0.4h1v-0.2h1v-0.2h1h1v-0.3h1v-0.3h1v-0.7h1v-0.3h1v-0.3h1v-0.2h1v-0.3h1v-0.1h1v-0.2h1v1.4h1v0.3h1v-0.1h1v-0.1h1v-0.2h1h1v0.1h1v-0.7h1v-0.1h1v-0.6h1v-2.8h1v-0.1h1h1v-1h1v-0.1h1v-0.4h1v-0.4h1v3.5h1v0.8h1v-0.3h1v-0.3h1v-0.1h1v-0.3h1v-0.2h1v-0.1h1v0.1h1v0.1h1v-2h1v0.1h1v2.7h1v-1.8h1v-0.8h1v0.1h1v0.2h1v0.1h1v0.5h1v0.8h1v0.1h1h1h1h1v0.1h1h1v-0.4h1h1v-2.9h1h1v-0.1h1h1v-0.1h1v-0.1h1v0.5h1v-0.2h1v1.5h1v-0.2h1v-0.7h1v-0.2h1v1.5h1v-0.1h1h1v-0.1h1v1.4h1v0.1h1h1v0.1h1v-4.3h1v0.1h1v0.1h1v-1.6h1v2.8h1v0.1h1h1v-0.2h1v1.6h1v-0.1h1v-0.1h1v-0.1h1v-0.1h1v-2.1h1v-1.8h1v0.1h1h1v0.7h1v0.1h1v-0.7h1h1v1.1h1h1v-0.9h1v-0.1h1v3.1h1h1h1v0.1h1v0.1h1h1v-3.7h1v5h1v0.1h1v0.1h1v1.1h1h1v0.1h1v-3.8h1h1h1h1h1v4.2h1h1h1v1h1h1v0.1h1h1v0.1h1h1v0.1h1v-1.8h1v-0.5h1v-0.1h1h1v-0.8h1h1v-0.8h1v-0.1h1v-0.1h1v-1.4h1h1v0.1h1h1v0.1h1v-1.4h1h1h1h1v1.8h1v-0.1h1v-0.2h1v-0.1h1v1.4h1v0.3h1v-0.9h1v-0.1h1v1.3h1h1v0.1h1v0.3h1v0.1h1v-0.6h1v0.1h1v0.1h1v0.1h1v0.1h1v-0.4h1h1v-0.9h1v-0.1h1h1v-2h1v1.7h1h1v0.2h1v0.4h1v0.1h1v0.1h1v0.1h1h1h1h1v-1h1v-0.1h1v-0.1h1v2.9h1v-0.2h1v-0.2h1v-0.2h1v-0.1h1v0.5h1h1h1v-0.4h1h1h1v-1.4h1h1v0.1h1v-2.3h1v-0.1h1v2.5h1v-0.2h1v-0.1h1v-0.3h1v-0.1h1v-0.2h1v-1.1h1v2.5h1v-0.1h1v-1.6h1h1h1v0.1h1v1.1h1v0.2h1v0.2h1v-3h1v0.2h1v1.6h1v0.1h1v2h1v0.1h1v0.2h1v-0.7h1h1h1v0.1h1v1.6h1h1v0.6h1h1h1v-0.1h1h1v-0.1h1v-0.5h1v-0.1h1v-3h1v-2.1h1v-0.1h1v-0.2h1v-0.2h1v-0.2h1v-0.1h1v-0.1h1v-0.2h1v2.5h1v-0.1h1v0.7h1v0.1h1v0.1h1h1v0.1h1v0.2h1v0.5h1v0.7h1v0.2h1v-1.6h1v0.1h1v0.1h1v0.1h1v0.1h1v0.2h1v0.1h1v0.1h1v1.5h1v0.1h1v-1.6h1v-2.2h1v1.2h1h1h1h1v-0.1h1v-0.1h1v2.5h1v-0.3h1v-0.1h1v-0.2h1h1v-0.1h1v-0.1h1v-0.1h1v-0.2h1v0.7h1v0.1h1v0.1h1h1v0.1h1v-2.8h1h1v0.1h1h1v0.1h1v-0.8h1v0.3h1v0.3h1v0.1h1v3.9h1h1h1v1.2h1h1v0.1h1v-0.4h1h1v-0.1h1v-0.5h1v-0.1h1v-0.1h1v-1.3h1v-0.3h1v-0.2h1v-1.3h1v0.9h1v-0.3h1v1.6h1v-0.2h1h1v-0.1h1h1v-1.7h1v-2.1h1v0.7h1v-2.1h1v0.1h1h1v0.1h1v1.7h1h1h1h1v2.9h1v-0.1h1v-0.1h1h1v-0.5h1v-0.1h1v-0.1h1h1v-0.1h1v-0.2h1v-0.1h1v-1.2h1v0.5h1h1v-0.4h1v0.1h1v0.1h1v0.1h1v0.2h1v-1.2h1v0.1h1v0.2h1v2h1v0.1h1v0.2h1v0.7h1v0.1h1h1v0.8h1v-4.3h1h1h1h1v0.1h1h1v0.2h1v0.1h1v0.5h1v0.1h1v0.1h1v1.4h1v0.1h1v0.1h1h1h1v-2h1v-0.1h1v2.2h1v-0.1h1h1v1.2h1v-0.1h1h1v-0.1h1v-2.3h1h1h1h1v0.2h1v1h1v0.1h1v0.1h1v-0.9h1v0.1h1v0.1h1v0.1h1v0.1h1v-1.7h1v-0.1h1h1h1v-0.1h1v3h1h1v0.7h1v-0.1h1v0.1h1v-0.1h1v0.1h1h1v0.4h1v0.1h1h1v-0.1h1v-1.8h1v0.6h1v-0.1h1v-1.4h1v-0.2h1v-0.2h1v-0.2h1v-0.1h1h1v2h1h1v-1h1v-1.1h1h1h1h1v2.9h1h1h1v-3.6h1v-0.1h1h1v-0.6h1v0.1h1v0.1h1v0.1h1h1v1.8h1v-1h1h1h1v-0.1h1h1v-0.1h1v-0.1h1v-0.2h1h1h1h1h1v-0.1h1v0.2h1v1.3h1v0.2h1v0.3h1v0.2h1v0.2h1v0.1h1v2h1h1v-0.7h1v-0.1h1v-0.2h1v-1.7h1v0.6h1v0.1h1v-0.1h1v-1h1v-0.7h1v0.1h1v0.1h1v0.2h1v0.1h1v4.2h1v0.1h1v0.1h1v-2.7h1v0.1h1v-0.1h1h1v-0.1h1v2h1v0.5h1v-0.1h1v0.1h1h1h1h1v0.2h1h1v-2.7h1v-1.2h1h1h1h1v-0.1h1v-0.1h1v-0.1h1v0.9h1v0.5h1v-0.2h1v-0.1h1v-0.2h1v1.3h1v0.7h1v-0.1h1v-0.2h1v0.1h1v0.1h1v-2.5h1v0.1h1v0.1h1v0.1h1v0.1h1v1.1h1h1v0.1h1h1v0.3h1v-0.4h1h1v-0.1h1v1h1v-2.2h1h1v-0.1h1h1v0.9h1h1v-0.1h1v-0.1h1v-0.1h1v-2h1v-0.1h1v-0.1h1v-1.1h1h1h1v2.3h1h1h1v-0.8h1h1v-1.4h1v-1.5h1v2.3h1v-0.1h1v-0.1h1v4.4h1v-1.7h1v-0.1h1h1h1v-0.1h1v1.5h1v-2.1h1h1h1v1.2h1h1h1v-2.8h1h1v0.7h1v2.1h1h1v0.1h1v1.9h1v0.1h1v0.1h1v0.1h1v0.2h1v-4.1h1v0.1h1v0.1h1h1v0.1h1v0.1h1v0.1h1v-2.1h1v0.1h1v2.3h1v0.1h1v0.6h1h1v0.1h1v-1.2h1v-0.1h1h1v1.8h1v-0.1h1v0.3h1v-0.1h1v-0.1h1v-0.1h1v1.7h1v-0.1h1h1h1v-4.1h1v0.1h1v0.1h1v0.7h1v0.1h1v0.1h1v0.1h1h1h1v-0.8h1h1v-0.8h1v1h1v-0.1h1v-0.1h1v-0.2h1v-0.1h1v-2.7h1v2.4h1v-0.2h1v-0.1h1v-0.2h1v2.8h1v-0.1h1h1h1h1v-0.7h1h1v0.1h1v0.1h1v0.1h1v0.2h1v-1.6h1v0.1h1v0.5h1v0.2h1v-2.2h1v0.1h1v2.7h1v2.7h1v0.1h1v0.2h1v-2.1h1v0.1h1h1h1v0.1h1h1v0.4h1v0.1h1v0.8h1h1h1v-0.1h1v0.2h1v-0.1h1v-0.1h1v-0.1h1v-0.1h1v-1h1v-0.2h1v-0.1h1v-0.2h1v-0.1h1v-0.1h1v0.2h1v1.5h1v-0.1h1v-0.1h1v-0.1h1v-0.1h1v-0.5h1h1v-0.9h1h1h1v0.1h1v0.1h1v0.1h1h1v-2.4h1v0.1h1v0.2h1v0.1h1h1h1v-1.1h1v-0.1h1v-0.1h1v-0.1h1v-0.2h1v1.9h1v-2h1v-0.2h1v-0.2h1v-0.1h1v-2.5h1v0.9h1v-0.1h1v-0.1h1h1v2.8h1v0.1h1h1v0.2h1v1.2h1v-0.3h1v2.5h1v0.1h1v0.2h1v0.2h1v0.1h1v0.1h1v0.2h1v-1.2h1h1h1h1v-0.1h1v-0.1h1v-1.1h1h1v-0.2h1v-0.1h1v-0.2h1v-0.2h1h1v-0.2h1v-2h1v3.4h1v-0.1h1h1v-0.6h1v0.5h1v0.1h1v-0.4h1v0.3h1v-2.2h1v0.2h1v0.2h1v0.1h1v0.1h1v-0.1h1v1.2h1v-0.2h1v-0.2h1v0.6h1v0.6h1v-0.3h1v-0.4h1v-0.2h1v-0.2h1h1v-1.4h1v0.2h1v0.1h1v0.3h1v-1h1v0.3h1v0.3h1v0.4h1v0.2h1v0.3h1v-0.7h1v0.8h1v2.3h1h1v-0.1h1v0.3h1v-0.1h1v-0.1h1v-2.5h1v-0.1h1v-0.1h1v1h1v0.1h1v0.1h1v0.1h1v-0.2h1v0.2h1v0.1h1v0.1h1v0.2h1h1v-0.1h1h1v-0.1h1v0.2h1v-0.2h1v1.3h1v-0.2h1v-0.1h1v-0.5h1v-0.9h1v-0.1h1h1h1h1v-0.9h1h1h1h1h1v1.4h1h1v0.1h1v2.6h1v0.1h1v0.1h1v0.1h1v0.1h1h1v0.1h1v-4.5h1h1h1v-0.8h1v-0.1h1v-0.1h1h1v-1h1v-0.7h1v1.4h1v1.4h1v0.1h1v0.1h1h1v0.2h1v0.3h1h1h1h1v2.9h1v-0.2h1v-0.2h1v-0.4h1v-0.2h1v-0.3h1v-0.2h1v-3.3h1v-0.3h1v-0.3h1v-1h1v-0.2h1h1v-0.1h1v2.9h1h1v0.1h1v0.1h1v1.7h1v0.1h1v0.1h1h1v-1.7h1h1h1h1v-0.1h1v-0.1h1v-0.1h1h1v-0.7h1h1v-0.9h1v0.1h1v-0.8h1v1.6h1v0.3h1v0.2h1v0.4h1v0.4h1v0.8h1v0.3h1v0.4h1v1.5h1v0.5h1v0.4h1v0.6h1v0.4h1v0.7h1v3h1v0.2h1v0.8h1v0.8h1v0.8h1v0.8h1v0.4h1v0.4h1v0.3h1v0.9h1v0.3h1v-1.8h1v-1h1v0.2h1v0.5h1v0.2h1v0.3h1v0.4h1v0.3h1v0.1h1v0.2h1v0.8h1v0.1h1v0.2h1v0.2h1v-0.4h1v0.1h1v0.1h1v1.5h1v1.2h1v0.1h1h1v-0.3h1v0.1h1v-1.9h1h1v-0.8h1v0.1h1v0.1h1v1.2h1v0.1h1v0.1h1v0.7h1v-0.7h1v0.5h1v0.1h1v0.5h1v0.6h1v2.1h1v0.5h1v0.6h1v-0.2h1v0.6h1v1h1v0.5h1v0.5h1v0.5h1v0.5h1v0.5h1v0.5h1v0.3h1v0.5h1v1h1v-0.1h1v0.6h1v1.2h1v0.6h1v0.7h1v-0.3h1v0.7h1v0.6h1v0.6h1v0.6h1v1.5h1v0.1h1v0.5h1v0.5h1v-0.3h1v1.2h1v0.4h1v0.5h1v1.2h1v0.4h1v0.6h1v0.7h1v0.5h1v0.7h1v0.7h1v0.6h1v0.8h1v0.6h1v0.7h1v0.5h1v0.9h1v1.5h1v1.5h1v1.8h1v1.5h1v2h1v2.9h1v2.8h1v1.7h1v2.7h1V704.6h-1v-2.7h-1v-1.9h-1v-2.8h-1v-2.9h-1v-2.4h-1v-1.4h-1v-1.2h-1v-1.4h-1v-1.4h-1v-0.8h-1v-0.5h-1v-0.7h-1v-1h-1v-0.7h-1v-0.5h-1v-0.7h-1v-0.7h-1v-0.6h-1v-0.7h-1v-0.5h-1v0.3h-1v-1.1h-1v-0.4h-1v-0.5h-1v-1.4h-1v0.1h-1v-0.4h-1v-0.5h-1v-0.1h-1v-0.7h-1v-0.5h-1v-0.6h-1v-0.6h-1v-0.6h-1v-1h-1v-0.7h-1v-0.6h-1v0.3h-1v-0.6h-1v-1.5h-1v-0.9h-1v-0.5h-1v-0.1h-1v-0.5h-1v-0.4h-1v-0.6h-1v-0.4h-1v-0.5h-1v-0.5h-1v0.6h-1v-0.5h-1v0.2h-1v-0.5h-1v-0.6h-1v-1.6h-1v-0.5h-1v-0.5h-1h-1v-0.5h-1v-1.2h-1v-0.8h-1v-0.1h-1v-0.1h-1h-1v-0.1h-1h-1v1.7h-1v-0.1h-1v2h-1v-0.1h-1v-1.4h-1h-1v-0.1h-1v-1.2h-1v-0.8h-1v-0.1h-1v-0.1h-1v-0.3h-1v-0.2h-1v-0.2h-1v-0.1h-1v-0.8h-1v-0.2h-1v-0.1h-1v-0.3h-1v1.4h-1v-0.3h-1v-0.2h-1v-1.3h-1v-0.2h-1v-0.6h-1v1.8h-1v-0.3h-1v-0.5h-1v-0.3h-1v-0.3h-1v-0.5h-1v-0.8h-1v-0.7h-1v-0.8h-1v-0.7h-1v1.8h-1v-2.9h-1v-0.7h-1v-1.7h-1v-0.5h-1v-0.4h-1v-0.5h-1v-1.7h-1v-0.4h-1v-0.3h-1v-0.8h-1v-0.4h-1v-0.3h-1v-0.3h-1v-0.3h-1v0.8h-1v0.3h-1v-0.2h-1v0.9h-1v0.1h-1v-1.7h-1h-1v0.1h-1v0.1h-1v0.5h-1v0.1h-1v-0.1h-1h-1v1.8h-1h-1v-0.1h-1v-0.2h-1v1.2h-1v-0.1h-1v-0.1h-1h-1v-2.8h-1h-1h-1v0.2h-1v-1.6h-1v4.3h-1v0.2h-1v3.3h-1v0.2h-1v-2.8h-1v0.2h-1v-0.7h-1v0.2h-1v0.2h-1v-3h-1v0.1h-1h-1v-0.1h-1v-0.3h-1v-0.2h-1v-0.1h-1h-1v-0.1h-1v2.6h-1v-1.5h-1v-2.4h-1v1.4h-1h-1v-0.5h-1v0.1h-1v2.4h-1h-1h-1v1.4h-1h-1v-0.1h-1v1.4h-1v-0.1h-1v-0.1h-1v-0.1h-1v-1.2h-1v-0.1h-1h-1v-2h-1h-1h-1h-1h-1v-0.1h-1h-1h-1h-1v0.1h-1v-0.2h-1v0.4h-1v0.1h-1v0.2h-1v0.2h-1v0.2h-1v-0.2h-1v-0.1h-1h-1v0.1h-1h-1v-0.1h-1v-0.1h-1v-0.2h-1v-0.2h-1v-0.2h-1v-0.1h-1v-0.1h-1v-0.1h-1v1.8h-1v0.1h-1v0.2h-1v-1h-1v0.2h-1v0.1h-1v0.4h-1h-1h-1v-2.2h-1v-0.5h-1v-0.6h-1v-0.3h-1v-0.3h-1v-0.3h-1v-0.4h-1v-0.2h-1v3.3h-1v-0.3h-1v-0.1h-1v-0.2h-1v-0.6h-1h-1v0.2h-1v0.2h-1v2.3h-1v0.3h-1v-1.5h-1v-0.6h-1v0.2h-1v0.2h-1v1h-1v0.1h-1v-0.1h-1v-0.1h-1v-0.2h-1v-0.2h-1v-1.6h-1v-0.2h-1v0.3h-1v-0.1h-1v1.3h-1v0.6h-1v0.1h-1h-1v-0.2h-1v-0.4h-1v0.2h-1h-1v0.2h-1v0.1h-1v0.2h-1v0.2h-1h-1v0.7h-1h-1v0.1h-1v0.1h-1v-0.1h-1v0.1h-1v0.4h-1v-0.1h-1v-0.1h-1v-0.1h-1v-0.2h-1v-0.2h-1v-0.1h-1v-2.5h-1v1.4h-1v0.3h-1v-0.1h-1v-0.1h-1h-1v-2.4h-1v0.1h-1h-1v0.1h-1v-0.8h-1v0.3h-1v0.1h-1v0.2h-1v0.3h-1v-0.3h-1h-1v0.3h-1v0.1h-1v0.1h-1h-1v0.7h-1h-1h-1v-0.4h-1v-0.2h-1v-0.1h-1v2.4h-1v0.7h-1v-0.2h-1v-0.1h-1v-0.1h-1h-1h-1v0.9h-1h-1v-1.5h-1v0.1h-1h-1v0.1h-1v0.1h-1v-1.4h-1v-0.1h-1v0.1h-1v0.1h-1v0.2h-1v0.1h-1v0.2h-1v3.7h-1v0.1h-1v0.1h-1v0.1h-1v0.1h-1v-0.3h-1h-1v0.1h-1h-1v-0.8h-1v-0.1h-1v-1.2h-1h-1v-0.1h-1h-1h-1v-0.1h-1v3h-1v-0.2h-1v-0.1h-1v-2.7h-1v-2.8h-1v-0.1h-1v1.3h-1v-0.2h-1v-1.4h-1v-0.1h-1v1.6h-1v-0.1h-1v-0.2h-1v-0.1h-1h-1v-0.1h-1v1.2h-1h-1v0.1h-1h-1v0.1h-1v-1.5h-1v0.2h-1v0.1h-1v0.2h-1v-2.4h-1v0.4h-1v0.1h-1v0.2h-1v0.1h-1v0.1h-1v2.1h-1v0.8h-1h-1v-1.7h-1h-1v-0.1h-1v-0.1h-1h-1v-0.1h-1v0.6h-1v-0.1h-1v-0.1h-1v3.9h-1h-1h-1v0.1h-1v-1.6h-1v0.1h-1h-1v0.1h-1v-1.7h-1v0.1h-1v-1h-1h-1v0.1h-1h-1v-0.1h-1h-1v-0.6h-1v-0.1h-1v0.8h-1v-0.1h-1v-0.6h-1v-0.1h-1h-1v-0.1h-1v1.2h-1v-0.1h-1v-0.1h-1v4.1h-1v-0.2h-1v-0.1h-1v-0.1h-1v-0.1h-1v-1.5h-1v-0.1h-1h-1v-2.1h-1v-0.1h-1v-0.1h-1v1.5h-1h-1h-1v0.1h-1h-1h-1v2.2h-1v-1.9h-1v0.1h-1h-1h-1v0.1h-1v-0.4h-1v-4.2h-1v0.1h-1v0.1h-1v0.7h-1v1h-1v1.4h-1h-1v-1h-1h-1v-0.1h-1v0.2h-1v0.1h-1v-0.1h-1v1.8h-1h-1v0.1h-1v-0.1h-1v0.1h-1v0.1h-1v0.1h-1v2h-1v0.2h-1h-1v0.1h-1h-1v-2.6h-1v-1h-1h-1v0.1h-1v0.9h-1v-1h-1h-1v-0.1h-1h-1v0.2h-1v-0.1h-1v-0.1h-1v-0.1h-1v-0.1h-1v2.5h-1v-0.1h-1v-0.1h-1v-1.1h-1v0.1h-1v-0.1h-1v-1.3h-1v0.2h-1v0.2h-1v0.1h-1v1.6h-1v-0.9h-1v0.1h-1v0.1h-1v-0.3h-1h-1h-1h-1h-1v2.7h-1h-1v-0.7h-1h-1h-1h-1v-0.1h-1v0.1h-1v0.2h-1v-2h-1h-1v0.1h-1h-1v-0.1h-1v2.7h-1v-0.1h-1v-0.5h-1v-4.1h-1v-0.2h-1v-0.1h-1v-0.1h-1v-0.2h-1v1.2h-1v1h-1v0.2h-1v-1.2h-1v0.8h-1v1.7h-1v0.1h-1v0.1h-1v1.5h-1v-0.1h-1v-0.2h-1v-0.1h-1v-0.2h-1v-0.2h-1v-0.3h-1v-0.2h-1v-1.3h-1v-0.2h-1v-2.1h-1v-0.1h-1h-1h-1v0.1h-1v0.1h-1v0.3h-1v0.1h-1h-1v0.1h-1h-1h-1v0.7h-1v-1.8h-1h-1v-0.1h-1v-0.1h-1h-1v0.3h-1v0.1h-1v-1.3h-1v3.6h-1h-1h-1v-1.5h-1h-1h-1h-1v1.1h-1v0.2h-1h-1v-1.9h-1v0.1h-1v0.1h-1v0.2h-1v-0.5h-1v0.2h-1v1.4h-1v0.1h-1v-0.3h-1v1.8h-1v0.1h-1h-1v-0.1h-1v1.8h-1v-0.1h-1h-1v0.6h-1h-1h-1v-4.6h-1v0.1h-1v2.4h-1v0.2h-1h-1h-1h-1v-1.9h-1h-1v-0.1h-1v-0.1h-1v-0.1h-1v0.9h-1v-0.1h-1v-0.1h-1v-0.7h-1v-0.1h-1h-1h-1h-1v1.4h-1v0.1h-1h-1v0.1h-1v0.1h-1v0.1h-1v0.1h-1v-2.2h-1h-1h-1h-1h-1v-0.1h-1h-1v-1.5h-1v-0.1h-1v-0.1h-1v-0.3h-1v-0.2h-1v-0.1h-1h-1v-0.6h-1h-1v-0.1h-1v0.1h-1v4.3h-1h-1v-0.1h-1h-1v-0.7h-1v-0.1h-1v-0.2h-1v-0.4h-1v-0.2h-1v-0.1h-1h-1v-0.2h-1v-0.1h-1v-0.1h-1v-0.1h-1v0.8h-1h-1v0.3h-1v1.2h-1v0.1h-1v-2.3h-1v0.1h-1h-1v0.1h-1v0.1h-1v0.8h-1h-1v0.1h-1v0.1h-1v-0.8h-1h-1v-0.1h-1h-1v-1.8h-1v-0.1h-1h-1v-0.2h-1v2.2h-1v-0.7h-1v1.1h-1v1.7h-1h-1v0.1h-1v0.8h-1v0.2h-1v-1.5h-1v0.3h-1v0.8h-1v1.3h-1v0.2h-1v0.2h-1v-2.5h-1v0.1h-1v0.1h-1v0.4h-1h-1h-1v0.5h-1v-0.2h-1h-1v0.3h-1h-1h-1v-3.9h-1v-0.1h-1h-1v0.3h-1v-0.7h-1v-0.1h-1h-1v-0.1h-1v0.2h-1v2.8h-1v-0.1h-1v1.2h-1v-0.1h-1v-0.1h-1v-0.7h-1v0.2h-1v0.1h-1v0.1h-1v0.1h-1v-1.1h-1v0.4h-1v0.2h-1v0.2h-1v-0.1h-1v0.2h-1v0.1h-1h-1v-0.1h-1v0.1h-1v-2.2h-1v-0.3h-1v1.7h-1v-0.2h-1v0.3h-1v-0.1h-1v-0.1h-1v-0.2h-1v-0.1h-1v-0.1h-1v-0.1h-1v-0.1h-1v0.3h-1v-0.2h-1v-0.7h-1v0.4h-1v-0.2h-1h-1v-0.1h-1v-0.1h-1h-1v-2.1h-1v0.1h-1v2.6h-1v0.2h-1v0.1h-1v0.1h-1v0.2h-1v0.2h-1v0.2h-1v0.1h-1v-2.1h-1v3h-1v0.1h-1v-0.6h-1v0.1h-1h-1v0.1h-1h-1h-1v0.4h-1h-1v-1.7h-1h-1h-1h-1v-0.5h-1v-0.1h-1v-0.2h-1v-1.9h-1v-0.2h-1v0.9h-1v-0.2h-1v2.5h-1v-0.2h-1v-0.2h-1v-0.5h-1v-0.2h-1h-1h-1v0.2h-1v0.1h-1v-2.5h-1v1.7h-1v0.2h-1v0.1h-1v0.3h-1v0.1h-1v0.2h-1v-0.1h-1v0.1h-1v2.3h-1v-0.1h-1h-1v0.4h-1h-1h-1v-1.3h-1h-1v0.1h-1v0.5h-1v0.1h-1v0.1h-1v0.2h-1v-0.4h-1v-2.2h-1v0.1h-1h-1v-0.2h-1h-1v-1.1h-1h-1v-0.1h-1v-0.1h-1v-0.1h-1v-0.4h-1v-0.2h-1h-1v2.3h-1v2h-1h-1v0.1h-1h-1h-1v0.4h-1v-0.1h-1v-2.4h-1v-0.2h-1v-0.1h-1v0.6h-1v-0.1h-1v-0.7h-1v-0.1h-1h-1v0.7h-1v0.1h-1v0.3h-1v-0.3h-1v1.4h-1v0.1h-1v0.2h-1h-1v-1.8h-1h-1h-1h-1v-1.6h-1v-0.1h-1v-0.1h-1h-1h-1v1.4h-1h-1v0.1h-1v1.2h-1v0.1h-1v0.8h-1h-1v0.1h-1v-0.9h-1v1.7h-1h-1h-1v-0.1h-1v-0.1h-1v-0.1h-1h-1v-0.3h-1v-0.1h-1h-1v-4.2h-1h-1v0.1h-1v-0.1h-1h-1v2.9h-1h-1v-0.1h-1v0.1h-1v-0.1h-1v-0.1h-1v-2.1h-1v0.1h-1v-0.1h-1h-1v-0.1h-1h-1h-1v-0.2h-1h-1v1.6h-1v-0.1h-1v-1h-1h-1v-1.9h-1v-0.1h-1v-0.1h-1h-1h-1v2.3h-1v2.1h-1v0.1h-1v0.1h-1v0.1h-1v0.1h-1v-1.4h-1v0.1h-1h-1h-1v-2.8h-1v1.6h-1v-0.1h-1v-0.1h-1v1.3h-1v-0.1h-1h-1h-1v1.3h-1v0.1h-1v1.1h-1v0.1h-1v-1.5h-1v0.3h-1v-1.2h-1v0.3h-1v-1h-1v0.2h-1v-0.4h-1v0.1h-1h-1v0.1h-1h-1h-1v0.5h-1v0.1h-1v1.6h-1h-1v-0.1h-1h-1h-1h-1v-0.1h-1v-0.8h-1v-0.6h-1v-0.1h-1v-0.1h-1v-0.2h-1v1.8h-1v1.8h-1v-0.8h-1v-0.2h-1v-0.9h-1v-0.2h-1v-0.1h-1v-0.6h-1v0.2h-1v0.2h-1v0.2h-1v0.3h-1v0.3h-1v0.1h-1v-3.4h-1v0.3h-1v0.4h-1v0.1h-1v0.3h-1h-1v0.1h-1v2.8h-1v2.4h-1v0.1h-1v0.6h-1v-1.7h-1h-1v0.2h-1h-1v0.2h-1v1.5h-1v-1.3h-1v0.1h-1v0.2h-1v0.3h-1v0.2h-1v0.2h-1v0.3h-1v-0.9h-1v0.3h-1v0.3h-1h-1v0.2h-1v0.1h-1v0.6h-1v0.1h-1h-1v0.1h-1v-0.1h-1h-1v0.1h-1v0.4h-1v1.4h-1v0.9h-1v0.6h-1v0.5h-1v-0.3h-1v0.6h-1v0.7h-1v0.5h-1v0.5h-1v1.7h-1v0.5h-1v1.3h-1v0.5h-1v0.4h-1v0.2h-1v0.4h-1v-2.4h-1v0.4h-1v0.3h-1v-0.2h-1v-0.3h-1v1.1h-1v-1.3h-1v-0.3h-1v-0.5h-1v0.5h-1v0.6h-1v0.5h-1v0.5h-1v0.6h-1v0.9h-1v-0.2h-1v0.7h-1v0.8h-1v0.7h-1v0.7h-1v0.3h-1v0.1h-1v0.3h-1v0.4h-1v2.6h-1v0.4h-1v0.3h-1v0.4h-1v0.3h-1v0.3h-1v-1.4h-1v0.3h-1v0.3h-1v1.5h-1v-0.2h-1v0.5h-1v0.7h-1v0.7h-1v0.6h-1v2.5h-1v0.6h-1v0.6h-1v0.6h-1v0.6h-1v-0.4h-1v0.6h-1v0.5h-1v-0.1h-1v0.8h-1v0.6h-1v0.6h-1v0.6h-1v0.5h-1v0.6h-1v0.6h-1v0.5h-1v0.4h-1v0.6h-1v0.4h-1v0.2h-1v0.6h-1v0.9h-1v1.6h-1v0.9h-1v1h-1v0.9h-1v1h-1v0.8h-1v1h-1v1.3h-1v2.4h-1v2.5h-1v2.1h-1v1.1h-1v1.2h-1v1.4h-1Z" stroke="none"/>
<path d="M170.2 702.5l2-2.5 2-3.6 2-4.8 2-2.4 2-2 2-2 2-1.9 2-1.6 2-0.7 2-1.1 2-1.1 2-1.2 2-1.3 2-1.2 2-1.2 2-0.2 2-1.3 2-1.2 2-3 2-1.4 2-0.9 2-0.7 2 1.1 2-0.6 2-0.7 2-3 2-0.7 2-0.7 2-1.4 2-1.4 2-0.4 2-1.1 2-1.1 2-0.3 2 0.6 2-0.8 2 0 2 1.9 2-0.9 2-0.9 2-1.8 2-1 2-1.2 2-1.3 2-1.1 2-1.4 2-0.6 2 0.1 2-0.1 2-0.6 2-0.3 2-0.6 2-0.9 2-0.5 2-0.5 2-0.3 2 1.2 2-0.2 2-0.1 2-0.8 2 0 2-2.9 2-0.2 2-0.4 2 3 2-0.5 2-0.5 2-0.4 2 0.2 2 0.3 2 0.3 2-1.6 2 0.3 2 0.2 2 0.9 2 0 2 0.1 2-1.6 2 0 2 0 2-0.1 2 0.3 2-0.4 2-0.4 2 1.2 2-0.3 2-0.2 2 0.1 2-3.4 2 0.2 2 2.9 2 0.1 2-0.3 2-0.2 2-0.2 2-2.2 2 0 2 0.2 2 0.2 2 1.1 2 0 2 0 2 0.1 2 0 2 2.2 2 0.2 2 0.2 2-3.1 2 0 2 0 2 4.2 2 0.1 2 0.1 2 0.1 2 0.1 2-1.8 2-0.2 2-0.8 2-0.1 2-1.5 2 0.1 2 0.1 2 0 2-0.1 2 1.8 2-0.3 2 0.2 2-0.3 2 0.1 2 0.1 2 0.1 2 0.3 2 0.1 2-0.4 2 0 2-2.1 2 0.1 2 0.5 2 0.2 2 0.2 2 0.1 2 0.5 2 1.4 2-0.4 2-0.2 2-0.1 2 1.3 2 0 2-0.2 2-2.2 2-0.3 2-0.3 2-0.4 2-0.3 2 1 2 0 2 0.1 2 0.4 2-1.7 2 0.4 2 2.1 2 0.3 2 0 2 0.1 2 1.7 2 0 2-0.1 2-0.1 2-0.2 2-3.2 2-0.3 2-0.4 2-0.2 2-0.3 2 1.1 2 0.1 2 0.1 2 0.3 2 0.9 2 0.3 2 0.2 2 0.3 2 0.2 2 0.2 2-1.6 2 0 2 0 2-0.2 2 1.1 2-0.3 2-0.2 2-0.2 2 0.5 2 0.1 2 0.2 2-2.7 2 0.2 2 0.2 2 0.2 2 4 2 0.1 2 0 2-0.4 2-0.1 2-0.1 2-0.3 2-0.5 2-1.6 2 1.3 2-0.4 2-0.1 2-1.7 2-2.1 2 0.2 2 0.1 2 0.1 2 2.8 2-0.2 2-0.1 2-0.1 2-0.1 2-0.1 2-1.3 2 0 2 0.2 2 0.3 2 0.4 2 0.4 2 0.2 2 2.1 2 0 2-4.3 2 0 2 0.1 2 0.2 2 0.2 2 1.5 2 0.2 2 0 2-0.1 2 2.1 2-0.9 2-0.1 2 0 2 0 2 0.1 2 0.2 2-0.7 2 0.2 2 0.1 2 0 2-0.1 2-0.1 2 1.7 2 0 2 0.1 2 0.1 2 0.1 2-1.9 2-0.2 2-1.6 2-0.3 2-0.2 2 2 2-1.2 2 0 2 1.9 2-0.1 2-3.5 2 0.6 2 0.1 2 0.1 2 1.8 2 0 2-0.1 2-0.3 2-0.2 2 0 2 0.2 2 1.4 2 0.5 2 0.4 2 0.2 2 0 2-0.3 2-1.8 2-0.3 2-0.9 2 0.2 2 0.3 2 4.3 2-2.6 2 0.1 2-0.2 2 2 2 0 2 0.1 2 0.1 2-2.7 2 0 2 0 2-0.3 2 0.8 2-0.3 2-0.4 2 1.3 2-0.1 2 0.1 2-2.3 2 0.2 2 1.6 2 0.1 2-0.1 2 0 2 1 2 0 2-0.1 2-0.2 2-0.1 2-1.9 2-0.2 2 0 2-0.1 2 0 2 0 2-1.4 2-0.2 2 3.7 2-0.1 2 0 2-0.1 2 0 2-1.3 2 0 2 0.1 2 2.1 2 0.1 2 0.2 2 0.2 2-3.9 2 0.2 2 0.2 2 0.2 2 0.2 2 0.1 2 0.6 2 0.1 2-0.1 2 0.6 2-0.3 2-0.1 2 1.5 2 0 2-2.8 2 0.1 2 0.2 2 0.1 2 0.1 2-0.8 2-0.2 2-0.3 2-0.2 2 2.2 2-0.3 2-0.3 2 0 2 0.1 2 0 2 0.3 2-1.5 2 0.3 2 0.4 2 0.4 2 2.8 2-1.2 2 0 2 0.1 2 0.1 2 0.9 2-0.1 2 0 2-0.1 2-0.2 2-1.4 2-0.3 2-0.2 2 1.4 2-0.2 2-0.1 2 0 2-1 2 0.1 2 0.3 2-2.3 2 0.3 2 0.1 2 0.4 2-0.1 2-0.4 2-0.4 2-0.4 2-0.2 2 0.7 2-0.1 2 0.1 2 0.2 2 0.3 2 2.6 2 0.4 2 0.2 2-1.1 2 0 2-0.1 2-0.2 2-0.2 2-0.4 2-0.1 2-0.4 2-0.2 2 0 2 0.1 2-0.1 2 0.4 2 0.3 2 0 2-0.3 2 0.4 2-0.5 2-0.4 2-0.2 2 0.1 2 0.4 2-2.5 2 0.6 2 0.6 2 0.4 2 2.3 2-0.2 2-0.3 2-0.3 2-0.1 2 0.1 2 0.3 2 0.4 2 0.2 2-0.1 2-0.1 2 0 2-0.3 2-0.5 2-0.1 2 0 2 0 2 0 2 0 2 1.9 2 0.2 2 0.2 2 0.1 2 0.1 2-2.5 2-2.5 2-0.1 2 0 2 1.5 2 0.1 2 0.2 2 0.2 2 0.1 2 2.9 2-0.3 2-0.4 2-0.5 2-3.5 2-0.3 2-0.2 2 2.8 2 0.2 2 0.1 2 0.1 2-1.3 2 0 2-0.1 2-0.2 2 0 2-1 2 0.4 2 0.6 2 0.6 2 1.2 2 0.6 2 1 2 1 2 1.2 2 3.7 2 1.5 2 1.6 2 0.7 2 0.6 2-1.5 2 0.4 2 0.5 2 0.4 2 0.4 2 1 2 0.3 2 0.4 2 0.2 2 1.3 2 0.1 2 0.2 2-1.9 2 0.2 2 0.2 2 0.2 2 1.2 2 0.5 2 1 2 2.1 2 0.3 2 1.1 2 0.9 2 0.9 2 1 2 0.9 2 1.6 2 1.2 2 1.2 2 1.3 2 1.2 2 1.1 2 0.6 2 0.9 2 0.9 2 1.6 2 1 2 1.4 2 1.3 2 1.4 2 1.4 2 1.3 2 2.9 2 3 2 4.9 2 5.1 1 2.7" stroke-width="3.8" fill="none" stroke-linejoin="round"/>
<path d="M734.5 641.8L737.2 530.3L738.8 530.3L741.5 641.8Z" stroke-width="2.5" stroke-linejoin="round"/>
</g>
<g clip-path="url(#c1)" fill="#61c132" stroke="#61c132">
<path d="M169.7 699.9h1v-5.4h1v-5.6h1v-3.7h1v-0.4h1v-0.4h1v-0.4h1v-0.5h1v-1.3h1v-2h1v-1.5h1v-1.4h1v0.2h1v-1.4h1v-1.9h1v-1.9h1v-3.2h1v-2.1h1v-2.8h1v-2.2h1v-2.4h1v-2.7h1v-2.6h1v-2h1v-2.6h1v-2.3h1v-0.9h1v-2.9h1v-2.1h1v-2h1v-1.5h1v2.1h1v2.1h1v1.2h1v2.1h1v2h1v1.2h1v1.8h1v1.9h1v-4.8h1v-6h1v-5h1v-4.4h1v-1.9h1v-2.1h1v-2.4h1v-2h1v-1h1v-0.8h1v-0.7h1v-0.7h1v5.2h1v8.4h1v8.4h1v-0.2h1v-1.7h1v-1.7h1v-1.7h1v-1.7h1v-5.6h1v-5.3h1v-5.5h1v-3.2h1v-5h1h1v5.1h1v0.3h1v5.8h1v5.7h1v-3.1h1v0.4h1v-5h1v-1.9h1v-1.5h1v-0.6h1v-0.5h1v-0.1h1v-0.3h1v1.1h1v-0.8h1v1.8h1v2.5h1v2.4h1v1.5h1v-0.4h1v-3.3h1v0.6h1v-1.4h1v1.5h1v2h1v-0.7h1v1.9h1v3.5h1h1v3.3h1v-1.2h1v-2.4h1v-1.4h1v-1.3h1v-1.3h1v-0.1h1v1.7h1v2h1v1.7h1v1.5h1v-5h1v-1.5h1v-1.6h1v-1.5h1v-1.5h1v-0.6h1v2h1v2.1h1v2.2h1v2.2h1v1.8h1h1v3.4h1h1v0.3h1v-4.3h1h1v0.2h1v0.1h1v1.4h1v1.4h1v1.3h1v1.3h1v1.2h1v1.6h1v1.6h1v0.3h1v1.4h1v0.2h1v0.2h1v0.3h1v0.1h1v0.3h1v-0.6h1v-0.1h1v2.3h1v-0.1h1v0.5h1v-0.1h1v-2.4h1v-0.1h1v-0.1h1h1v-0.1h1v0.6h1v-0.1h1h1v-0.5h1v1h1v-0.1h1h1v-0.6h1v-0.1h1h1h1v-0.7h1v0.1h1h1v0.3h1h1v-0.5h1v0.1h1v0.1h1v0.2h1v1.1h1v0.2h1v0.2h1v0.1h1v-1.9h1v0.1h1v0.1h1v0.1h1h1v-0.1h1h1v-0.1h1v-0.1h1v-0.2h1v-0.1h1v3.2h1v-0.1h1v-0.1h1h1v1.2h1h1h1v-2.9h1v0.1h1v-0.4h1h1h1v-0.1h1h1v0.7h1v-0.1h1v1.7h1v-0.1h1v-0.9h1v-3.2h1h1v-0.1h1v2.6h1h1h1v0.2h1h1h1h1v-0.1h1v0.2h1v-0.1h1h1v-0.1h1v-1.3h1v-0.1h1v-0.1h1v-0.2h1v0.6h1h1h1v-0.9h1v2h1v-1h1v0.1h1h1v0.1h1v0.1h1h1v0.1h1h1v1.4h1v0.5h1v-0.1h1v-0.8h1h1v-0.1h1v0.3h1v-0.1h1v-0.1h1h1v-0.1h1v-0.9h1v-0.1h1v-0.1h1v-1.2h1h1h1v0.7h1h1v-0.1h1v-0.9h1v0.1h1v0.1h1v0.4h1v1h1v0.6h1v0.1h1v0.1h1h1v0.1h1v-1.7h1v0.1h1h1h1v-0.1h1v-0.5h1h1v0.3h1h1v0.1h1v0.8h1v-0.5h1v0.1h1v0.2h1v0.5h1v0.2h1v1.4h1v0.2h1v0.2h1h1v0.1h1v1h1v0.1h1v-0.6h1h1h1h1v-0.1h1v-0.5h1v-1h1v-0.1h1v-0.1h1h1v0.1h1v-1.5h1h1h1h1v0.2h1h1v-0.4h1v0.8h1h1v0.7h1v-0.1h1h1v-0.9h1v1h1v-0.3h1v0.3h1v-0.1h1h1v-0.1h1v-0.5h1v-0.3h1v-0.1h1v-0.1h1v-0.1h1v-0.1h1v-0.1h1v1.6h1v-0.1h1v-3.1h1v-1.8h1v-0.9h1v-0.1h1h1v-0.1h1v1.3h1v1.5h1v1.3h1v0.3h1v-0.1h1v0.3h1v-2.4h1v0.2h1v0.3h1v0.2h1v0.1h1h1v0.8h1h1v-0.1h1v-0.2h1v-0.2h1v-0.1h1v2.6h1v-1.7h1h1v-0.1h1h1v-0.1h1h1v1.3h1v-0.1h1v-0.6h1v-1.2h1v-0.1h1v2.9h1h1v-0.1h1v-0.1h1v-2h1v-0.1h1v1.2h1v1.9h1v-1.8h1v0.1h1h1h1v-2.7h1v0.1h1v0.1h1v1.2h1h1h1v0.1h1v0.1h1h1v0.1h1h1v0.9h1v0.2h1v0.1h1v0.2h1v-0.4h1v0.1h1v0.1h1v-0.5h1h1h1v0.6h1v-0.1h1v-0.2h1v1.5h1v0.2h1v-0.3h1v-0.3h1v-0.2h1v-0.1h1v-0.2h1v0.1h1v-0.1h1v-0.1h1h1v-0.3h1v-0.1h1v-1.8h1v0.1h1h1v-0.1h1h1v0.1h1v-0.7h1h1v2.9h1v0.1h1v0.1h1v0.1h1h1v-1.1h1v-1.4h1h1v-0.1h1h1v1.5h1h1h1h1v1.5h1h1v-2.8h1v0.1h1v1h1h1v0.2h1v0.1h1h1v-0.2h1v0.1h1v0.7h1v0.1h1v0.1h1v-0.1h1v-1.4h1v1.2h1h1v0.1h1v-0.5h1h1h1v0.6h1v-0.2h1h1v-1h1h1v1.2h1h1h1h1v-0.1h1v0.1h1h1h1v0.2h1h1v-0.1h1v-0.3h1h1v-0.1h1v-0.1h1v-0.2h1v-0.2h1v-0.1h1v-0.2h1v-0.1h1v-0.1h1v-0.8h1v0.1h1v-0.1h1h1v0.2h1h1v0.2h1v0.2h1v0.2h1v0.2h1v1.7h1v0.1h1v0.1h1h1v0.1h1h1v-1.7h1v-0.1h1v-0.1h1v1.6h1v-2h1v-0.1h1v-0.1h1h1v-0.1h1v0.8h1v-0.1h1h1v0.7h1v0.1h1h1h1v-0.7h1v-0.1h1v-0.7h1h1v0.3h1h1h1v0.1h1v1h1h1v0.1h1h1h1v-0.2h1h1v-0.9h1h1v0.1h1h1v0.1h1v0.9h1h1v0.1h1v0.3h1h1v0.1h1v-0.1h1h1v0.3h1v-3.5h1v-0.1h1v-1.1h1v-0.1h1v-0.1h1h1h1v-0.1h1v0.1h1h1h1v3.4h1v0.1h1h1v0.2h1v-0.1h1h1h1v-0.4h1v-0.1h1v-0.1h1h1v-0.4h1h1v-0.1h1v0.3h1v-0.3h1v0.1h1h1v0.1h1v0.1h1h1v0.3h1h1v0.1h1v0.1h1h1v-0.3h1v0.1h1h1v0.1h1v2.2h1h1h1h1v-1.5h1v-1.9h1v-0.2h1v-2h1v-0.2h1v-0.2h1v-0.2h1v-0.1h1v-0.1h1v3.1h1v-0.5h1h1v0.1h1h1v2.5h1v-1.2h1v0.1h1v0.1h1v0.5h1v0.1h1v0.2h1v0.2h1v0.1h1v0.2h1v1.1h1v0.2h1v0.2h1v0.1h1v0.1h1v-0.5h1h1v-0.1h1v-1.5h1v-0.1h1v-0.2h1v-1.2h1h1v-0.1h1v-0.2h1v-0.1h1v-0.2h1v1.5h1h1v-0.1h1v0.1h1h1v0.1h1v-2.4h1v0.1h1v3.1h1v-0.2h1v0.1h1v0.1h1h1v-0.6h1v-2h1h1h1h1h1h1h1v0.1h1v3.1h1v1.7h1v0.1h1v0.1h1v-4.5h1v0.1h1v0.1h1h1h1v-1.4h1v-0.1h1v-0.7h1v-0.1h1v-0.1h1v-0.2h1v2.7h1h1v2.1h1h1h1v0.1h1v0.2h1v0.2h1v0.2h1v-0.3h1v-0.4h1h1v0.1h1h1v-0.1h1v-0.4h1v-0.6h1v0.1h1h1v-0.4h1v0.4h1h1v-0.1h1v-0.5h1v-0.1h1v0.5h1h1v-0.1h1v-0.2h1v-0.2h1v-0.1h1v-0.7h1v-0.2h1v-0.1h1v-2.5h1h1v2.4h1v0.1h1h1v-1.2h1v0.1h1v1.5h1v1.5h1v0.3h1v0.2h1v0.3h1v0.2h1v0.3h1v-0.4h1v0.1h1v-1.9h1v0.1h1h1v0.6h1v-0.1h1h1h1v-0.1h1h1v-0.1h1h1v0.1h1v-0.4h1h1v1h1v0.1h1h1h1h1v-0.3h1v0.3h1v-0.2h1v-0.1h1v-1.6h1v-0.2h1v-1.7h1v2.6h1v0.1h1h1v-0.7h1v0.1h1v0.2h1h1v0.1h1v0.2h1v1.4h1v0.1h1v0.1h1v0.1h1h1h1v1h1v-0.1h1v-0.1h1v-0.8h1v-0.1h1v-0.1h1v-0.2h1v-0.2h1v-0.1h1v-2.1h1v-0.1h1v-0.9h1v-0.2h1h1v-1.5h1v0.1h1v1.6h1v0.1h1v0.2h1v0.2h1v-0.6h1v0.4h1v-0.9h1v0.3h1v0.2h1v1.7h1v0.4h1v0.1h1h1v-1.4h1v-0.1h1v0.1h1v-0.2h1v-0.2h1v-0.2h1v1.8h1v-0.1h1v1.2h1h1h1h1v0.1h1v0.1h1h1v0.1h1v-0.7h1h1v-1.6h1h1v1.3h1h1v-0.1h1v2.4h1h1v-0.2h1v-0.1h1v-0.1h1v-0.1h1v-0.1h1v-1.2h1v-1.7h1v1.1h1v-0.1h1h1v0.1h1v-0.8h1v-0.3h1v0.1h1v0.8h1v3.8h1v0.1h1v0.1h1v-3.3h1v0.7h1v0.1h1v0.1h1h1v0.4h1h1h1v-0.1h1v-0.7h1v0.8h1v-0.1h1v0.5h1v-0.1h1v-0.2h1v-1.2h1v-0.1h1v-0.1h1h1h1v-1.5h1h1v0.1h1v1.1h1v0.1h1v-1.8h1h1h1v-1.2h1h1h1v0.4h1h1h1v0.9h1h1v-0.5h1v-0.1h1v1.4h1v0.6h1v-0.1h1v-1.3h1h1v-0.1h1v0.5h1h1h1v2.6h1v-0.4h1h1v-1.9h1v0.1h1h1h1v-0.8h1h1v0.1h1v-0.1h1v0.6h1h1v-0.1h1v1.1h1v-0.2h1v-0.1h1v-0.2h1v-0.1h1v0.5h1v-0.1h1v-0.1h1v-0.1h1v0.7h1h1v0.1h1v0.2h1v-0.7h1v0.2h1v0.9h1v0.1h1v0.2h1v-0.8h1h1v-0.2h1h1v0.1h1v-0.7h1v0.1h1v-0.7h1h1h1v2.5h1v-0.1h1h1h1v-2.2h1v-0.1h1v-0.1h1v0.2h1v-0.1h1v-0.1h1h1v-1.7h1v0.1h1v-0.1h1v0.1h1h1h1v1.3h1v0.1h1h1v0.1h1v0.1h1v1h1v-0.1h1h1v-0.1h1v-1h1v0.7h1v-1.2h1v-0.1h1v-0.1h1v-0.1h1h1v-0.1h1v1.2h1v-0.1h1h1v0.1h1v-0.9h1v0.1h1v0.2h1v0.1h1v-0.4h1v0.3h1v0.2h1v2.5h1v-1.2h1v0.2h1v0.2h1v2.1h1h1h1v-0.1h1v-0.1h1v1.1h1v-1.1h1v-1.2h1v-1.6h1v-0.9h1v-0.5h1v-0.2h1v-0.3h1v-1h1v-0.2h1v-0.8h1v-0.7h1v0.5h1v-1.3h1v-3.4h1v-0.8h1v0.2h1v0.5h1v0.1h1v-2.4h1v0.4h1v-0.1h1v1.4h1v1.6h1v1.7h1v3.4h1v1.1h1v-3.1h1v-3.2h1v-3.8h1v-3.1h1v-2.5h1v0.8h1v-0.5h1v-1.5h1v-1.6h1v-1.6h1v1.2h1v1.7h1v1.6h1v1.2h1v2.4h1v2.3h1v2.3h1v2h1v1.7h1v-1.5h1v-1.4h1v-1.6h1v-1.2h1v-0.1h1v-0.3h1v-1h1v-0.3h1v-0.4h1v-0.3h1v-0.1h1v1.1h1h1v0.6h1v1.7h1v6.5h1v-2h1v-1.9h1v0.2h1v-1.7h1v-1.7h1v2.2h1v2.6h1v3.8h1v1.3h1v1.6h1v1.6h1v-0.7h1v-1.1h1v-0.1h1v-1.7h1h1v1.4h1v1.5h1v1.4h1v-0.9h1v-1.8h1v-1.2h1v-1.3h1v0.1h1v-1.3h1v0.6h1v2h1v1.8h1v1.2h1v2.2h1v2.9h1v2.3h1v-0.4h1v-2.6h1v-3h1v-5h1v-0.4h1h1v-0.1h1v0.3h1v0.7h1v1.4h1v1.7h1v4.9h1v4.2h1v4.2h1v4.5h1v4.6h1v1.1h1v2.5h1v2.4h1v2h1v2.6h1v2.5h1v3.3h1v5.1h1v4.8h1v9.6h1V705h-1v-9.6h-1v-4.7h-1v-4.8h-1v-2.7h-1v-2.3h-1v-2.4h-1v-2.9h-1v-2.4h-1v-2.4h-1v-0.9h-1v-3.6h-1v-3.5h-1v-3.8h-1v-3.9h-1v-4.5h-1v-1.7h-1v0.4h-1v-0.6h-1v-0.3h-1v0.1h-1h-1v0.1h-1v2.6h-1v2.8h-1v1.8h-1v0.4h-1v-2.1h-1v-1.5h-1v-2.1h-1v-1h-1v-1.7h-1v-1.8h-1v-0.5h-1v1.2h-1v-0.2h-1v1.1h-1v1.2h-1v0.6h-1v0.3h-1v-1.3h-1v-1.4h-1v-1.4h-1h-1v1.4h-1v1.9h-1v1.1h-1v0.6h-1v-1.5h-1v-1.5h-1v-2.3h-1v-3.6h-1v-2.5h-1v-2h-1v1.6h-1v1.6h-1v2.8h-1v1.7h-1v1.8h-1v-5.8h-1v-4.5h-1v-0.5h-1h-1v-0.8h-1v0.1h-1v0.3h-1v0.4h-1v0.3h-1v0.4h-1v0.3h-1v0.1h-1v1.1h-1v1.4h-1v1.4h-1v1.4h-1v-1.7h-1v-1.8h-1v-2.2h-1v-2.1h-1v-2.3h-1v-1.8h-1v-1.6h-1v-1.7h-1v-1.2h-1v1.6h-1v1.5h-1v1.6h-1v0.4h-1v4.4h-1v2.2h-1v2.7h-1v3.1h-1v2.8h-1v2.8h-1v-1h-1v-3.9h-1v-1.5h-1v-1.5h-1v-1.3h-1v0.2h-1v-0.3h-1v-0.5h-1h-1v-0.5h-1v-0.2h-1v0.7h-1v3.4h-1v3.4h-1v-1.4h-1v0.7h-1v0.7h-1v0.1h-1v-1.3h-1v0.2h-1v0.3h-1v0.5h-1v1.1h-1v1.6h-1v1.1h-1v1.1h-1v2.4h-1v0.1h-1v0.1h-1h-1h-1v-2.1h-1v-0.2h-1v-0.2h-1v-2.2h-1v-2.5h-1v-0.2h-1v-0.2h-1v0.3h-1v-0.1h-1v-0.2h-1h-1v0.7h-1v-0.1h-1h-1v0.1h-1v1.8h-1v0.1h-1v0.1h-1h-1v0.1h-1v0.1h-1v-2.3h-1v0.1h-1v0.3h-1h-1v0.1h-1h-1v1.8h-1v-0.1h-1v-0.1h-1h-1v-0.1h-1v0.9h-1h-1v-0.1h-1h-1h-1h-1v-0.3h-1v0.1h-1h-1v0.2h-1v0.9h-1v0.1h-1h-1v-1.7h-1v0.1h-1h-1h-1v-0.1h-1h-1h-1v-1.4h-1v-0.1h-1v0.6h-1h-1v-0.1h-1v-0.8h-1h-1v0.8h-1v-0.1h-1v-0.2h-1v2.3h-1v-0.2h-1v0.7h-1v-0.1h-1v-0.1h-1v-0.1h-1v-1.1h-1v-0.5h-1v0.1h-1v0.1h-1v-1.1h-1v0.1h-1v0.2h-1v0.2h-1v0.1h-1v-1.1h-1v0.1h-1h-1v-0.5h-1h-1h-1v-0.1h-1v0.6h-1v-0.1h-1h-1h-1v2.1h-1h-1v1.4h-1v-2.5h-1h-1h-1v-1.3h-1h-1h-1v0.7h-1v0.1h-1v-0.6h-1v-0.1h-1v0.1h-1v-0.2h-1h-1v0.1h-1h-1h-1v-0.3h-1h-1v-0.1h-1v1.1h-1h-1v-0.1h-1v0.7h-1v-0.1h-1v0.3h-1h-1h-1v1.3h-1h-1h-1v0.1h-1v0.1h-1v-0.1h-1v0.1h-1v0.1h-1v-0.4h-1v0.1h-1v0.2h-1v0.3h-1v0.1h-1h-1h-1v-1.3h-1v-0.1h-1v-0.1h-1v-0.1h-1v1.4h-1v2.4h-1v-0.1h-1h-1v-3.8h-1v0.4h-1h-1v-1.6h-1v0.4h-1v-0.1h-1h-1h-1v-0.2h-1v1.7h-1v-0.5h-1v0.1h-1v0.1h-1v0.1h-1v0.1h-1h-1h-1v-2.4h-1v0.1h-1h-1h-1v-0.1h-1v1.5h-1v-0.1h-1v0.2h-1v-0.1h-1v-0.1h-1h-1v-0.1h-1v-0.1h-1h-1v0.1h-1h-1v0.1h-1v-1.7h-1v0.5h-1v0.2h-1v0.1h-1v0.2h-1v0.1h-1v-0.4h-1v0.1h-1v-0.1h-1v2.3h-1v-2.6h-1v-0.3h-1v-0.3h-1v0.1h-1v-0.3h-1v-0.2h-1v-0.3h-1v-0.1h-1v-0.2h-1v3.4h-1v-0.1h-1v1.4h-1v0.1h-1v0.1h-1v-3.5h-1v0.1h-1v2.1h-1v0.2h-1v0.1h-1v0.2h-1v0.1h-1v0.1h-1h-1v0.1h-1v0.1h-1v-1h-1h-1h-1v1.8h-1v-0.1h-1v-0.1h-1v-1.4h-1v-0.2h-1h-1v-0.1h-1v-0.2h-1v-0.3h-1v-1h-1h-1v-0.1h-1v0.5h-1v0.8h-1v0.1h-1v1.6h-1v0.2h-1v0.1h-1v1.4h-1v0.3h-1h-1h-1h-1v-0.1h-1v-3.5h-1h-1v1.8h-1h-1h-1h-1v-1.6h-1h-1h-1v0.1h-1v0.1h-1v-0.9h-1v-0.1h-1v-0.1h-1v2h-1v-0.2h-1v0.2h-1v-0.6h-1v-0.2h-1v-0.3h-1v-0.2h-1v-0.2h-1v0.7h-1v-1.5h-1v-0.1h-1v0.9h-1v-0.1h-1h-1v-0.9h-1v0.1h-1v-0.6h-1v0.2h-1v0.2h-1v0.6h-1v0.2h-1v0.1h-1v0.2h-1v0.2h-1v1.2h-1v-0.5h-1v0.1h-1v0.3h-1h-1v0.1h-1v-0.9h-1v0.4h-1h-1v-0.2h-1v0.1h-1v0.5h-1h-1h-1h-1v-0.1h-1v1.2h-1v0.2h-1v-0.1h-1v-0.2h-1v-0.2h-1v-0.1h-1h-1v-0.1h-1v-1.5h-1h-1v-2.6h-1v0.1h-1v0.1h-1v0.2h-1v2.1h-1v0.1h-1v-2h-1h-1v-0.1h-1v-0.1h-1v-0.1h-1v4.5h-1v-0.1h-1v-0.1h-1v-0.4h-1v-2.7h-1v-0.1h-1h-1h-1h-1h-1h-1h-1v1.3h-1v0.6h-1h-1v-0.1h-1h-1v0.1h-1h-1v-0.1h-1v-1.2h-1h-1h-1v-0.1h-1v0.1h-1h-1v1.2h-1v0.2h-1v0.1h-1v0.2h-1v0.1h-1v-0.2h-1v-0.3h-1v0.2h-1v0.1h-1v0.5h-1v0.2h-1v-0.1h-1v0.6h-1v-0.1h-1v-0.1h-1v-0.2h-1v-0.2h-1v0.1h-1v-0.1h-1v-0.2h-1v-1.5h-1v-0.1h-1v-0.1h-1v-0.6h-1v-0.1h-1v-0.1h-1v-0.1h-1v-2.4h-1v-0.1h-1h-1h-1v0.4h-1v1.4h-1h-1v0.2h-1v0.1h-1v0.3h-1v0.2h-1v-0.7h-1v0.1h-1v2h-1v1.3h-1h-1h-1v0.1h-1v-2h-1v-0.1h-1h-1v-0.1h-1v1.9h-1v-0.1h-1h-1v-0.1h-1v-0.1h-1v-1.5h-1h-1h-1v-0.1h-1v-0.1h-1v-0.1h-1v-0.1h-1v-0.7h-1h-1v0.1h-1v0.3h-1v0.1h-1v0.1h-1v1.3h-1v0.5h-1v0.1h-1h-1h-1v-0.3h-1v-0.1h-1h-1v-3.5h-1v-0.3h-1h-1v-0.1h-1h-1v0.1h-1h-1h-1v0.1h-1v0.4h-1v0.1h-1v3.5h-1v-0.2h-1h-1v0.1h-1v-0.1h-1h-1v-0.3h-1h-1h-1v-0.9h-1v-0.2h-1h-1v-0.1h-1h-1v1h-1v-0.1h-1v0.4h-1h-1v-0.1h-1h-1h-1v0.1h-1h-1h-1h-1v-0.3h-1h-1v0.7h-1h-1v-1.9h-1h-1v0.1h-1v1.5h-1v-0.8h-1v0.1h-1h-1v0.2h-1v0.1h-1h-1v0.1h-1v0.1h-1v2h-1v-1.5h-1v0.1h-1h-1v0.6h-1h-1h-1v-0.1h-1v-0.1h-1v-0.1h-1v-2.2h-1v-0.2h-1v-0.2h-1v-0.2h-1v-0.1h-1v0.6h-1v-0.1h-1v-0.1h-1v0.1h-1h-1v-0.5h-1v0.1h-1v0.4h-1v0.2h-1v0.1h-1v0.2h-1v2h-1v0.2h-1v0.1h-1h-1v0.3h-1h-1v-0.3h-1v-0.7h-1h-1h-1v-0.1h-1v0.1h-1h-1h-1h-1v0.8h-1v-0.1h-1v-1h-1h-1v0.6h-1v-0.6h-1h-1h-1v0.8h-1h-1h-1v-0.7h-1v0.6h-1h-1h-1v-0.1h-1v-0.7h-1v-0.1h-1v-1.7h-1h-1v-0.2h-1v-0.1h-1v-0.1h-1v1.2h-1v-0.1h-1v2.8h-1h-1v-0.1h-1h-1h-1h-1v-1.5h-1h-1v0.1h-1h-1v-1.1h-1v1.1h-1h-1v-0.1h-1v-0.1h-1v-0.1h-1v-2.8h-1v-0.1h-1v0.1h-1h-1h-1v0.1h-1h-1v0.9h-1v1.7h-1v0.1h-1h-1h-1v0.2h-1h-1v-0.6h-1v0.2h-1v0.1h-1v0.2h-1v0.2h-1v-0.3h-1v-0.2h-1v0.5h-1v0.2h-1v0.1h-1v-0.7h-1v0.1h-1h-1v-0.7h-1v-0.1h-1v-0.1h-1v1.5h-1v-0.2h-1v-0.1h-1v-0.2h-1v-1.9h-1h-1h-1v-0.1h-1h-1v-0.1h-1h-1v-0.1h-1v1.5h-1v-0.1h-1v-0.1h-1v2.8h-1v-1.2h-1v-0.1h-1v-0.1h-1v1h-1v-1.9h-1h-1h-1v2h-1v0.1h-1v0.1h-1v0.1h-1v-2.9h-1h-1v-0.3h-1v0.6h-1v0.1h-1v-1.1h-1h-1v0.1h-1h-1v0.1h-1h-1v0.9h-1v0.1h-1v0.1h-1v0.2h-1v0.2h-1v0.1h-1h-1v-3.3h-1v-0.1h-1v-0.1h-1v-0.2h-1v-0.3h-1v-0.2h-1v2.3h-1v-0.3h-1v-0.4h-1v-0.2h-1v-1.4h-1v-0.2h-1v0.5h-1h-1v0.1h-1v0.1h-1v-0.8h-1v0.3h-1v3.1h-1v0.2h-1v0.1h-1v0.1h-1v0.1h-1v0.1h-1v0.1h-1v0.1h-1v1.3h-1v0.8h-1h-1v0.1h-1h-1v-2h-1v0.9h-1v-1h-1v-0.7h-1h-1v0.1h-1v1h-1h-1v-0.6h-1v0.5h-1h-1v-0.2h-1h-1h-1h-1v0.3h-1v-0.1h-1v0.1h-1h-1v0.1h-1v1.1h-1v2.8h-1v0.1h-1v0.1h-1h-1h-1v-3.1h-1h-1v-1h-1v-0.1h-1v-0.1h-1v-0.2h-1v0.5h-1v-1.3h-1v-0.2h-1v1.1h-1v-0.1h-1v-0.2h-1v-1.4h-1v1.4h-1v-0.1h-1h-1v-0.3h-1h-1v-2h-1h-1v0.1h-1h-1v0.8h-1v0.8h-1v-0.1h-1h-1v-0.1h-1h-1h-1v-0.3h-1v-0.4h-1h-1v-0.1h-1v0.4h-1h-1v0.1h-1v-0.9h-1h-1h-1v0.7h-1v0.1h-1v0.1h-1v0.9h-1h-1v0.1h-1v0.1h-1h-1v-0.5h-1h-1v0.1h-1v0.7h-1h-1v1.3h-1v-0.8h-1h-1v-0.1h-1v-0.1h-1v-0.1h-1h-1v-0.1h-1h-1v1.8h-1v-2h-1v-1.7h-1h-1h-1v0.6h-1v0.2h-1v0.1h-1v0.1h-1v1.3h-1v0.1h-1h-1v0.1h-1v-1.2h-1v0.1h-1h-1h-1h-1v0.1h-1v0.1h-1v-0.1h-1v-2.6h-1v0.1h-1h-1v3.2h-1v-0.2h-1v1.2h-1v-1.7h-1v0.1h-1v-0.5h-1v0.1h-1h-1h-1h-1v-0.2h-1v-0.1h-1v2.9h-1h-1h-1v0.4h-1h-1v0.1h-1v0.1h-1v-2.6h-1v0.1h-1v0.1h-1v0.2h-1h-1v0.1h-1v0.1h-1h-1v-0.4h-1v-0.1h-1v-0.1h-1v0.2h-1v-0.1h-1v-0.1h-1v-0.2h-1v0.3h-1v-0.2h-1v-0.1h-1v-0.1h-1v0.5h-1h-1v-1.2h-1v-0.1h-1h-1h-1h-1h-1v0.9h-1v0.6h-1v0.1h-1h-1v-1h-1v-0.1h-1v0.1h-1h-1v0.6h-1v0.1h-1v0.1h-1v0.1h-1h-1v2.5h-1h-1v-0.3h-1v0.1h-1v-2.3h-1v0.1h-1v-1.3h-1h-1v-0.2h-1v-0.2h-1v-0.2h-1v-0.2h-1v-1.4h-1v-0.2h-1v-0.7h-1v-0.1h-1v-1.2h-1v-1.2h-1v-1.2h-1v-1.4h-1v-1.2h-1v1.2h-1v-0.2h-1h-1v4.3h-1v-3.5h-1v0.1h-1v-3.5h-1v3h-1v-1.6h-1v-2h-1v-2h-1v-1.9h-1v-1.9h-1v-2.6h-1v1.5h-1v1.4h-1v1.5h-1v1.4h-1v5.1h-1v-1.4h-1v-1.5h-1v-2h-1v-1.7h-1v0.1h-1v1.3h-1v2.3h-1v1.3h-1v1.6h-1v1.1h-1v-3.5h-1h-1v-2.3h-1v-2.2h-1v0.9h-1v-2.1h-1v-1.5h-1v1.3h-1v2.5h-1v1.3h-1v0.4h-1v-2.2h-1v-2.4h-1v-2.5h-1v-1.8h-1v0.5h-1v-1h-1v0.3h-1v0.1h-1v0.6h-1v0.6h-1v1.9h-1v0.7h-1v4.8h-1v3.7h-1v2.7h-1v-5.1h-1v-5h-1v-4.9h-1v-5.1h-1h-1v5h-1v4.8h-1v5h-1v5h-1v5.4h-1v1.5h-1v1.6h-1v1.5h-1v1.6h-1v-0.4h-1v-7.8h-1v-7.7h-1v-6.9h-1v0.6h-1v0.7h-1v0.7h-1v2.4h-1v1.9h-1v1h-1v1.9h-1v1.9h-1v4.1h-1v6.2h-1v5.4h-1v4.4h-1v-0.5h-1v-1.6h-1v-2.8h-1v-1.9h-1v-2h-1v-1.6h-1v-2.1h-1v-1.6h-1v1.4h-1v1.9h-1v1.9h-1v2.8h-1v3.1h-1v2h-1v2.4h-1v0.7h-1v2.4h-1v2.5h-1v2.2h-1v1.9h-1v2.2h-1v2h-1v2.5h-1v1.9h-1v1.7h-1v1.3h-1v0.3h-1v1.3h-1v1.4h-1v1.5h-1v1.2h-1v0.4h-1v0.4h-1v0.3h-1v0.5h-1v3.5h-1v5.6h-1v5.4h-1Z" stroke="none"/>
<path d="M170.2 702.5l2-11 2-4 2-0.9 2-1.7 2-2.7 2-1.8 2-3.1 2-4.7 2-4.1 2-4.3 2-5 2-5 2-4.2 2-4.9 2-3.4 2 3.9 2 4.2 2 3.6 2 3.3 2-10.2 2-10 2-3.9 2-4 2-2.3 2-1.3 2 13.3 2 9.5 2-3.3 2-3.2 2-10.5 2-10.3 2-4.9 2 10.6 2 10.4 2-7.6 2-5.8 2-1.2 2-0.9 2 0.8 2 1.2 2 4.9 2 1.2 2-2.8 2-0.7 2 1.2 2 4.3 2 3.5 2-2.5 2-2.8 2-1.5 2 3.4 2 3.1 2-6.6 2-3 2-1.9 2 4 2 4.3 2 1.4 2 3.4 2-4.4 2 0.2 2 2.7 2 2.7 2 2.4 2 2.2 2 1.7 2 0.4 2 0.4 2-0.2 2 2.2 2-0.1 2-1.4 2-0.2 2-0.2 2-0.1 2-0.1 2 0.9 2-0.6 2 0 2 0 2 0.1 2 0.1 2-0.4 2 0.3 2 0.3 2 0.3 2-0.3 2 0.1 2-0.1 2-0.1 2-0.3 2 2.7 2-0.1 2 0 2-0.1 2-2.8 2 0.1 2 0 2-0.1 2 1.6 2-0.2 2-3.2 2 2.5 2 0.1 2 0 2 0 2-0.1 2-0.1 2-1.4 2-0.2 2-0.1 2 0 2 2 2 0.1 2 0.1 2 0.2 2 0 2 0 2-0.6 2-0.1 2-0.1 2-0.2 2-0.9 2-0.2 2-0.1 2 0 2-0.1 2 0.2 2 0.4 2 0.2 2 0.1 2 0.1 2-1.3 2 0 2-0.1 2 0.4 2 0.1 2 0.2 2 0.3 2 0.3 2 1.5 2 0.3 2 1 2 0.1 2 0 2-0.1 2-1.1 2-0.2 2 0.1 2-0.1 2 0 2-0.1 2-0.5 2-0.1 2-0.1 2 0.9 2-0.3 2-0.1 2-0.1 2-0.1 2-0.2 2-0.2 2-0.4 2-3.3 2-0.2 2 0 2 0.3 2 1.5 2 0.5 2-1.5 2 0.5 2 0.1 2 2.5 2-0.3 2-0.3 2-0.1 2-0.1 2-0.1 2 0 2-0.8 2-0.1 2 2.8 2-0.1 2-2.1 2 1.9 2 0.1 2 0.1 2-2.6 2 0.2 2 0 2 0.2 2 0.1 2 0.3 2 0.3 2 0.4 2 0.2 2 0.1 2 0.6 2-0.3 2 0 2-0.5 2-0.3 2-0.2 2-0.2 2-0.1 2-1.8 2-0.1 2 0 2 0.1 2 2.9 2 0.2 2 0.1 2-1.1 2-0.1 2 1.4 2 0 2 0.1 2-2.8 2 0.3 2 0.2 2 0.2 2 0.1 2 0.9 2 0 2 0.1 2 0 2 0.1 2 0.5 2 0 2 0 2-0.2 2 0 2 0 2 0 2 0 2-0.4 2-0.1 2-0.2 2-0.3 2-0.9 2-0.2 2 0 2 0.1 2 0.3 2 0.4 2 1.6 2 0.2 2 0.1 2 0 2-0.2 2-2 2-0.3 2-0.1 2 0.5 2 0.7 2-0.2 2 0.1 2 0 2 0.3 2 0 2 0.1 2 0 2 0 2 0.1 2-1 2 0.1 2 0.9 2 0.1 2 0.1 2 0 2-0.1 2-3.6 2-0.2 2-0.1 2-0.1 2 0.1 2 3.6 2 0.1 2 0 2-0.1 2-1.2 2-0.1 2-0.4 2-0.1 2 0.2 2 0.1 2 0.1 2 0.1 2 0.1 2 0.1 2 0.1 2 1.8 2 0 2-0.1 2-2.2 2-0.4 2-0.3 2-0.3 2-0.5 2 0 2 2.5 2 0.2 2 0.6 2 0.3 2 0.3 2 0.4 2 0.4 2 0.2 2-0.6 2-0.2 2-0.3 2-0.5 2-0.2 2-0.3 2-0.1 2 0 2 0.1 2 0 2-0.1 2 0.2 2-0.6 2 0 2 0 2 0 2 0.1 2 3.1 2 0.2 2-4.4 2 0.1 2-0.1 2-0.2 2-0.2 2 2.5 2 0 2 0 2 0.3 2 0.4 2-0.2 2 0.1 2-0.1 2-0.5 2 0 2-0.5 2-0.1 2-0.2 2 0.3 2-0.4 2-0.3 2-0.8 2-0.3 2-0.1 2 0.1 2 0.1 2 1.7 2 0.5 2 0.5 2 0.4 2-1.8 2 0.1 2 0 2-0.1 2 0.4 2 0 2 0 2 1.3 2 0 2 0.1 2-0.5 2-0.2 2-1.8 2-0.2 2 0 2 0.1 2 0.2 2 0.3 2 1.4 2 0.1 2 0 2 0.9 2-0.2 2-0.3 2-0.3 2-2.2 2-0.3 2-0.2 2-1.4 2 0.2 2 0.4 2 0.6 2 0.6 2 0.5 2-0.5 2-0.1 2-0.2 2-0.3 2 1.6 2-0.1 2 0 2 0.1 2 0.1 2 0.1 2-1 2 0.1 2-0.1 2 2.3 2-0.2 2-0.2 2-0.1 2-1.7 2-0.1 2 0.2 2 0.1 2 3.9 2 0.2 2-2.4 2 0.2 2 0.1 2 0 2-0.2 2-0.3 2 0.4 2-0.3 2-0.1 2-0.1 2-1.7 2 0.1 2-0.9 2 0.1 2 0 2 0.4 2 0 2-0.1 2-0.1 2 0.5 2-0.2 2 0 2-0.1 2 2.6 2 0 2-2.4 2 0 2 0.1 2 0 2 0.1 2 0.9 2-0.3 2-0.3 2-0.1 2-0.1 2 0.9 2 0.2 2-0.5 2 0.3 2-0.6 2 0.2 2 0.1 2 0.1 2 0 2 0.7 2 0 2-0.2 2-0.1 2-0.2 2-0.1 2-0.6 2 0 2 0.1 2 0.1 2 0.1 2 0 2-0.1 2-0.5 2-0.2 2-0.2 2 0 2-0.1 2 0 2-0.5 2 0.2 2-0.2 2 0.5 2 2.7 2 0.3 2 2.1 2 0 2-0.3 2-2.2 2-2.8 2-0.7 2-0.4 2-0.9 2-1.5 2-4.1 2-0.5 2 0.9 2 0.7 2 1.1 2 3.1 2 2.7 2-6 2-6.1 2-3.9 2-2.1 2-3.1 2 2.8 2 3.5 2 4.5 2 4.5 2 0.3 2-2.9 2-1.2 2-0.6 2-0.7 2-0.4 2 0.1 2 4.5 2 4.2 2-3.6 2-3.3 2 4.6 2 5.3 2 3.1 2-1.7 2-2.4 2 1.4 2 2.8 2-1.7 2-2.3 2-1.1 2 2.4 2 2.6 2 4.4 2 1.8 2-5.8 2-3.2 2 0 2 0.9 2 2.3 2 8.6 2 7.9 2 4.8 2 4.9 2 4.9 2 5.3 2 9.8 1 9.6" stroke-width="4.4" fill="none" stroke-linejoin="round"/>
<path d="M713.4 640.8L715.0 605.3L717.4 605.3L719.0 640.8Z" stroke-width="2.5" stroke-linejoin="round"/>
<path d="M748.2 643.2L749.9 635.0L751.5 635.0L753.2 643.2Z" stroke-width="2.5" stroke-linejoin="round"/>
</g>
<text transform="translate(134.5 714.7) scale(1 1.035)" text-anchor="end">0</text>
<text transform="translate(134.5 506.0) scale(1 1.035)" text-anchor="end">5</text>
<text transform="translate(156.4 765.0) scale(1 1.035)" text-anchor="middle">0</text>
<text transform="translate(353.5 765.0) scale(1 1.035)" text-anchor="middle">100</text>
<text transform="translate(550.6 765.0) scale(1 1.035)" text-anchor="middle">200</text>
<text transform="translate(747.7 765.0) scale(1 1.035)" text-anchor="middle">300</text>
<text transform="translate(944.9 765.0) scale(1 1.035)" text-anchor="middle">400</text>
<text transform="translate(1142.0 765.0) scale(1 1.035)" text-anchor="middle">500</text>
<text transform="translate(1339.1 765.0) scale(1 1.035)" text-anchor="middle">600</text>
<text transform="translate(488.0 470.6) scale(1 1.015)">Frequency: 6.175 MHz</text>
<text transform="translate(155.4 470.6) scale(1 1.03)">(×10<tspan font-size="33" dy="-18">6</tspan><tspan dy="18">)</tspan></text>
<text transform="translate(1364.4 470.1) scale(1 1.0)">(b)</text>
<text transform="translate(86.6 599.9) rotate(-90) scale(1 1.015)" text-anchor="middle">Amplititude</text>
<rect x="805" y="504.7" width="519.5" height="69.3" fill="#fff"/>
<path d="M752.3 529.9 H812.8" stroke="#df252f" stroke-width="3.8"/>
<path d="M752.3 559.4 H812.8" stroke="#61c132" stroke-width="4.6"/>
<text transform="translate(820.5 537.7) scale(1 1.015)">Bernoulli map</text>
<text transform="translate(818.0 583.8) scale(1 1.015)">40-bit Barker-like code</text>
<path d="M353.5 1110.8 V1098.3 M353.5 901.5 V914.0 M550.6 1110.8 V1098.3 M550.6 901.5 V914.0 M747.7 1110.8 V1098.3 M747.7 901.5 V914.0 M944.9 1110.8 V1098.3 M944.9 901.5 V914.0 M1142.0 1110.8 V1098.3 M1142.0 901.5 V914.0 M156.4 1110.8 H168.9 M1339.6 1110.8 H1327.1 M156.4 929.0 H168.9 M1339.6 929.0 H1327.1" stroke="#262626" stroke-width="4.5" fill="none"/>
<rect x="156.4" y="901.5" width="1183.2" height="209.3" stroke="#262626" stroke-width="4" fill="none"/>
<g clip-path="url(#c2)" fill="#df252f" stroke="#df252f">
<path d="M170.5 1108.6h1v-2.8h1v-2.9h1v-3h1v-1.1h1v-1.1h1v-1.2h1v-1.2h1v-1.1h1v-1.2h1v-0.8h1v-0.2h1v-1.1h1v-0.6h1v-0.6h1v-0.6h1v-0.9h1v-0.5h1v-0.5h1v-0.1h1v-0.7h1v-0.1h1v-0.4h1v-0.4h1v-0.4h1v-0.5h1v0.5h1v-0.4h1v-0.5h1v-0.4h1v-0.5h1v-0.8h1v-0.5h1v-0.9h1v-0.5h1v-1.2h1v-0.3h1v-0.5h1v-0.6h1v-0.5h1v-0.5h1v-0.5h1v-0.4h1v-0.4h1v-0.5h1v-1.1h1v-0.4h1v-0.3h1v-0.4h1v-0.3h1v-0.3h1v-0.3h1v0.4h1v-0.1h1v-0.3h1v-0.4h1v-0.9h1v-0.4h1v-0.3h1v-0.4h1v-1.4h1v-0.4h1v-0.3h1v-0.4h1v-0.8h1v-0.3h1v1.1h1v-0.2h1v0.2h1v-0.3h1v-0.3h1v-0.3h1v-0.4h1v-1.8h1v-0.3h1v-0.3h1v0.1h1v-0.2h1v-0.2h1v-0.6h1v1.8h1v-0.3h1v-1.4h1v-0.3h1v-0.2h1v-0.1h1v-0.1h1v1.1h1v-0.1h1v-1.5h1v-0.5h1h1v-0.1h1v-0.1h1v-0.1h1v-0.1h1v-0.2h1h1v-0.3h1v-0.5h1v-0.3h1v1h1v-0.3h1v-0.3h1v-0.7h1v-0.2h1v-0.8h1v-0.2h1v-0.2h1v-0.2h1v-0.4h1v-0.2h1v0.3h1v-0.2h1v-1.6h1v-0.2h1v-0.3h1v1.5h1v-0.2h1v0.4h1v-0.7h1v-0.1h1v-0.5h1v-0.1h1v0.2h1v0.2h1v0.2h1v-0.1h1v0.2h1v1.6h1v0.3h1v0.3h1v0.1h1v0.5h1v-0.2h1v0.1h1h1h1v-1.7h1h1v-0.2h1v-0.1h1v1.7h1v-0.1h1v-0.1h1v-0.1h1v0.1h1v-1.9h1v0.5h1v0.2h1v0.2h1v1.2h1v0.3h1v0.3h1v0.3h1v0.3h1h1v0.2h1v0.2h1v-0.6h1h1h1h1v-0.2h1v0.2h1h1v-0.1h1v0.1h1h1v0.1h1h1v1.5h1v-0.5h1v-0.2h1v-0.2h1v-0.3h1v0.1h1v-0.3h1v-1.7h1v-0.3h1v-0.4h1v0.4h1v-0.3h1v-1h1v-0.3h1v-0.2h1v-0.3h1v-0.3h1v-1.3h1v-0.2h1h1v-0.1h1v-0.1h1h1v1.7h1h1v2.4h1v0.1h1h1v0.2h1v0.1h1v0.1h1v1.2h1v0.1h1v0.2h1h1v-1.8h1h1v-0.9h1v-0.1h1v-0.1h1v-0.2h1v-0.2h1v-0.1h1v-1.6h1v1.1h1v-0.2h1v-0.1h1v-0.1h1h1v1.6h1h1v0.1h1h1v-0.1h1h1v-2.4h1h1h1v1.7h1v-0.1h1v-0.1h1h1v-0.1h1v-2.8h1v-0.5h1v-0.1h1v-0.2h1v-0.2h1v0.2h1v-0.1h1h1v-0.1h1v5.3h1v0.2h1v0.3h1v0.2h1v0.7h1v0.4h1v-3.8h1v0.4h1v0.3h1v0.3h1v0.2h1v0.7h1v0.3h1v-0.7h1v-0.2h1v0.8h1v-0.2h1v-0.3h1v-0.3h1v0.1h1v-0.3h1v-0.3h1v-0.4h1v-0.2h1v-0.2h1v-1h1v-0.1h1v-1.9h1v0.8h1v0.1h1v0.4h1h1v-0.8h1v-0.3h1h1h1v-0.4h1h1h1v0.1h1h1v0.1h1v0.3h1v0.1h1v0.1h1v0.3h1v0.1h1v0.1h1v0.2h1v0.7h1h1v0.1h1v-0.9h1v0.4h1v-0.1h1v-0.1h1v-0.1h1v-1.9h1v-0.8h1h1h1v0.1h1v1.4h1v0.3h1v4.1h1v0.1h1v0.2h1v0.1h1h1v0.1h1v-1.5h1v-0.1h1v0.9h1v-0.2h1v-0.2h1v-0.2h1v-1.8h1v-0.2h1v-0.6h1v-0.3h1v-0.2h1v-0.2h1v-0.6h1v-0.2h1v2.3h1v0.1h1v1.6h1v0.1h1v0.2h1v0.3h1v-2.4h1v0.3h1v0.4h1v0.3h1v1.6h1v0.2h1v-1.1h1v0.1h1v1h1h1v-0.1h1v-0.2h1v-0.1h1v-0.2h1v-2.5h1v-0.1h1v-0.2h1v-0.1h1v-1.3h1v-0.1h1v-0.1h1h1v-0.1h1v0.2h1v-0.1h1h1v2.6h1v-0.8h1v-0.1h1v-0.1h1v-0.1h1v-0.1h1v-0.1h1h1v-1h1h1h1v0.3h1v0.1h1v0.1h1v0.2h1v0.1h1v0.2h1v-1.1h1v0.1h1h1v-0.4h1v-0.1h1h1v2.1h1v-0.1h1v-0.1h1v-1h1v-0.1h1h1v-1.4h1v0.1h1v2.3h1v0.9h1v0.2h1v0.2h1v0.2h1v0.3h1v0.2h1v1.6h1v0.1h1h1v0.7h1v-0.8h1h1h1v-1.7h1v-0.1h1v-0.1h1v-0.4h1v-2.8h1h1v0.1h1v-0.1h1v0.1h1v1.4h1v-0.1h1h1v-0.1h1v1.4h1v-0.1h1v-0.2h1v-0.1h1v0.3h1v-0.1h1h1h1h1v0.2h1v0.2h1v0.2h1v0.3h1v0.2h1v-0.3h1v0.1h1v-0.2h1h1v0.1h1h1h1v0.4h1v-0.1h1v-0.1h1v-0.2h1v-0.9h1h1v-0.2h1v-0.2h1v-0.2h1h1v0.9h1v-0.9h1v0.1h1v0.1h1v0.2h1v-0.1h1v0.2h1v0.2h1v-1.6h1v0.2h1v0.4h1v0.9h1v-0.1h1v-0.1h1v-0.2h1v-0.3h1v-0.3h1v1.4h1v-0.3h1v0.3h1v-0.3h1v-0.2h1v-1h1v-0.1h1v-0.2h1v-0.4h1h1v0.1h1h1h1v0.1h1v-1.8h1v0.1h1v0.5h1v0.2h1v0.3h1v0.2h1v2h1v0.1h1v0.4h1v0.1h1v0.2h1v-2.2h1h1h1v1.4h1v-0.1h1v0.8h1v-0.2h1v-0.1h1h1v-0.4h1v-0.1h1h1v0.5h1v1.1h1v-0.7h1v0.1h1v0.1h1h1v-1.4h1v0.1h1h1v-0.1h1v-0.2h1v1.2h1v-0.1h1v-1.3h1h1v-0.1h1h1v0.1h1v2.9h1v0.1h1h1h1v-2h1v-0.1h1v-0.1h1v-0.1h1v-0.2h1v-0.1h1v-0.4h1v-0.4h1v-0.2h1v-0.1h1v1.2h1v-0.1h1h1v0.7h1h1v0.3h1v0.1h1h1v0.1h1h1h1v0.1h1v-0.1h1v-0.6h1v-1.3h1v0.1h1h1v0.1h1v0.1h1v0.2h1v0.2h1v-1.7h1v0.2h1v0.1h1v0.2h1h1h1v0.1h1v0.4h1v-0.1h1v-0.5h1h1h1v0.1h1v0.1h1v0.1h1v0.2h1v0.2h1v0.2h1v-0.2h1v-1.8h1v0.1h1h1v1.1h1h1v3.4h1v-0.2h1v-0.1h1v-0.2h1v-1.9h1v-0.2h1v-0.3h1v-0.2h1v-0.1h1v0.4h1v-0.1h1v-0.4h1h1v-0.1h1v0.1h1v-0.1h1h1v1.8h1h1v-0.1h1h1v-0.3h1h1v-2.3h1v1.4h1v0.1h1v0.1h1v0.2h1v0.2h1v0.1h1v-0.7h1v-0.1h1h1h1v-0.2h1v-0.2h1v1h1v-0.2h1v-1.5h1v-0.1h1v1.4h1h1h1v0.5h1v0.2h1v0.1h1v-1.8h1v0.2h1v1.5h1v0.3h1v0.5h1v-1.4h1v0.1h1h1h1v0.1h1v0.1h1v-0.2h1h1v1.9h1v-0.1h1v-0.8h1v-0.1h1v-0.1h1v-0.1h1v-0.4h1v1.5h1v-0.1h1h1v-0.1h1v-0.4h1h1v0.1h1v0.1h1v0.2h1v-1.6h1v0.1h1v0.1h1v0.2h1v-0.1h1v1.8h1v0.1h1v0.6h1v-0.4h1v-0.1h1v-0.5h1v-1.4h1v-0.1h1v-0.1h1v-3.2h1h1v1.4h1h1h1v2.3h1h1v0.1h1h1v-0.1h1v-1.2h1h1v-0.1h1v0.1h1v-0.1h1v-1.3h1h1v0.3h1v-0.1h1v0.1h1h1v0.1h1v0.1h1v0.1h1v1.4h1v1.2h1v-0.2h1v-0.1h1h1v-0.1h1h1v-0.1h1v0.8h1v1.1h1v-1.9h1v-0.1h1v-0.1h1v-0.2h1h1h1h1h1v0.6h1h1v0.1h1v-1.1h1v0.1h1v0.1h1v0.9h1v0.1h1v0.2h1v0.1h1v-0.2h1v0.1h1v0.1h1v-3.2h1v0.1h1h1v2.5h1h1v0.3h1h1v-0.1h1v-0.1h1v0.8h1v-4.1h1v-0.1h1v-0.1h1h1h1v2.8h1v0.1h1v0.1h1v0.7h1v0.1h1v0.1h1h1h1v0.2h1v-0.1h1h1v0.3h1v-3.7h1h1h1v-1.3h1v-0.1h1v-0.2h1v0.1h1v4.5h1v0.1h1v-0.8h1v0.1h1v0.1h1v0.1h1h1v0.1h1h1v0.5h1v1.1h1h1v-0.1h1v0.4h1h1v-0.1h1v-0.1h1v-0.7h1v-0.1h1v-0.1h1h1v-0.6h1v-0.1h1h1v-0.1h1v-0.8h1h1v0.3h1h1v0.1h1v1h1v0.1h1v-1h1v0.1h1h1v0.7h1v0.1h1h1h1v-0.1h1v-0.1h1v1.1h1v-1.5h1v-0.2h1v-0.2h1v-0.1h1v-0.1h1v-0.1h1v-0.1h1v-0.1h1v-1.3h1v-1.5h1v0.9h1v0.1h1v0.2h1v0.2h1v0.2h1v0.2h1v0.3h1v1.1h1v0.6h1v-0.4h1v0.2h1v0.2h1v0.2h1v-0.2h1v0.7h1h1v-0.1h1v-0.2h1v-0.1h1v-0.2h1v-3.3h1v2.6h1v-0.2h1v-0.2h1v-0.1h1v-0.7h1v-0.1h1v-0.5h1h1h1v0.1h1v0.1h1v0.8h1v0.1h1v0.1h1v0.9h1v0.1h1h1v0.1h1h1v0.3h1v-0.1h1v0.1h1v1.2h1v-0.2h1h1v-3.4h1v0.7h1h1v1.5h1v0.1h1h1v0.7h1v0.1h1h1v-1.2h1v0.1h1h1v1.7h1v-1.4h1v0.1h1v0.1h1v0.2h1v0.1h1v-1.4h1v0.2h1v0.1h1v0.2h1v2.2h1v1.7h1v0.4h1v-4.3h1h1v-0.1h1v0.3h1v-0.4h1v-0.1h1v-0.2h1v-0.1h1v-0.2h1v-2.6h1v-0.2h1v5.5h1v-0.1h1h1h1v-0.4h1h1h1h1v-1.1h1v-0.9h1v-0.5h1h1v-0.2h1v1.7h1v0.1h1v-2.3h1h1h1v0.1h1v0.2h1v0.8h1v0.8h1v0.1h1v0.1h1v0.7h1h1h1h1v-0.1h1v-0.2h1v-0.1h1v-0.1h1v-3.7h1h1v-0.1h1v-0.1h1v-0.1h1v2.8h1v-0.1h1v0.2h1v0.4h1v-0.1h1h1v-0.5h1h1h1v0.6h1v0.1h1v0.1h1v0.4h1v0.1h1v0.2h1v0.1h1v-0.5h1v1h1v1.1h1h1v-2.3h1v0.8h1h1h1v0.6h1v0.1h1v0.2h1v0.2h1v-0.7h1v-0.9h1v0.3h1v-1.8h1v2.5h1v0.1h1v-1h1h1v0.9h1v-0.1h1v-0.2h1v-0.2h1v2.8h1v-0.3h1v-0.9h1v-0.1h1h1h1v0.6h1v0.1h1v0.1h1v0.1h1v0.1h1v0.2h1v-1.6h1v0.2h1v0.1h1v0.3h1v0.2h1v0.3h1v0.3h1v0.4h1v0.4h1v0.3h1v-0.4h1v0.5h1v1.7h1v0.5h1v0.4h1v0.5h1v0.3h1v0.3h1v0.3h1v-1h1v0.2h1v-1.4h1v0.2h1v-1.1h1v0.2h1v0.2h1v0.2h1v2.8h1v0.2h1v1.4h1v0.6h1v0.1h1v0.8h1v-1.8h1v0.2h1v0.2h1v-0.2h1v0.4h1v0.1h1v0.2h1v0.1h1v0.4h1v0.1h1v0.1h1v-0.4h1h1v0.1h1v0.1h1v0.1h1v0.2h1v2.3h1v0.6h1v0.6h1v1h1v0.7h1v0.8h1v0.7h1v0.7h1v0.7h1v0.6h1v0.7h1v0.5h1v-0.2h1v-0.4h1v0.6h1v0.4h1v0.5h1v0.4h1v0.5h1v0.2h1v0.5h1v0.9h1v0.5h1v0.2h1v0.6h1v0.5h1v0.5h1v0.5h1v0.5h1v0.5h1v0.4h1v0.3h1v1.3h1v0.3h1v-0.1h1v0.3h1v0.1h1v0.4h1v0.4h1v0.4h1v0.4h1v0.4h1v0.5h1v0.7h1v0.6h1v0.6h1v-0.1h1v0.6h1v0.6h1v0.6h1v0.6h1v0.6h1v0.7h1v0.9h1v1.1h1v1.1h1v1.5h1v0.8h1v0.5h1v2h1v2.9h1v4.3h1V1113.2h-1v-3.9h-1v-2.9h-1v-1.9h-1v-1.1h-1v-0.8h-1v-1.4h-1v-1h-1v-1h-1v-0.8h-1v-0.8h-1v-0.6h-1v-0.5h-1v-0.6h-1v-0.6h-1v-0.5h-1v0.1h-1h-1v-0.6h-1v-0.6h-1v-1h-1v-0.4h-1v-0.4h-1v-0.4h-1v-0.3h-1v-0.4h-1v-0.3h-1v-0.3h-1v0.1h-1v-0.3h-1v-0.6h-1v-0.3h-1v-0.3h-1v-0.4h-1v-0.4h-1v-0.5h-1v-0.5h-1v-0.4h-1v-0.5h-1v-0.2h-1v-0.5h-1v-1.4h-1v-0.4h-1v-0.2h-1v-0.4h-1v-0.4h-1v-0.4h-1v-0.5h-1v-0.5h-1v-0.3h-1v0.2h-1v-0.5h-1v-0.7h-1v-0.6h-1v-0.6h-1v-0.7h-1v-0.6h-1v-0.5h-1v-0.7h-1v-1h-1v-0.6h-1v-0.5h-1v-0.2h-1v-0.1h-1v-0.1h-1v-0.1h-1v-0.1h-1h-1v-0.8h-1v-0.1h-1v-0.1h-1v-0.8h-1v-0.1h-1v-0.1h-1v-0.1h-1v0.1h-1v-1.1h-1v-0.2h-1v-0.2h-1v1.9h-1v0.4h-1v1.1h-1v-1.9h-1v0.4h-1v-0.2h-1v-2.9h-1v-0.1h-1v-0.2h-1v-0.1h-1v-0.8h-1v-0.1h-1v1.4h-1v-0.2h-1v0.6h-1v-0.3h-1v-0.3h-1v-0.3h-1v-1.1h-1v-0.4h-1v-0.4h-1v-0.3h-1v-0.4h-1v0.4h-1v-0.3h-1v-0.4h-1v-0.3h-1v-0.4h-1v-0.2h-1v-0.2h-1v-0.2h-1v-0.2h-1v-0.2h-1h-1v-0.2h-1v-0.1h-1v-0.1h-1h-1v-0.1h-1v-0.5h-1h-1v0.1h-1v0.1h-1v1h-1v0.3h-1v-2.8h-1v0.2h-1v0.2h-1v0.1h-1v-0.1h-1h-1v1h-1v-0.1h-1v-0.7h-1v-0.3h-1v-0.2h-1v-0.1h-1v0.8h-1v-0.2h-1v-0.2h-1v-0.1h-1v0.1h-1v-0.1h-1v0.1h-1v0.5h-1v0.5h-1v-0.1h-1v0.4h-1v-1h-1v-0.1h-1v-0.1h-1v-0.1h-1v0.5h-1v-0.7h-1v-0.2h-1v-0.1h-1v0.2h-1h-1h-1v0.4h-1v-0.1h-1v0.1h-1v-1.4h-1v-0.2h-1v0.1h-1h-1v0.1h-1v0.1h-1v0.1h-1h-1v0.3h-1h-1v0.2h-1v0.1h-1v0.2h-1h-1h-1h-1v2.5h-1v-0.1h-1v-0.1h-1v-0.9h-1v-1.8h-1v-0.1h-1v-0.1h-1v-0.1h-1h-1v-0.1h-1h-1v-0.3h-1v1.1h-1v0.1h-1v0.8h-1v0.9h-1v-1.9h-1v0.1h-1h-1h-1h-1h-1h-1v0.1h-1v0.9h-1v0.1h-1v-3.2h-1v0.2h-1v0.1h-1v0.2h-1v0.1h-1v1h-1v0.4h-1h-1v0.1h-1v4.3h-1v-0.3h-1v1.3h-1v-2.2h-1v-0.1h-1v-0.1h-1v-0.2h-1v-1.1h-1v-0.2h-1v-0.1h-1v-0.2h-1v-0.1h-1v-0.9h-1v-1.7h-1h-1v-0.1h-1v3.6h-1h-1v-0.1h-1v0.5h-1h-1v-0.1h-1v-0.5h-1h-1v-0.7h-1v1.2h-1v0.1h-1v0.1h-1v-1.2h-1v-1.8h-1h-1v2.4h-1h-1h-1v-0.1h-1v-0.1h-1v-1h-1v-0.2h-1v-0.1h-1v-0.8h-1h-1v-0.1h-1h-1h-1v-1.3h-1v0.1h-1v0.8h-1v0.1h-1v0.2h-1v0.2h-1v-0.1h-1v-0.8h-1v0.2h-1v0.1h-1v0.2h-1v0.1h-1h-1v0.9h-1v0.3h-1v-0.2h-1v-0.2h-1v-0.2h-1v2.8h-1v-2.8h-1v-1.1h-1v-0.2h-1v-0.2h-1v-0.3h-1v-0.2h-1v-0.1h-1v-0.1h-1v-1.4h-1v1.4h-1h-1v0.1h-1v0.1h-1v0.1h-1v0.1h-1v0.1h-1v0.7h-1v0.2h-1v1.5h-1v-0.3h-1v0.1h-1v0.1h-1h-1v0.1h-1v-0.1h-1v0.3h-1v-0.1h-1h-1v-0.4h-1v-0.1h-1v-1h-1v-0.1h-1h-1v1.5h-1h-1v-1.6h-1h-1v0.1h-1v0.1h-1h-1h-1v0.1h-1v0.1h-1v0.7h-1v0.1h-1v0.1h-1h-1v0.6h-1v0.1h-1h-1v1.1h-1v-0.6h-1h-1v-0.1h-1v-0.1h-1v-0.2h-1h-1v-0.2h-1v-1.3h-1v-0.1h-1v-0.3h-1v-0.2h-1v0.3h-1h-1v1.3h-1h-1h-1v1.6h-1v-0.3h-1h-1h-1v1h-1h-1h-1v-0.1h-1v-0.1h-1v-2.7h-1h-1v-0.1h-1v-2.9h-1h-1h-1v0.1h-1v0.1h-1v2.6h-1v2.5h-1v0.1h-1v0.1h-1v0.1h-1v-0.3h-1h-1v-2.3h-1h-1v-0.1h-1v1.5h-1v-0.1h-1v-0.1h-1v0.2h-1v-0.1h-1v-1.9h-1v-0.1h-1v1.9h-1v-0.1h-1h-1v1h-1v-0.1h-1h-1v-2h-1h-1h-1h-1v0.1h-1v0.1h-1v0.1h-1v0.1h-1v0.7h-1v-1h-1v-0.3h-1h-1v0.1h-1h-1v0.1h-1h-1v0.3h-1v1.1h-1v-1.4h-1h-1v-0.1h-1v-0.1h-1v-0.1h-1h-1h-1v-1h-1v0.1h-1v-0.1h-1h-1v-0.1h-1v0.1h-1v0.1h-1v2.7h-1h-1h-1h-1v-0.1h-1v-1.1h-1h-1v-0.1h-1v-0.5h-1h-1v3.2h-1v0.1h-1v0.1h-1v1.6h-1v-3.2h-1v0.1h-1v-0.2h-1v-0.3h-1h-1v3.1h-1v-3.5h-1v-0.2h-1v-0.1h-1v-0.1h-1v0.4h-1v-0.6h-1v-0.1h-1v-0.1h-1h-1v0.3h-1v0.2h-1h-1h-1v0.4h-1v-1.1h-1v0.1h-1v0.1h-1v0.1h-1v0.8h-1v0.1h-1v1h-1h-1v0.1h-1h-1v-0.1h-1h-1v-0.1h-1v-0.1h-1v0.8h-1v-0.5h-1v-0.3h-1v-1.8h-1v-0.3h-1v-0.2h-1v-0.1h-1v-0.2h-1v0.6h-1h-1h-1v1h-1v0.2h-1v-1.6h-1v0.2h-1v-1h-1v0.1h-1v0.2h-1v0.1h-1h-1v0.1h-1v2.3h-1h-1v-0.3h-1v-0.1h-1v-0.1h-1v-0.1h-1v-2.1h-1v1.4h-1v0.1h-1v0.3h-1h-1h-1v0.1h-1v-1.5h-1h-1v0.1h-1h-1h-1h-1v0.4h-1v0.1h-1v0.8h-1v0.2h-1v0.2h-1v0.2h-1v0.2h-1v-1h-1v0.2h-1v0.2h-1v0.1h-1v-3.4h-1v0.1h-1v0.8h-1v-0.1h-1v-0.1h-1v1.8h-1v0.5h-1v-0.1h-1v-0.3h-1v-0.6h-1v-0.1h-1v-0.1h-1v-0.1h-1h-1h-1v0.6h-1h-1v0.9h-1h-1v-0.1h-1h-1v-1.1h-1v-0.1h-1v-0.2h-1v0.3h-1v-0.2h-1v-0.1h-1v-0.1h-1v-0.1h-1v-0.1h-1h-1v1.2h-1v0.7h-1v0.1h-1h-1v-0.1h-1h-1h-1h-1v-0.1h-1v-0.8h-1v-0.1h-1v-0.7h-1v0.1h-1v0.1h-1v-1.3h-1v0.1h-1v0.2h-1v0.3h-1h-1v0.2h-1v0.1h-1v0.1h-1v0.1h-1v0.1h-1v1.7h-1h-1v-0.1h-1h-1v0.9h-1h-1v-0.1h-1v0.1h-1h-1v0.4h-1v0.1h-1v-1.2h-1v-0.9h-1v0.1h-1h-1v-0.1h-1v1.2h-1v-0.1h-1v-0.1h-1v-0.1h-1v-0.5h-1v1.2h-1v-1.3h-1h-1v0.4h-1v0.4h-1h-1v0.1h-1v0.2h-1v-0.3h-1v0.1h-1v-1.4h-1h-1h-1v1.8h-1v-0.1h-1v-0.2h-1v-1.6h-1v-0.8h-1v0.3h-1v-0.3h-1v-0.2h-1v-0.2h-1v-0.5h-1v-0.2h-1v1.9h-1v-0.1h-1h-1v-0.1h-1h-1h-1v0.7h-1v0.2h-1v0.1h-1v-0.4h-1v0.2h-1v0.3h-1v-0.3h-1v0.2h-1h-1v0.3h-1v0.3h-1v0.2h-1v0.1h-1h-1v-0.3h-1v-0.4h-1v-0.1h-1v0.2h-1v-0.2h-1v-0.2h-1v-0.7h-1v-0.1h-1v-0.2h-1h-1v0.2h-1v-1h-1v0.1h-1v0.2h-1v0.2h-1v0.2h-1v0.5h-1v0.9h-1v0.2h-1v0.2h-1v0.1h-1v0.7h-1h-1h-1h-1v0.7h-1v-2h-1v-0.2h-1v0.4h-1v-0.2h-1v-0.3h-1v-0.2h-1v-0.2h-1v-0.2h-1v1.3h-1v-0.1h-1v0.1h-1h-1v-0.3h-1v0.2h-1v0.1h-1v0.2h-1v1.2h-1v0.2h-1h-1h-1v-4.1h-1v-0.1h-1v0.1h-1v-0.1h-1v0.1h-1v2.8h-1v1.7h-1v0.1h-1v0.1h-1v1.8h-1v-2.1h-1v0.1h-1v0.3h-1v1.4h-1v-0.1h-1v-0.1h-1v-3.7h-1v-0.2h-1v-0.3h-1v-0.1h-1v-0.3h-1v-0.2h-1v0.7h-1v-2.3h-1v-0.1h-1h-1h-1v0.1h-1v1.9h-1v0.1h-1v0.1h-1v-2.1h-1h-1v0.1h-1v-0.7h-1v-0.1h-1v-0.1h-1v1.2h-1v-0.4h-1v-0.1h-1v-0.1h-1v-0.2h-1v-0.1h-1v-0.3h-1h-1h-1v0.4h-1h-1v0.1h-1v0.1h-1v0.1h-1v0.1h-1v0.2h-1v0.7h-1v1.2h-1v0.1h-1h-1v-0.2h-1v0.1h-1h-1v0.1h-1v0.1h-1v-0.2h-1v0.1h-1v0.2h-1v0.1h-1v2.7h-1v0.2h-1v0.2h-1v0.2h-1v0.1h-1h-1v-2h-1v-0.1h-1v1.1h-1v-0.2h-1v0.7h-1v-0.3h-1v-0.4h-1v-0.3h-1v-0.9h-1v-0.3h-1v-0.2h-1v-0.1h-1v-0.9h-1h-1v-2.3h-1v0.1h-1v0.2h-1v0.2h-1v0.2h-1v0.3h-1v1.4h-1v0.2h-1v1.8h-1v0.2h-1v0.2h-1v0.1h-1v0.4h-1h-1h-1v-0.1h-1h-1v-0.1h-1v-0.2h-1h-1v-4.2h-1v-0.3h-1v-1.3h-1h-1v-0.1h-1v0.1h-1v1.8h-1v0.6h-1v0.1h-1v0.1h-1v0.1h-1v-0.2h-1v0.9h-1h-1v-0.1h-1v-0.2h-1v-0.1h-1v1.5h-1v-0.2h-1v-0.2h-1v-0.2h-1v-0.1h-1v-0.3h-1v-0.1h-1h-1v0.4h-1h-1h-1v-0.7h-1h-1v-0.1h-1v0.3h-1v-0.9h-1h-1v0.3h-1v-0.1h-1v2.5h-1v-3.1h-1v0.1h-1v1h-1v0.2h-1v0.3h-1v0.3h-1v0.3h-1v0.3h-1v0.5h-1v0.3h-1v0.3h-1v0.2h-1v-0.7h-1v0.1h-1v-0.2h-1v-0.4h-1v-0.2h-1v-0.3h-1v-0.3h-1v-0.3h-1v-0.4h-1v6h-1v-0.4h-1v-2.5h-1v-0.3h-1v-0.2h-1v-0.2h-1v-5.3h-1v0.1h-1h-1v0.1h-1v1.5h-1v0.2h-1v0.2h-1v0.1h-1v0.7h-1v2.8h-1v0.1h-1h-1v0.1h-1v0.1h-1v-2h-1h-1v-0.1h-1v1h-1h-1h-1v0.1h-1v-0.2h-1h-1v0.3h-1v0.1h-1h-1v0.1h-1v0.2h-1v-1.1h-1v-0.6h-1v0.2h-1v0.1h-1v0.2h-1v0.2h-1v0.1h-1v2.4h-1h-1v0.8h-1h-1v-0.1h-1v-0.2h-1h-1v-0.1h-1v-0.1h-1v-0.2h-1h-1v-0.1h-1v-4.1h-1h-1v0.8h-1h-1v0.1h-1v0.1h-1h-1v0.2h-1v2h-1v0.3h-1v0.2h-1v0.3h-1v-2.4h-1v0.9h-1v0.3h-1v0.8h-1v0.3h-1v0.3h-1v1.4h-1v0.2h-1v-1.3h-1v0.2h-1v0.2h-1v0.2h-1v0.2h-1v-1.5h-1h-1v-0.1h-1h-1v-0.1h-1v0.1h-1h-1v0.1h-1v1.9h-1v0.1h-1h-1v-0.1h-1v0.7h-1v-0.1h-1v-0.2h-1v0.3h-1v-0.3h-1v-0.3h-1v-0.3h-1v-0.2h-1v-1.8h-1v-0.2h-1v-0.1h-1v-0.6h-1v2.9h-1h-1v0.1h-1v0.1h-1v0.1h-1v-2.8h-1v0.2h-1v0.1h-1v0.1h-1v-0.3h-1h-1v1.9h-1h-1v-1h-1v0.7h-1v-0.2h-1v-0.2h-1v-0.3h-1v-1.6h-1v-0.2h-1v-1.7h-1v-0.2h-1v-0.2h-1v0.9h-1h-1v0.5h-1v0.2h-1v-0.7h-1v1h-1v0.2h-1v0.8h-1v0.3h-1v0.2h-1v-1.2h-1v0.2h-1v-0.3h-1v0.2h-1v0.5h-1v0.2h-1v0.1h-1v0.2h-1v1.4h-1v0.2h-1v0.7h-1v0.2h-1v0.3h-1v0.8h-1v1.2h-1v0.4h-1v0.2h-1v-2.6h-1v0.1h-1v0.1h-1v0.2h-1h-1v0.1h-1h-1v0.5h-1v0.5h-1v0.1h-1v1.1h-1h-1v0.1h-1v0.2h-1v0.3h-1v-0.3h-1v0.2h-1v-0.3h-1v0.2h-1v0.2h-1v0.3h-1v-0.1h-1v0.2h-1v0.3h-1h-1v0.3h-1v0.4h-1v0.2h-1v0.3h-1v1.5h-1v0.2h-1v-0.8h-1v0.2h-1v0.9h-1v0.3h-1v0.3h-1v0.3h-1v2.6h-1v0.3h-1v0.3h-1v0.4h-1v-0.5h-1v0.3h-1v0.3h-1v-1.1h-1v-0.4h-1v0.3h-1v0.6h-1v0.3h-1v0.3h-1v0.3h-1v0.3h-1v1.2h-1v0.9h-1v0.3h-1v0.4h-1v0.5h-1v0.4h-1v0.5h-1v0.5h-1v0.5h-1v0.5h-1v1.2h-1v0.5h-1h-1v0.4h-1v1.5h-1v0.3h-1v0.5h-1v0.4h-1v0.4h-1v-0.9h-1v0.4h-1v0.4h-1v0.4h-1v0.4h-1v0.7h-1v0.6h-1v-0.1h-1v0.4h-1v0.5h-1v0.6h-1v0.6h-1v0.5h-1v0.6h-1v0.5h-1v0.8h-1v0.7h-1v1.1h-1v1h-1v0.8h-1v1.1h-1v1.1h-1v1.3h-1v2.9h-1v2.9h-1v3.2h-1Z" stroke="none"/>
<path d="M171 1110.8l2-5.8 2-4 2-2.3 2-2.2 2-1.9 2-0.9 2-1.2 2-1.1 2-0.9 2-1.1 2-0.8 2-0.8 2-0.4 2-0.8 2-0.9 2-0.9 2-1 2-1.8 2-1.1 2-0.9 2-0.9 2-0.7 2-1.5 2-0.7 2-0.5 2 0 2-0.7 2-0.8 2-0.7 2-0.7 2-0.6 2-1.2 2-0.5 2-0.5 2-0.6 2-0.6 2-0.6 2-0.1 2-0.5 2-0.5 2-0.5 2-0.5 2-0.2 2-0.2 2-0.5 2-0.1 2-0.2 2-0.2 2-0.2 2-0.7 2-0.7 2-0.9 2-0.4 2-0.4 2-0.5 2 0.1 2-0.4 2-0.5 2-0.5 2-0.3 2-0.6 2 0 2 0.4 2 0.4 2 1.9 2 0.4 2 0.3 2-0.5 2 0 2-0.2 2-0.2 2-0.2 2 0 2 0.7 2 0.3 2 0.5 2 0.6 2 0.5 2 0.4 2-1.8 2 0 2-0.1 2 0 2 0 2 0.2 2 1.5 2-0.5 2-0.5 2-0.6 2-0.6 2-0.6 2-1.2 2-0.5 2-0.4 2-0.3 2-0.1 2-0.1 2 3.1 2 0.2 2 0.2 2 0.2 2 0.3 2 0 2-2.6 2-0.3 2-0.3 2-0.3 2 1 2-0.2 2-0.1 2 0.1 2 0 2 0 2 0 2-0.1 2-0.1 2-3 2-0.3 2-0.3 2-0.2 2-0.1 2 5.4 2 0.5 2 0.7 2-3.2 2 0.6 2 0.4 2 0.2 2 0.7 2-0.6 2-0.6 2-0.6 2-0.6 2-1.2 2-0.2 2 0 2 0 2-0.3 2 0.1 2-0.1 2 0 2 0.2 2 0.4 2 0.3 2 0.5 2 0.2 2 0.1 2-0.9 2-0.2 2-0.2 2-2.3 2 0.1 2 0.4 2 4.3 2 0.2 2 0.1 2 0 2-0.3 2-0.4 2-2 2-0.5 2-0.4 2-0.2 2 2.3 2 0.3 2 0.4 2 0.6 2 0.6 2 0.4 2-0.9 2 0 2-0.3 2-0.4 2-1.3 2-0.3 2-0.2 2-0.2 2 0.2 2-0.2 2-0.8 2-0.2 2-0.3 2-0.1 2-0.1 2 0.3 2 0.3 2 0.3 2-1.1 2 0.1 2 0 2 2 2-0.2 2-2 2 0.1 2 2.5 2 0.4 2 0.4 2 0.5 2 1.8 2 0.1 2-0.1 2-1.8 2-0.3 2-2.8 2 0 2 0 2 2 2-0.2 2-0.2 2-0.3 2 0.2 2 0 2 0.2 2 0.4 2 0.5 2-0.2 2 0.2 2 0.1 2-0.1 2-0.3 2-1.1 2-0.3 2-0.4 2 0.9 2 0 2 0.3 2 0.4 2 0.4 2 0.5 2-0.1 2-0.2 2-0.6 2-0.5 2 0 2-0.1 2-0.3 2-0.1 2 0.1 2 0.1 2-1.7 2 0.4 2 0.5 2 0.4 2 0.8 2 0.1 2 0 2 1.3 2-0.3 2-0.1 2-0.4 2 0.1 2-0.7 2 0.2 2 0.1 2 0 2-0.1 2 1.1 2 0 2 0 2 0 2 0.1 2-1.8 2-0.2 2-0.2 2-0.4 2-0.4 2 1.2 2-0.1 2 0.7 2 0.1 2 0.1 2 0 2 0 2-1.3 2 0.1 2 0.1 2 0.4 2-0.7 2 0.2 2 0.1 2 0 2-0.6 2 0 2 0.2 2 0.2 2 0.4 2-1.6 2 0.1 2 0 2 3.2 2-0.3 2-0.4 2-0.5 2-0.2 2-0.4 2-0.1 2 0 2-0.1 2 0 2-0.3 2-0.1 2 0.2 2 0.2 2 0.3 2 0 2 0 2-0.4 2 0.8 2-0.3 2-0.3 2 0.2 2 0.3 2 0.4 2 0.6 2 0.6 2 0.1 2 0.1 2 0 2-0.1 2-0.9 2-0.2 2-0.2 2-0.1 2-0.1 2-0.1 2 0.2 2 0.2 2 0.2 2 1.1 2 0.1 2-0.2 2-0.2 2-0.2 2-3.3 2 0 2 0 2 2.7 2 0.1 2-1.9 2-0.1 2 0 2 0 2-0.1 2 0.1 2 0.2 2 1.4 2 0.1 2-0.1 2-0.1 2-0.2 2 0.9 2-0.3 2-0.1 2 0 2 0 2 0 2-0.9 2 0.2 2 0.2 2-0.1 2 0.3 2 0.2 2 0 2 0.3 2-0.1 2-0.3 2-3.3 2-0.1 2 2.9 2 0.1 2 0.1 2 0.1 2 0 2-0.1 2 0.3 2-0.1 2 0 2-0.2 2 0.2 2 0.3 2 0.2 2 0.1 2 0.6 2-0.1 2-0.1 2-0.2 2-0.7 2-0.2 2-0.2 2-0.1 2-0.1 2 0 2 0.1 2 1.2 2 0.1 2 0 2 0 2 0 2-0.3 2-1.6 2-0.3 2-0.2 2-0.2 2-1.4 2 0.1 2 0.4 2 0.4 2 1.3 2 0.5 2 0.4 2 0 2 0 2-0.3 2-0.3 2-0.5 2-0.5 2-0.3 2-0.1 2 0 2 0.1 2 0.9 2 0.3 2 0.2 2 0 2 0 2 1.1 2-0.2 2 0.7 2 0 2 0.1 2 0 2-2.5 2 0.2 2 1.7 2 0.2 2 0.3 2 0.3 2 0.3 2 2.2 2-4.3 2 0 2-0.3 2-0.3 2-0.3 2-0.2 2 2 2 0 2 0 2-0.1 2-0.9 2-0.1 2-0.1 2 0 2 0.1 2 0.2 2 1 2 0.1 2 0.1 2-0.1 2-0.2 2-0.3 2-1.6 2-0.1 2-0.2 2 0.8 2-0.1 2 0.2 2 0.1 2 0.2 2 0.3 2 0.3 2 0.2 2 1 2 0 2-0.8 2 0.1 2 0.3 2-0.6 2 0.5 2 0.4 2-0.8 2-0.1 2-0.3 2 2.6 2-0.5 2-0.2 2 0.1 2 0.1 2 0.3 2-0.1 2 0.4 2 0.4 2 0.6 2 0.7 2-0.1 2 0.8 2 0.8 2 0.7 2 0.7 2 0.4 2-1.3 2 0.3 2 0.4 2 3 2 0.5 2 0.4 2-1.7 2 0.4 2 0.4 2 0.2 2 0.2 2 1.4 2 0 2 0.2 2 0.7 2 1.2 2 1.7 2 1.4 2 1.3 2 1.3 2 0.3 2 1.1 2 0.9 2 0.8 2 0.7 2 1 2 0.7 2 1 2 1 2 1.5 2 0.6 2 0.2 2 0.7 2 0.7 2 0.8 2 0.9 2 1.2 2 0.5 2 1.2 2 1.1 2 1.1 2 2 2 2.5 2 2.1 2 4.8 1 3.7" stroke-width="3.8" fill="none" stroke-linejoin="round"/>
<path d="M745.0 1055.9L747.5 880.0L750.5 880.0L753.0 1055.9Z" stroke-width="2.5" stroke-linejoin="round"/>
<path d="M771.7 1056.8L773.5 1009.0L775.5 1009.0L777.3 1056.8Z" stroke-width="2.5" stroke-linejoin="round"/>
</g>
<g clip-path="url(#c2)" fill="#61c132" stroke="#61c132">
<path d="M170.5 1108.2h1v-2.6h1v-2.6h1v-2.4h1v-2.4h1v-0.5h1v-0.7h1v-0.6h1v-0.5h1v-0.5h1v-0.3h1v-0.4h1v-0.3h1v-0.3h1v-0.4h1v0.3h1v-0.3h1v-0.4h1v-0.3h1v-0.4h1v-0.7h1v-0.3h1v-0.4h1v-0.9h1v-0.4h1v-0.5h1v-0.4h1v-0.4h1v0.3h1v-0.3h1v-0.3h1v0.1h1v-0.7h1v-0.4h1v-0.3h1v-0.4h1v-0.3h1v-0.4h1v-0.1h1v-0.4h1v-0.4h1v-0.4h1h1v-0.4h1v-0.4h1v-0.4h1v-0.1h1v-0.7h1v-0.7h1v-2h1v-0.8h1v-0.2h1h1h1v0.1h1h1h1v0.2h1v0.1h1v0.1h1v0.4h1v-0.2h1v-0.2h1v-0.3h1v-0.2h1v-0.3h1v-0.3h1v-0.2h1v-0.5h1v-0.2h1v-0.3h1v-0.3h1v-0.9h1v-0.8h1v-1h1v-0.9h1v-0.7h1v0.1h1v0.2h1v-0.1h1v-0.1h1v-0.3h1v-0.2h1v-0.1h1v-0.1h1v-0.1h1v-0.1h1v-0.3h1v-2.6h1v-0.6h1v-0.1h1v-0.2h1v-0.1h1v-0.8h1v0.5h1v0.2h1v-0.2h1v-0.2h1v-0.4h1v-0.7h1v-0.6h1v-0.6h1v-0.6h1v-0.5h1v0.2h1v-0.5h1v-0.5h1v-0.1h1v-0.5h1v-0.5h1v-0.1h1v0.5h1v-0.8h1v-0.8h1v-0.8h1v-0.8h1v-0.8h1v-2.5h1v-1.7h1v0.9h1v-1.8h1v0.6h1v0.4h1v-2.4h1v0.4h1v0.3h1h1v-0.1h1h1h1v0.5h1v2.8h1v-0.1h1v-1h1v-0.2h1v-0.1h1v-0.2h1v-0.4h1v-0.3h1v-1.1h1v0.1h1v-0.3h1v-0.4h1v0.7h1v-0.2h1v-0.1h1v1.1h1h1v0.1h1v-0.3h1v0.1h1v0.9h1v-0.4h1v0.4h1v0.2h1v1.2h1v0.2h1h1v0.1h1h1v-1.5h1v-0.1h1v-0.1h1v-0.1h1v-1h1v-0.8h1v1.2h1h1h1v-0.1h1v0.1h1v0.2h1v-1h1v0.2h1v0.3h1v1.6h1v0.3h1v0.4h1v0.4h1v0.3h1v0.3h1v0.2h1v0.2h1v2.5h1v-0.8h1h1h1v-0.6h1h1v-1.5h1v1.4h1h1v-0.1h1v0.4h1h1v1.3h1v-1.2h1v-0.3h1v-0.2h1v-0.3h1v-0.2h1v-0.3h1v-0.9h1v-0.2h1v-0.2h1v-0.2h1v-0.1h1v-0.3h1h1v0.2h1v0.8h1v0.2h1v0.3h1v0.2h1v0.4h1v0.5h1v0.2h1v0.1h1v0.1h1h1v1h1v-0.1h1v0.1h1v0.1h1v0.1h1v-2.7h1h1h1h1h1v0.1h1v-0.4h1h1h1h1v-0.1h1h1h1v3h1v-0.1h1v-0.8h1h1h1h1v0.1h1v-0.3h1v-2.5h1v-0.1h1h1v-0.1h1v-0.1h1v0.4h1h1v0.1h1v-0.2h1v0.2h1v0.1h1v0.2h1v0.6h1v0.7h1h1h1v0.7h1h1v-0.2h1v0.7h1v-2.2h1v-0.1h1v-0.1h1v-0.2h1v-0.1h1v-0.5h1h1h1v-0.2h1v0.1h1v0.1h1v0.1h1v2.8h1v0.1h1h1v0.1h1v0.3h1v0.1h1h1h1v-0.4h1h1v0.1h1v0.1h1v-1h1h1h1v0.1h1v-0.2h1v0.1h1v0.7h1v0.1h1h1v0.1h1h1v-0.1h1v-0.3h1v-0.2h1v-0.1h1v-0.1h1v-0.2h1v1h1v-0.7h1v-0.2h1h1v-0.1h1v-0.1h1v-0.6h1h1v0.1h1v-0.9h1v0.1h1v1.1h1h1v0.1h1v0.1h1v0.3h1v0.3h1v-0.1h1v-0.1h1v-0.1h1v-0.1h1v-0.1h1v1h1v-0.3h1h1h1v0.1h1v0.1h1v0.1h1v-1.1h1v0.2h1v0.2h1v0.6h1v-1.6h1v-0.5h1v0.1h1v0.1h1v-1.7h1v2.9h1h1h1v-0.1h1v-1.2h1v-0.1h1h1v0.1h1v0.4h1h1v0.9h1v0.1h1h1v-2.6h1v2h1h1v0.1h1v-0.1h1h1v2.6h1v-0.1h1v-0.1h1h1v-0.1h1v0.2h1h1h1v-0.2h1v-0.1h1v-0.5h1h1v-0.1h1v-0.1h1v0.2h1h1v-2.7h1v-0.1h1h1h1h1h1h1v-0.3h1v0.1h1v0.1h1v0.2h1v-1.8h1v0.2h1v2.7h1v0.2h1v-0.1h1v0.2h1v-1.2h1v0.2h1v0.1h1h1v1.4h1h1h1v0.8h1v0.1h1v-0.1h1v-0.2h1v0.2h1v0.4h1v0.2h1h1v-2.9h1v0.2h1h1h1v-1.9h1v0.1h1v0.1h1h1v0.1h1h1v1.7h1h1h1h1v-1.1h1v2.7h1v-0.1h1v1.1h1v-0.1h1v-1h1v-0.1h1v-0.2h1v-0.2h1v0.8h1v-0.2h1v-0.6h1v-0.2h1v-0.1h1h1v-1.3h1v1.1h1v0.1h1v0.1h1v0.2h1v0.1h1v0.2h1h1v0.3h1v0.2h1v0.1h1v-1.1h1v0.1h1v0.1h1v1.1h1h1v0.2h1v0.1h1v0.1h1v-0.3h1v0.1h1h1v-0.4h1h1v-1.1h1h1v-0.1h1v0.5h1v-0.1h1h1v-1h1v-0.1h1v1.4h1v0.2h1v-0.1h1v-0.1h1v-0.2h1v-0.1h1v-0.1h1v-0.1h1v-0.1h1v-0.7h1v-0.1h1v-0.1h1v-0.1h1v-0.4h1v-0.1h1h1h1v0.3h1h1v0.1h1h1v0.1h1h1v-0.8h1v-1.7h1v1.7h1v0.1h1h1h1v0.2h1v0.1h1v0.5h1v0.1h1v0.1h1v-0.9h1h1v1.6h1v-1h1h1v-0.2h1h1h1v-0.3h1v0.1h1h1v0.1h1v2h1v0.1h1v0.1h1v0.2h1v-0.6h1v2.8h1v0.1h1h1v-1.2h1h1h1v-1.5h1v1h1h1v-0.5h1h1v0.1h1v0.1h1v-0.8h1v0.1h1v1.3h1v0.1h1v-1h1v-0.2h1v-0.1h1h1v-0.2h1v1.2h1v-0.1h1v0.5h1v-0.6h1v-0.1h1h1h1v-0.4h1h1h1v-0.5h1v-0.6h1h1h1v0.1h1h1h1v0.1h1v0.9h1h1v-0.1h1v0.1h1v0.1h1v-2.5h1v-0.1h1v0.1h1v0.6h1h1v-0.6h1v1h1v-0.1h1v-0.1h1v-0.1h1v-0.1h1v0.7h1v-0.1h1h1v-0.1h1v0.5h1v-0.1h1v-0.1h1v0.8h1v-0.9h1v-0.1h1v-0.1h1v-0.1h1v-0.2h1h1v0.8h1h1v0.1h1v-0.5h1v-0.6h1v0.1h1v0.1h1v0.2h1v-0.7h1h1v0.1h1h1v1.2h1h1v-1.2h1h1h1v1h1v-1h1v0.1h1h1v2.1h1v-0.2h1h1v0.1h1v0.2h1h1v-1.3h1v-0.8h1v0.1h1h1v0.1h1v0.7h1v-0.7h1v0.2h1v0.7h1v0.1h1v0.1h1v0.1h1v0.1h1v0.1h1h1h1v-0.6h1v2.7h1v-0.1h1v0.6h1v-0.1h1v-0.1h1v-0.1h1v-0.1h1v-0.1h1v-0.2h1h1v-0.1h1v-1.8h1v-0.3h1v-0.1h1v1.8h1v-1.7h1v-0.1h1v-0.1h1v-0.1h1h1h1v0.3h1v-0.1h1h1h1v-0.1h1h1v0.8h1v-0.7h1v-0.1h1v-0.1h1v-0.1h1v0.1h1h1v-0.2h1v0.1h1h1h1v0.5h1v0.8h1v0.1h1v0.1h1v-0.4h1v0.1h1v-2.1h1h1h1v-0.1h1v2.5h1v-0.1h1v-0.1h1v-0.1h1v0.9h1v-0.2h1v-0.1h1h1v-0.7h1v-2.4h1h1v-0.5h1h1v-0.1h1h1h1v0.8h1h1h1v-1.3h1v0.1h1h1v0.1h1v0.2h1v0.2h1v-1.4h1v0.1h1v1.3h1h1v2.6h1v-0.1h1h1v-0.1h1v-0.1h1v-0.7h1v-0.1h1v-0.2h1v1.8h1v-0.3h1h1v1.1h1v0.1h1v0.1h1v-1.5h1v-1h1v0.1h1v0.6h1v0.1h1v0.2h1v0.1h1v0.1h1v0.1h1v0.6h1h1h1v0.2h1h1v-1h1v-0.1h1v-0.1h1v-0.2h1v-0.1h1v0.1h1v-0.2h1v-0.3h1v-1.7h1v-1.4h1v-0.2h1v-0.2h1v1.3h1v-0.1h1v-0.1h1h1h1v-0.7h1v2.8h1h1v0.2h1v0.2h1v0.1h1v0.1h1v0.1h1v0.8h1v0.1h1h1v0.1h1v-0.1h1v-1.7h1v-0.6h1h1v-0.2h1h1h1v0.5h1v-1.5h1h1v-2.1h1h1h1v0.1h1h1v0.1h1v2.4h1h1v0.1h1v1.9h1v0.1h1v-0.1h1v-1.2h1v0.7h1h1h1v-1.9h1v1.4h1v-0.2h1v-0.2h1v-0.2h1v-0.3h1v-0.8h1v-0.3h1v-0.2h1v0.5h1v-0.2h1v1h1h1v0.6h1v1.6h1v0.2h1v0.2h1v0.2h1v-1.2h1v-2.4h1v0.2h1v0.1h1v0.7h1v1.3h1h1v-1.2h1h1h1v0.3h1v0.1h1v0.1h1v-0.8h1h1v1.3h1v0.1h1h1v-0.8h1h1v0.1h1v-0.1h1h1v-0.1h1v-0.1h1v1.7h1v-0.6h1v-0.1h1v-1h1h1h1v-0.1h1v-0.1h1v-1h1h1v-0.2h1v-0.5h1h1h1v0.1h1h1h1v1.9h1v0.1h1h1h1v0.1h1h1v0.9h1h1h1h1v-0.6h1v-0.1h1v1h1v0.1h1v0.1h1v-0.1h1v0.1h1h1h1v0.1h1v-1.5h1v0.1h1v0.1h1v0.1h1v2h1v-0.3h1v-0.1h1v0.1h1v0.4h1h1v-1.3h1h1h1v0.1h1v1.5h1v-0.3h1v0.1h1v-0.1h1v0.2h1v0.1h1v0.1h1h1h1v0.1h1h1v0.3h1v0.5h1v-0.2h1v-0.2h1v-1.5h1v-0.2h1v-1.5h1v-0.2h1v-0.2h1v0.7h1v1.1h1v-0.2h1v-0.1h1v-0.2h1v-0.3h1v-0.1h1h1v0.1h1v-0.2h1h1h1v0.1h1v0.2h1h1h1v0.1h1h1h1v-1.6h1h1v0.2h1v1.3h1v0.1h1v0.1h1v0.4h1h1v0.1h1v0.2h1h1v-0.1h1v0.1h1h1h1h1v0.1h1v-0.1h1v-0.8h1v-0.3h1v-0.1h1v-0.1h1h1v-0.2h1v-0.1h1v-0.2h1v-1.4h1v-0.3h1h1v-0.1h1v0.6h1h1h1h1v0.1h1h1v0.1h1v0.2h1v2.2h1v0.1h1v0.8h1v0.2h1v0.2h1v0.5h1v0.3h1v0.3h1v0.3h1v0.3h1v-1.5h1v0.3h1v0.1h1h1h1h1v-1h1v-0.1h1v0.1h1v-0.1h1v0.6h1h1h1h1v0.1h1v1.9h1v-1.1h1v0.2h1v0.1h1v-0.4h1v1.3h1v0.1h1v0.1h1v0.7h1v-1h1v0.4h1v0.4h1v-1.2h1v0.5h1v3.5h1v-1.5h1v0.5h1v0.5h1v0.4h1v1.5h1h1v0.1h1v0.8h1h1v-0.6h1v-0.7h1v0.1h1v0.1h1h1v0.1h1v0.8h1v0.1h1v0.4h1v1.4h1v-0.9h1v0.7h1v0.7h1v0.6h1v0.8h1v0.9h1v0.7h1v0.7h1v1.3h1v0.7h1v0.6h1v0.7h1v0.6h1v0.6h1v0.6h1v0.3h1v0.6h1v1.3h1v0.5h1v0.4h1v0.5h1v0.4h1v0.4h1v0.5h1v-0.1h1v0.1h1v0.4h1v1.1h1v0.5h1v0.4h1v0.5h1v0.3h1v0.4h1v0.3h1v0.4h1v0.3h1v-0.8h1v0.5h1v0.3h1v0.2h1v0.3h1v0.3h1v0.9h1v0.3h1v0.3h1v0.5h1v0.4h1v0.5h1v0.5h1v0.5h1v0.6h1v0.6h1v0.6h1v0.6h1v0.8h1v0.5h1v0.7h1v0.9h1v1.3h1v1.3h1v1.2h1v1.3h1v2.1h1v2.9h1V1113.5h-1v-2.8h-1v-2.2h-1v-1.2h-1v-1.3h-1v-1.3h-1v-1.2h-1v-1.7h-1v-0.6h-1v-0.5h-1v-0.8h-1v-0.5h-1v-0.3h-1v-0.5h-1v-0.5h-1v-0.5h-1v-0.4h-1v-0.4h-1v-0.4h-1v-0.5h-1v-0.3h-1v-0.3h-1v-1.2h-1v-0.3h-1v-0.3h-1v0.7h-1v-0.3h-1v-1.2h-1v0.6h-1v-0.4h-1v-0.3h-1v-0.3h-1v-0.4h-1v-0.3h-1v-0.5h-1v-0.4h-1v-0.3h-1v0.7h-1v-0.4h-1h-1v-0.8h-1v-0.4h-1v-0.4h-1v-0.7h-1v-0.5h-1v-0.4h-1v-0.4h-1v-1.3h-1v-0.6h-1v-0.4h-1v-0.6h-1v-0.6h-1v-0.6h-1v-0.3h-1v-0.5h-1v-0.7h-1v-0.8h-1v-0.7h-1v-0.7h-1v-0.8h-1v-0.7h-1v-0.6h-1v-0.6h-1v-0.7h-1v-0.9h-1v-0.5h-1v-0.3h-1v-0.1h-1v-0.8h-1v-0.1h-1v-0.1h-1v-0.1h-1h-1v-0.3h-1v0.6h-1h-1v1.1h-1v-0.1h-1h-1v-0.6h-1v-0.4h-1v-0.4h-1v-0.4h-1v0.5h-1v-3.5h-1v-0.5h-1v0.5h-1v-0.4h-1v-0.4h-1v1.1h-1v1.1h-1v-0.1h-1v-0.1h-1v-1.2h-1v-0.6h-1v-0.1h-1v-0.2h-1v-1.1h-1v0.3h-1v-0.1h-1h-1h-1h-1v-1.3h-1v0.1h-1v-0.1h-1v0.1h-1v0.6h-1h-1h-1v-0.1h-1v-0.1h-1v-0.2h-1v2.4h-1v-0.3h-1v-0.3h-1v-0.3h-1v-0.3h-1v-0.4h-1v-0.3h-1v-0.2h-1v-1.6h-1h-1v-2.3h-1v-0.1h-1v-0.1h-1v-0.3h-1v-0.1h-1h-1h-1v0.1h-1v0.2h-1h-1v0.1h-1v0.3h-1v0.7h-1v0.2h-1v0.1h-1v0.2h-1v-0.2h-1v0.1h-1v0.1h-1v0.6h-1v0.9h-1h-1h-1h-1h-1v-0.1h-1v-0.1h-1v-1.1h-1h-1v-0.2h-1h-1h-1v1.6h-1v-0.1h-1h-1v-1.2h-1v-0.1h-1v-0.1h-1v0.2h-1h-1v-0.1h-1h-1h-1h-1v-0.6h-1h-1v-0.1h-1v0.1h-1v0.1h-1h-1h-1h-1v0.7h-1v0.1h-1v0.2h-1v0.2h-1v0.2h-1v-0.7h-1v0.2h-1v0.2h-1v-0.2h-1v0.3h-1v1.5h-1v0.2h-1v1.2h-1v-0.4h-1v2h-1h-1v-0.1h-1h-1h-1v-0.9h-1v-0.2h-1v-0.1h-1v-1.9h-1v-0.1h-1v1.1h-1v0.1h-1v-0.1h-1h-1h-1v-1.2h-1h-1v-0.3h-1v-0.2h-1v0.1h-1v0.5h-1v-0.3h-1v-0.1h-1v-0.1h-1v-0.1h-1v-0.5h-1v-0.1h-1h-1h-1v-0.1h-1v0.1h-1v-0.1h-1v-0.1h-1v0.5h-1h-1v0.7h-1h-1h-1h-1v-1h-1h-1v-0.1h-1h-1v-0.1h-1h-1v-1.6h-1h-1h-1v-0.1h-1h-1h-1v0.4h-1v0.1h-1v0.1h-1v0.9h-1v0.1h-1v0.2h-1v0.1h-1v0.1h-1v1h-1h-1v2.3h-1v-1.7h-1v0.1h-1v0.1h-1h-1v0.1h-1v-0.1h-1h-1v-2.2h-1v-0.1h-1v-0.1h-1v-1.2h-1v-0.1h-1v0.4h-1v-0.1h-1v-0.1h-1v1.7h-1h-1h-1v1.2h-1v-0.1h-1v-0.6h-1v-0.8h-1v-0.1h-1v-0.1h-1v2.3h-1v-1.8h-1v-0.1h-1v-0.3h-1v-0.1h-1v-1.3h-1v1.4h-1h-1v-0.9h-1v0.1h-1v-1.6h-1v0.3h-1v0.2h-1h-1v2h-1v0.2h-1v0.2h-1v0.2h-1v-1.7h-1v2h-1v-0.1h-1h-1v-0.6h-1v-0.3h-1v0.7h-1h-1v-1.9h-1v-0.1h-1v-0.1h-1v0.5h-1v-0.1h-1h-1v-0.1h-1h-1h-1v2.1h-1v0.1h-1v-0.4h-1v-0.6h-1h-1v0.1h-1v0.1h-1h-1v-0.7h-1v1.7h-1h-1h-1h-1v-0.1h-1v-0.2h-1v-0.1h-1v-0.1h-1v-0.1h-1v-0.2h-1v-0.2h-1h-1v-2.8h-1v0.5h-1h-1h-1v0.1h-1h-1v0.1h-1v0.1h-1v0.3h-1v1.7h-1v1.8h-1v0.2h-1v0.2h-1v-0.1h-1v0.2h-1v0.1h-1v0.1h-1v-1.1h-1v-0.2h-1h-1v-0.2h-1h-1h-1v-0.8h-1v-0.1h-1v-0.1h-1v-0.1h-1v-0.2h-1v-0.1h-1v0.6h-1h-1h-1v1.5h-1v-0.1h-1v-0.1h-1v0.6h-1h-1v-1.4h-1v-1.9h-1v0.2h-1v0.1h-1v2.3h-1v0.1h-1h-1v0.1h-1h-1v-1.8h-1h-1v0.6h-1v-0.1h-1v1.4h-1v-0.2h-1v-0.2h-1v-0.1h-1h-1v-0.1h-1v-1.4h-1h-1h-1v-0.8h-1h-1h-1v0.1h-1h-1h-1v-0.1h-1v2.4h-1v-0.2h-1h-1v0.1h-1v0.2h-1v-1h-1v0.2h-1h-1v0.1h-1v0.1h-1v0.2h-1v-0.1h-1h-1v0.8h-1v-0.1h-1v0.4h-1v-0.1h-1v-0.1h-1v-0.8h-1v-1.9h-1h-1h-1v-0.1h-1v0.2h-1h-1v1.8h-1v0.4h-1v0.1h-1v0.1h-1v1h-1v-0.7h-1h-1h-1h-1v0.1h-1h-1v-0.2h-1v-2.4h-1h-1v0.1h-1v0.1h-1v0.1h-1v1.7h-1v1.3h-1v0.1h-1v0.3h-1v-1h-1v0.2h-1v-0.1h-1v-0.2h-1v0.1h-1h-1v0.1h-1v0.1h-1v0.2h-1v0.5h-1v0.1h-1v-2.7h-1v-0.9h-1h-1h-1v-0.1h-1h-1v-0.1h-1v-0.1h-1v-0.2h-1v0.1h-1v-0.1h-1v0.6h-1v0.5h-1v-0.1h-1h-1v-0.1h-1v-0.9h-1v1.3h-1h-1v0.2h-1v-0.1h-1h-1h-1v-0.4h-1h-1v-0.1h-1v0.2h-1v-0.9h-1h-1h-1v2.5h-1h-1v-1.9h-1h-1h-1v-0.1h-1v0.5h-1v-0.1h-1v-0.2h-1v-0.1h-1v-1.2h-1v0.4h-1v-0.1h-1h-1v0.2h-1v0.1h-1v0.2h-1v0.1h-1v0.1h-1v0.1h-1v1.5h-1v-0.8h-1v0.1h-1h-1v-1.6h-1h-1v0.1h-1v0.1h-1v1.4h-1h-1v0.2h-1h-1v0.1h-1v-1h-1v-0.9h-1h-1v-0.4h-1v-0.1h-1v0.1h-1v2.5h-1v-0.1h-1v-0.1h-1v0.2h-1v-0.1h-1v-0.9h-1v-0.1h-1h-1v0.1h-1v0.5h-1v-0.5h-1h-1v2.5h-1v0.5h-1h-1h-1v-1.9h-1h-1h-1v0.1h-1v0.6h-1v1.2h-1v0.1h-1v-2h-1v0.2h-1h-1v0.1h-1v0.1h-1v1.1h-1h-1v-1.3h-1v-0.2h-1v-0.9h-1v-0.1h-1v-0.1h-1h-1v0.5h-1h-1v0.1h-1v1.5h-1h-1h-1v1.4h-1h-1v-0.1h-1v-1.2h-1v-2.6h-1v-0.1h-1v-0.1h-1v-0.1h-1v0.3h-1v-0.1h-1h-1v-0.1h-1v0.5h-1h-1h-1v0.2h-1h-1v-0.6h-1v-1.5h-1v-0.1h-1v1h-1v-0.1h-1v-0.1h-1v-0.4h-1v-0.1h-1v-0.2h-1h-1h-1v-0.1h-1v1h-1v1.7h-1v-1.1h-1h-1v-0.1h-1h-1v-0.1h-1h-1v-1h-1h-1h-1v0.1h-1v0.4h-1v0.1h-1v0.1h-1v0.1h-1h-1v0.1h-1v0.1h-1v0.1h-1v1.9h-1v0.1h-1v0.1h-1v0.1h-1v-0.8h-1v-1.5h-1v0.1h-1v-0.5h-1v0.1h-1h-1v0.2h-1h-1v0.1h-1v1.1h-1h-1v0.3h-1v-0.1h-1v-0.1h-1v0.3h-1v-0.1h-1v-0.1h-1v-0.1h-1v-0.1h-1v-0.1h-1v-0.1h-1v-0.1h-1v2.3h-1v-0.1h-1v-2.2h-1v-0.3h-1v-0.1h-1v-0.2h-1v-0.1h-1v-0.2h-1v-0.1h-1v-0.1h-1v-0.4h-1v1.2h-1h-1v0.1h-1v0.2h-1v0.3h-1v0.2h-1v1.1h-1v0.2h-1v0.2h-1v0.1h-1v-1.7h-1v0.1h-1v0.2h-1h-1v-2.6h-1v0.8h-1h-1h-1h-1v-0.7h-1h-1h-1v-0.1h-1v-0.1h-1h-1v0.5h-1v-0.1h-1h-1v-1.1h-1v2.9h-1h-1v1.3h-1v-0.5h-1v-0.1h-1v0.1h-1v0.1h-1h-1v-0.2h-1h-1h-1v-0.2h-1v-0.1h-1v-0.1h-1v-0.1h-1v-1.8h-1v-0.2h-1v1.2h-1v-0.2h-1v-1.4h-1v-0.2h-1v0.2h-1v-0.2h-1v-0.1h-1v-0.1h-1v0.1h-1v-0.1h-1h-1h-1v0.1h-1v-0.6h-1v0.1h-1v2.7h-1h-1v1h-1v0.1h-1h-1v0.1h-1v-0.7h-1v0.1h-1v1.6h-1v0.1h-1h-1v-0.2h-1h-1v0.1h-1v0.1h-1h-1v-1.2h-1v0.1h-1v0.1h-1v-0.1h-1h-1v-2h-1v-0.4h-1v-0.1h-1h-1v0.2h-1h-1v-0.5h-1h-1v-0.1h-1v0.1h-1v0.2h-1h-1v0.1h-1h-1v0.5h-1h-1v-0.1h-1v-0.1h-1v1.9h-1v1.6h-1v-1.7h-1v-0.2h-1v-0.2h-1v1.2h-1v-0.1h-1v-0.1h-1v-0.5h-1v0.1h-1h-1v-0.8h-1v-1h-1h-1v0.2h-1v0.1h-1v0.1h-1v0.1h-1v-0.4h-1v-1h-1h-1v-0.1h-1v-0.1h-1v1.1h-1v-0.1h-1v0.1h-1h-1v-0.1h-1v0.7h-1v0.1h-1v0.1h-1h-1v0.2h-1v0.6h-1v-0.2h-1v0.2h-1v0.1h-1v0.2h-1v0.1h-1v0.2h-1h-1h-1v-0.1h-1h-1v-0.1h-1v-0.7h-1h-1v0.4h-1v-0.1h-1h-1v0.2h-1v1h-1v-0.1h-1v1h-1h-1v-2.9h-1v-0.1h-1v0.1h-1v-0.1h-1v0.7h-1v-0.1h-1h-1v-0.1h-1v-2.8h-1v-0.1h-1v-0.1h-1v-0.1h-1v-0.3h-1v0.1h-1h-1v0.6h-1v0.1h-1v0.2h-1v0.1h-1v0.1h-1v1.6h-1v-0.4h-1v0.1h-1h-1v0.3h-1v0.1h-1v-0.1h-1v1.2h-1v-0.6h-1v-2.1h-1v-0.1h-1v-0.1h-1v1.8h-1h-1v-0.1h-1v-0.4h-1v-0.6h-1h-1v0.1h-1v0.1h-1v2.4h-1v0.9h-1h-1h-1h-1h-1v-0.5h-1v-1.1h-1v-2.9h-1h-1v-0.1h-1v0.1h-1h-1h-1v0.1h-1v-0.1h-1v-0.1h-1h-1h-1h-1h-1v2.7h-1v-0.1h-1v0.3h-1h-1h-1v0.3h-1v-0.1h-1v-1.6h-1v-0.2h-1v-0.2h-1h-1v-0.3h-1v-0.3h-1v-0.3h-1v-0.2h-1v-1.2h-1v-0.2h-1h-1v0.5h-1v0.2h-1v0.1h-1v0.3h-1v0.6h-1v0.9h-1v0.3h-1v0.3h-1v0.2h-1v0.3h-1v0.2h-1v1.2h-1v-0.2h-1h-1v-0.6h-1v0.1h-1h-1v-1.4h-1v2.3h-1h-1v-2.1h-1v0.1h-1v-0.1h-1v0.9h-1v1.7h-1v-0.2h-1v-0.2h-1v-0.3h-1v-0.3h-1v-0.4h-1v-0.3h-1v-0.4h-1v-3.2h-1v-0.3h-1v-0.2h-1v-0.7h-1v-0.2h-1h-1v1.1h-1v-0.1h-1v0.1h-1v-0.9h-1v0.7h-1v0.4h-1v0.1h-1h-1v0.2h-1v1.9h-1v0.1h-1v-0.1h-1v-0.1h-1v-0.1h-1v-2.1h-1v-0.2h-1v-0.4h-1v0.9h-1v-0.9h-1v-0.1h-1v0.7h-1h-1h-1v-1.2h-1v0.1h-1v0.2h-1v-1.8h-1v0.3h-1v0.3h-1h-1v1.3h-1v0.3h-1v0.3h-1v0.3h-1v0.3h-1v0.1h-1v1h-1v0.1h-1v-0.8h-1v-0.5h-1h-1v-0.1h-1v0.1h-1h-1v-0.3h-1v-0.4h-1v2.4h-1v-0.4h-1v-0.5h-1v1.8h-1v-2.6h-1v1.5h-1v2.4h-1v0.7h-1v0.8h-1v0.7h-1v0.8h-1v0.8h-1v-0.8h-1v-0.2h-1v0.5h-1v0.5h-1h-1v0.5h-1v0.5h-1v-0.3h-1v0.5h-1v0.5h-1v0.6h-1v0.6h-1v0.7h-1v0.4h-1v0.2h-1v0.1h-1v1.1h-1v-0.9h-1v0.7h-1v0.1h-1v0.2h-1v0.1h-1v0.8h-1v1.2h-1v0.1h-1v0.1h-1v0.6h-1v0.1h-1v0.1h-1v0.2h-1v-0.3h-1v0.1h-1h-1v0.8h-1v-0.1h-1v0.6h-1v0.9h-1v0.9h-1v0.6h-1v0.9h-1v0.6h-1v0.2h-1v0.3h-1v0.1h-1v0.2h-1v0.3h-1v0.2h-1v0.1h-1v0.3h-1v0.2h-1v0.2h-1v-0.4h-1v-0.1h-1v-0.1h-1v-0.2h-1v-0.3h-1v-0.1h-1h-1h-1h-1v0.4h-1v0.7h-1v2.1h-1v0.6h-1v0.7h-1h-1v0.4h-1v0.5h-1v0.3h-1v-0.2h-1v0.4h-1v0.4h-1v0.4h-1v0.2h-1v0.3h-1v0.4h-1v0.3h-1v0.3h-1v0.4h-1v0.4h-1v-0.2h-1v0.3h-1v0.4h-1v0.3h-1v0.7h-1v0.4h-1v0.4h-1v0.4h-1v0.8h-1v0.4h-1v0.6h-1v-0.3h-1v0.3h-1v0.4h-1v0.3h-1v0.3h-1h-1v0.3h-1v0.3h-1v0.3h-1v0.1h-1v0.3h-1v0.5h-1v0.4h-1v0.6h-1v0.7h-1v0.5h-1v2.4h-1v2.6h-1v2.6h-1v2.6h-1Z" stroke="none"/>
<path d="M171 1110.8l2-5.2 2-5 2-1.2 2-1 2-0.8 2-0.5 2-0.6 2-0.2 2-0.7 2-0.7 2-0.7 2-1.3 2-0.8 2-0.7 2-0.6 2-0.2 2-0.7 2-0.6 2-0.8 2-0.7 2-0.2 2-0.8 2-0.9 2-1.4 2-2.8 2 0 2 0 2 0.2 2 0.2 2 0.6 2-0.5 2-0.1 2-0.5 2-0.4 2-0.5 2-1.6 2-1.9 2-1.6 2 0.1 2-0.2 2-0.2 2-0.3 2-0.2 2-2 2-0.2 2-0.3 2-0.9 2-0.4 2-0.5 2-1.2 2-1.1 2-0.7 2-1 2-1 2 0.5 2-1.4 2-1.6 2-1.6 2-3.4 2-1.4 2 1 2 0.9 2 0.3 2 0 2 0.5 2-0.1 2-1.2 2-0.5 2-0.6 2-0.3 2-0.6 2-0.5 2 1.1 2 0 2 0.2 2 1.1 2 0.6 2 0.5 2 0.1 2-0.6 2-0.2 2-0.1 2-0.8 2 0 2 0.1 2 0.4 2 0.6 2 2 2 0.8 2 0.5 2 0.4 2-0.7 2 0 2 0.1 2 1.3 2-0.1 2-0.2 2-1.3 2-0.5 2-0.5 2-1.2 2-0.6 2-0.3 2 0.1 2 0.9 2 0.5 2 0.6 2 0.4 2 0.3 2 1.2 2 0 2 0 2-2.7 2 0 2 0.1 2 0 2 0 2-0.1 2 3 2 0.1 2 0 2 0 2-2.5 2-0.2 2-0.1 2 0.4 2 0.1 2 0.3 2 0.6 2 0.2 2 0.4 2-0.2 2-2.1 2-0.3 2-0.3 2 0 2 0.1 2 0.1 2 2.9 2 0.1 2 0.1 2 0.1 2 0.1 2 0 2-0.8 2 0 2 0.3 2 0.7 2 0.2 2 0 2-0.1 2-0.2 2-0.3 2-0.9 2-0.4 2-0.1 2-0.7 2 0.2 2 0.2 2 0.1 2 0.2 2 0.2 2-0.2 2-0.2 2 0.9 2 0 2 0.2 2 0.2 2 0.4 2-1.4 2 0.3 2-0.6 2 0.1 2-0.2 2-0.1 2 0 2 0.5 2 0 2 0.1 2 2 2 0.1 2-0.2 2-0.1 2-0.1 2 0.2 2-0.2 2-0.1 2-0.1 2-0.2 2-2.8 2-0.1 2 0 2 0.1 2 0.1 2 0.3 2 0.3 2 0.3 2 0.3 2 0.3 2 0.1 2 1.6 2 0 2-0.1 2 0.1 2-0.2 2-2.9 2 0.1 2 0 2 0.2 2 0 2 0.1 2 0 2 0.1 2 2.6 2-0.1 2-0.3 2-0.3 2-0.4 2 0.4 2-0.2 2-1.2 2 0.2 2 0.3 2 0.3 2 0.4 2 0.2 2 0.1 2 0.2 2 0.2 2-0.2 2 0.2 2 0 2-1.1 2-0.1 2-0.1 2-0.3 2 1.4 2-0.2 2-0.4 2-0.3 2-0.2 2-0.3 2-0.5 2 0 2 0 2 0.2 2 0 2 0.1 2-1.6 2 0.1 2 0.2 2 0.2 2 0.2 2 0.1 2 1.6 2-0.2 2 0 2 0.1 2 0 2 0.2 2 0.2 2 2 2 0.1 2 0 2-1.5 2 0 2-0.5 2 0.2 2 0.2 2 1.4 2-0.2 2-0.1 2-0.3 2-0.2 2-0.7 2 0 2 0 2-0.4 2 0 2 0 2-0.1 2 1 2 0.2 2 0.2 2-2.5 2 0 2-0.1 2 0.9 2-0.2 2-0.1 2-0.1 2 0 2-0.2 2 0.7 2-0.2 2-0.2 2-0.2 2 0.1 2-0.4 2 0.3 2 0.2 2 0 2 0.1 2-0.1 2 0 2 1 2 0.2 2 0.1 2 0.1 2 0 2-1.3 2 0.1 2 0.1 2-0.5 2 0.3 2 0.2 2 0.2 2-0.1 2 2.8 2-0.2 2-0.2 2-0.2 2-0.1 2-0.1 2-0.3 2-0.1 2-1.8 2-0.2 2-0.1 2 0.2 2 0 2-0.1 2 0.7 2-0.2 2-0.1 2-0.2 2 0.1 2 0.1 2 0.9 2-0.3 2 0.2 2 0.1 2-0.2 2-0.1 2 0.8 2-0.3 2-0.1 2-2.4 2-0.1 2-0.1 2 0.8 2 0.1 2 0.1 2 0.1 2 0.4 2-1.3 2 0.2 2 1.3 2-0.2 2-0.1 2-0.3 2 1.7 2 0.1 2 0.1 2-1.4 2 0.2 2 0.3 2 0.2 2 0.2 2 0 2 0.2 2-0.2 2-0.2 2-0.1 2-0.4 2-1.9 2-0.4 2-0.3 2 0 2 0 2 2.9 2 0.3 2 0.2 2 0.1 2 0.1 2 0.1 2-1.8 2-0.1 2-0.1 2 0.6 2-2.2 2 0.1 2 0.1 2 0.2 2 0.1 2 2 2 0.2 2 0.6 2-1.9 2-0.2 2-0.4 2-0.5 2-0.5 2-0.4 2 1 2 2.1 2 0.4 2 0.3 2-2.2 2 0.9 2 0.1 2-1.2 2 0.2 2 0.2 2 0.2 2 1.3 2-0.2 2 0 2-0.1 2-0.1 2 1.6 2-1.1 2-0.2 2-0.3 2-1 2-0.2 2 0 2 0.1 2 1.3 2 0.1 2 0.1 2 0 2 0 2-0.7 2 0 2 0.2 2 0 2 0 2 0.1 2 0.3 2 0.3 2 0 2 0.2 2 0.1 2 0.1 2 0.1 2 0.2 2 0.2 2 0.2 2 0 2 0.1 2 0.3 2-0.3 2-1.7 2-0.5 2 0.5 2-0.3 2-0.3 2-0.1 2 0 2-0.2 2 0.1 2 0 2 0.1 2 0 2 0.1 2 0.2 2 0.1 2 0.1 2 0.2 2 0 2 0.2 2 0 2 0 2-1 2-0.1 2-0.4 2-0.2 2-0.5 2-0.1 2 0 2 0 2 0.2 2 0.2 2 2.4 2 0.4 2 0.7 2 0.6 2 0.6 2-1.2 2 0.1 2 0 2-0.2 2 0 2-0.1 2 0 2 1.3 2 0.2 2 0.3 2 0.3 2 0.5 2-0.6 2 0.8 2 2.2 2 0.9 2 0.9 2 0.1 2 0.1 2-0.6 2 0.1 2 0.2 2 0.9 2 0.4 2 1.3 2 1.3 2 1.3 2 1.6 2 0.9 2 1.2 2 1.2 2 1.3 2 1.1 2 1.8 2 0.9 2 0.8 2 0.8 2 0.5 2 0.9 2 0.8 2 0.7 2 0.7 2-0.3 2 0.6 2 0.6 2 1 2 0.7 2 0.9 2 1 2 1 2 1.1 2 1.3 2 1.2 2 2.5 2 2.5 2 3.5 1 2.8" stroke-width="4.4" fill="none" stroke-linejoin="round"/>
<path d="M723.2 1062.4L725.0 984.7L727.0 984.7L728.8 1062.4Z" stroke-width="2.5" stroke-linejoin="round"/>
<path d="M743.2 1061.6L745.0 1028.0L747.0 1028.0L748.8 1061.6Z" stroke-width="2.5" stroke-linejoin="round"/>
</g>
<text transform="translate(134.5 1124.5) scale(1 1.035)" text-anchor="end">0</text>
<text transform="translate(134.5 943.2) scale(1 1.035)" text-anchor="end">5</text>
<text transform="translate(156.4 1173.3) scale(1 1.035)" text-anchor="middle">0</text>
<text transform="translate(353.5 1173.3) scale(1 1.035)" text-anchor="middle">100</text>
<text transform="translate(550.6 1173.3) scale(1 1.035)" text-anchor="middle">200</text>
<text transform="translate(747.7 1173.3) scale(1 1.035)" text-anchor="middle">300</text>
<text transform="translate(944.9 1173.3) scale(1 1.035)" text-anchor="middle">400</text>
<text transform="translate(1142.0 1173.3) scale(1 1.035)" text-anchor="middle">500</text>
<text transform="translate(1339.1 1173.3) scale(1 1.035)" text-anchor="middle">600</text>
<text transform="translate(488.0 879.8) scale(1 1.015)">Frequency: 7.075 MHz</text>
<text transform="translate(155.4 879.8) scale(1 1.03)">(×10<tspan font-size="33" dy="-18">6</tspan><tspan dy="18">)</tspan></text>
<text transform="translate(1364.4 879.3) scale(1 1.0)">(c)</text>
<text transform="translate(86.6 1008.6) rotate(-90) scale(1 1.015)" text-anchor="middle">Amplititude</text>
<rect x="805" y="915.9" width="519.5" height="67.0" fill="#fff"/>
<path d="M756.3 936.0 H817.2" stroke="#df252f" stroke-width="3.8"/>
<path d="M756.3 965.2 H817.2" stroke="#61c132" stroke-width="4.6"/>
<text transform="translate(818.4 946.8) scale(1 1.015)">Bernoulli map</text>
<text transform="translate(817.9 986.9) scale(1 1.015)">40-bit Barker-like code</text>
<path d="M1324.5 915.9 V982.9" stroke="#555" stroke-width="1.2"/>
<text transform="translate(738.0 1236.0) scale(1 1.015)" text-anchor="middle">Range / km</text>
</svg>
</body></html>
